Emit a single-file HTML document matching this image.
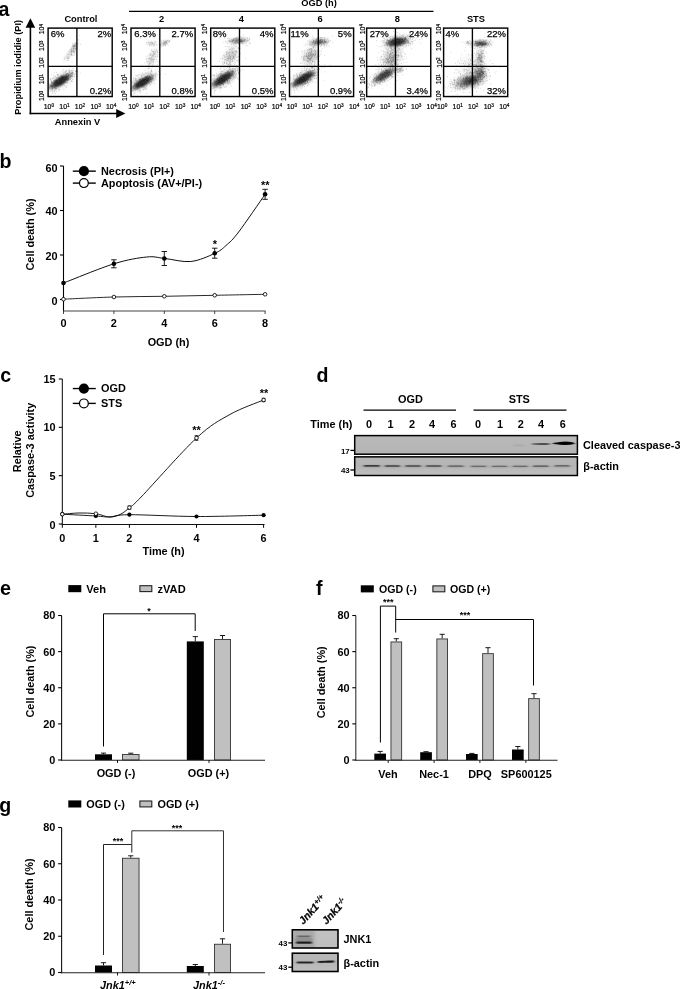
<!DOCTYPE html>
<html><head><meta charset="utf-8"><title>Figure</title>
<style>html,body{margin:0;padding:0;background:#fff}svg{display:block}text{font-family:"Liberation Sans",sans-serif;fill:#000}</style>
</head><body>
<svg width="680" height="989" viewBox="0 0 680 989">
<rect width="680" height="989" fill="#fff"/>
<g opacity="0.999">
<defs>
<radialGradient id="gf"><stop offset="0" stop-opacity="1"/><stop offset="0.38" stop-opacity="1"/><stop offset="0.55" stop-opacity="0.72"/><stop offset="0.75" stop-opacity="0.3"/><stop offset="0.9" stop-opacity="0.08"/><stop offset="1" stop-opacity="0"/></radialGradient>
<radialGradient id="gg"><stop offset="0" stop-opacity="1"/><stop offset="0.2" stop-opacity="0.87"/><stop offset="0.4" stop-opacity="0.58"/><stop offset="0.6" stop-opacity="0.3"/><stop offset="0.8" stop-opacity="0.11"/><stop offset="1" stop-opacity="0"/></radialGradient>
<radialGradient id="g1"><stop offset="0" stop-color="#000" stop-opacity="1"/><stop offset="0.45" stop-color="#000" stop-opacity="0.85"/><stop offset="0.75" stop-color="#000" stop-opacity="0.35"/><stop offset="1" stop-color="#000" stop-opacity="0"/></radialGradient>
<radialGradient id="g2"><stop offset="0" stop-color="#000" stop-opacity="0.8"/><stop offset="0.5" stop-color="#000" stop-opacity="0.4"/><stop offset="1" stop-color="#000" stop-opacity="0"/></radialGradient>
<filter id="grain" x="0" y="0" width="100%" height="100%" filterUnits="objectBoundingBox" color-interpolation-filters="sRGB"><feTurbulence type="fractalNoise" baseFrequency="1.1" numOctaves="2" seed="7" result="n"/><feColorMatrix in="n" type="matrix" values="0 0 0 0 0  0 0 0 0 0  0 0 0 0 0  1.6 0 0 0 -0.3" result="na"/><feComposite in="SourceGraphic" in2="na" operator="arithmetic" k1="0" k2="1.25" k3="1" k4="-0.95" result="c"/><feComponentTransfer in="c"><feFuncA type="linear" slope="2.2" intercept="0"/></feComponentTransfer></filter>
<filter id="soft" x="-5%" y="-5%" width="110%" height="110%"><feGaussianBlur stdDeviation="0.35"/></filter>
<linearGradient id="blot" x1="0" y1="0" x2="0" y2="1"><stop offset="0" stop-color="#b9b9b9"/><stop offset="1" stop-color="#b5b5b5"/></linearGradient>
<linearGradient id="blot2" x1="0" y1="0" x2="0" y2="1"><stop offset="0" stop-color="#b7b7b7"/><stop offset="0.5" stop-color="#b5b5b5"/><stop offset="1" stop-color="#c0c0c0"/></linearGradient>
<filter id="b1" x="-20%" y="-100%" width="140%" height="300%"><feGaussianBlur stdDeviation="1.1 0.45"/></filter>
<filter id="b2" x="-20%" y="-100%" width="140%" height="300%"><feGaussianBlur stdDeviation="1.2 0.55"/></filter>
</defs>
<text x="-1.4" y="15.5" text-anchor="start" style="font-size:19.6px;font-weight:bold;">a</text>
<line x1="30.4" y1="114.3" x2="30.4" y2="26" stroke="#000" stroke-width="1.6"/>
<polygon points="30.4,18.3 25.6,27.7 35.2,27.7" fill="#000"/>
<line x1="29.6" y1="113.5" x2="118" y2="113.5" stroke="#000" stroke-width="1.6"/>
<polygon points="125.4,113.5 116.2,109 116.2,118" fill="#000"/>
<text x="21.1" y="67.4" text-anchor="middle" style="font-size:9.2px;font-weight:bold;" transform="rotate(-90 21.1 67.4)">Propidium iodidie (PI)</text>
<text x="77.5" y="124.9" text-anchor="middle" style="font-size:9.3px;font-weight:bold;">Annexin V</text>
<text x="301.2" y="6.3" text-anchor="start" style="font-size:9.3px;font-weight:bold;">OGD (h)</text>
<line x1="129" y1="11.3" x2="433.5" y2="11.3" stroke="#000" stroke-width="1.2"/>
<clipPath id="cp0"><rect x="48.1" y="28.1" width="64.1" height="68.45"/></clipPath>
<g clip-path="url(#cp0)"><g filter="url(#soft)">
<ellipse cx="60.4" cy="81.2" rx="16.8" ry="5.5" fill="url(#gf)" opacity="0.74" transform="rotate(-33 60.4 81.2)"/>
<ellipse cx="60.6" cy="80.6" rx="21" ry="9.5" fill="url(#gg)" opacity="0.22" transform="rotate(-33 60.6 80.6)"/>
<ellipse cx="71.1" cy="52.1" rx="16" ry="4.6" fill="url(#gg)" opacity="0.17" transform="rotate(-52 71.1 52.1)"/>
<ellipse cx="74.6" cy="45.1" rx="5.5" ry="2.8" fill="url(#gg)" opacity="0.2" transform="rotate(-50 74.6 45.1)"/>
<path d="M59.7 81.9h.7M66.5 79.5h.7M67.1 76.4h.7M54.2 92.1h.7M62.3 81.2h.7M54.7 79.3h.7M65.7 81.6h.7M56.4 83.4h.7M60.8 75.7h.7M57.9 86.6h.7M64.9 77.8h.7M56.1 84.0h.7M66.7 76.2h.7M55.4 81.0h.7M65.4 82.0h.7M54.9 80.4h.7M58.3 81.7h.7M55.8 85.0h.7M54.4 81.2h.7M54.5 90.5h.7M62.0 81.4h.7M60.7 78.2h.7M51.8 93.5h.7M54.4 87.1h.7M59.3 82.3h.7M58.5 82.6h.7M63.1 79.0h.7M65.2 78.9h.7M75.4 71.0h.7M60.9 80.5h.7M66.1 86.2h.7M67.9 71.2h.7M56.2 80.9h.7M66.6 76.6h.7M76.6 71.8h.7M64.0 82.7h.7M60.5 78.4h.7M56.3 81.0h.7M50.4 86.7h.7M56.4 78.0h.7M51.7 82.9h.7M51.1 81.0h.7M53.5 83.7h.7M60.7 79.4h.7M52.5 86.1h.7M71.1 75.6h.7M66.5 77.3h.7M66.7 79.4h.7M63.9 80.5h.7M60.7 78.8h.7M77.4 71.3h.7M72.8 73.9h.7M64.4 79.4h.7M62.9 78.6h.7M57.3 84.4h.7M54.1 81.7h.7M61.0 82.5h.7M54.4 81.7h.7M67.6 73.6h.7M57.1 86.4h.7M61.0 78.8h.7M64.2 77.4h.7M59.2 81.5h.7M58.3 85.7h.7M66.0 76.4h.7M58.0 82.0h.7M61.9 82.7h.7M69.5 75.6h.7M53.5 78.6h.7M51.4 82.3h.7M67.8 74.9h.7M61.1 83.5h.7M60.9 83.6h.7M57.0 80.7h.7M62.0 83.1h.7M56.0 81.0h.7M56.6 82.2h.7M59.1 84.7h.7M55.7 83.2h.7M57.0 83.8h.7M58.4 85.5h.7M57.5 83.6h.7M56.2 88.5h.7M62.0 71.0h.7M61.5 81.7h.7M50.3 78.6h.7M51.6 83.4h.7M64.5 77.1h.7M58.6 84.4h.7M63.1 69.7h.7M60.0 84.2h.7M64.6 80.2h.7M62.4 77.9h.7M65.5 78.5h.7M54.8 80.6h.7M59.0 86.1h.7M68.1 75.9h.7M67.6 78.6h.7M67.1 78.1h.7M57.4 82.3h.7M71.8 62.3h.7M62.6 82.9h.7M62.4 76.3h.7M71.4 73.7h.7M52.3 92.7h.7M55.5 85.3h.7M74.0 76.5h.7M53.2 77.8h.7M54.2 84.0h.7M58.8 77.5h.7M56.1 89.0h.7M60.4 83.6h.7M71.8 72.2h.7M69.6 65.5h.7M61.9 80.1h.7M62.9 73.1h.7M54.7 86.2h.7M61.9 77.1h.7M51.4 81.7h.7M63.5 77.4h.7M61.6 83.1h.7M61.2 85.9h.7M59.3 78.5h.7M61.6 84.5h.7M62.1 80.8h.7M48.7 86.9h.7M64.9 78.0h.7M56.2 80.5h.7M57.3 75.0h.7M66.8 73.4h.7M59.4 78.4h.7M59.5 79.2h.7M66.5 80.4h.7M77.3 65.7h.7M73.5 48.4h.7M71.3 51.4h.7M72.9 46.4h.7M67.3 60.7h.7M73.7 48.3h.7M77.4 43.3h.7M73.8 52.4h.7M72.3 43.3h.7M71.0 54.9h.7M72.8 48.9h.7M72.4 50.7h.7M67.6 58.1h.7M64.3 58.9h.7M71.2 52.0h.7M73.5 51.3h.7M68.5 57.7h.7M75.3 46.9h.7M76.2 43.3h.7M75.0 43.5h.7M71.7 47.4h.7" stroke="#222" stroke-width="0.75" stroke-opacity="0.3" fill="none"/>
<path d="M61.9 77.9h.7M56.2 83.2h.7M56.6 83.6h.7M71.1 73.6h.7M49.9 91.3h.7M61.1 78.6h.7M64.5 79.0h.7M59.9 82.4h.7M55.2 88.1h.7M66.2 82.6h.7M64.3 80.9h.7M49.4 84.8h.7M63.9 85.3h.7M61.9 83.4h.7M62.2 81.6h.7M60.9 78.6h.7M54.8 88.4h.7M58.2 79.1h.7M61.8 80.0h.7M55.7 78.3h.7M61.5 78.4h.7M60.0 82.3h.7M60.3 87.3h.7M60.3 79.5h.7M50.9 82.0h.7M58.1 87.9h.7M70.7 81.1h.7M64.7 83.5h.7M66.2 75.1h.7M66.7 82.2h.7M62.8 82.6h.7M61.9 80.7h.7M65.0 79.7h.7M50.9 85.5h.7M67.4 73.8h.7M61.0 82.2h.7M68.2 79.2h.7M52.0 82.6h.7M70.3 73.9h.7M61.0 83.5h.7M63.5 83.5h.7M56.8 85.3h.7M57.7 85.5h.7M59.5 81.9h.7M62.9 75.9h.7M53.8 80.7h.7M51.0 84.9h.7M56.5 82.0h.7M61.7 86.4h.7M71.8 72.6h.7M55.1 81.3h.7M53.5 91.4h.7M52.3 87.1h.7M55.3 80.9h.7M74.5 76.2h.7M61.0 77.7h.7M57.9 78.4h.7M60.8 76.9h.7M53.8 83.2h.7M75.2 71.5h.7M68.4 79.3h.7M62.0 77.8h.7M58.0 81.6h.7M53.6 81.9h.7M66.6 77.4h.7M62.0 81.6h.7M63.9 79.2h.7M55.7 85.6h.7M65.0 76.6h.7M53.1 85.6h.7M66.4 77.8h.7M71.9 76.4h.7M60.4 78.4h.7M72.7 76.9h.7M57.5 88.3h.7M57.8 74.7h.7M70.7 75.3h.7M62.7 74.6h.7M65.0 74.1h.7M55.1 82.8h.7M66.2 77.0h.7M53.6 82.5h.7M51.7 86.7h.7M66.3 70.9h.7M48.6 84.1h.7M51.3 86.0h.7M66.9 83.1h.7M65.8 74.3h.7M69.0 71.9h.7M50.1 85.7h.7M65.8 79.4h.7M59.3 90.9h.7M53.0 83.6h.7M49.6 87.4h.7M50.3 80.0h.7M60.2 83.7h.7M55.1 76.7h.7M60.9 82.5h.7M60.2 80.5h.7M69.4 70.8h.7M55.9 77.6h.7M56.0 79.4h.7M63.9 79.1h.7M63.7 85.1h.7M55.6 84.6h.7M65.2 86.6h.7M62.5 76.6h.7M55.9 80.9h.7M60.9 84.4h.7M63.4 84.8h.7M58.9 81.6h.7M63.9 72.2h.7M62.8 78.5h.7M57.6 77.1h.7M57.2 79.2h.7M56.0 86.1h.7M74.1 74.1h.7M54.9 84.0h.7M79.8 73.1h.7M54.2 72.4h.7M54.5 76.7h.7M51.4 74.2h.7M58.3 81.7h.7M62.1 83.1h.7M69.4 70.9h.7M70.0 83.7h.7M57.8 82.6h.7M70.1 79.1h.7M60.4 76.2h.7M70.4 76.3h.7M59.5 80.0h.7M66.2 70.6h.7M69.3 79.8h.7M59.4 82.8h.7M66.8 56.5h.7M75.3 48.7h.7M77.2 47.9h.7M78.1 39.8h.7M67.0 58.6h.7M74.8 46.7h.7M74.1 46.8h.7M71.3 54.5h.7M79.5 35.7h.7M74.7 49.1h.7M71.1 49.4h.7M74.3 51.5h.7M75.0 48.5h.7M73.2 48.8h.7M71.4 51.9h.7M71.8 52.1h.7M76.7 44.5h.7M75.2 45.2h.7M71.4 48.4h.7" stroke="#222" stroke-width="0.75" stroke-opacity="0.3" fill="none"/>
<path d="M58.1 84.2h.7M54.0 84.4h.7M58.6 80.3h.7M76.4 71.0h.7M49.6 85.8h.7M63.0 78.0h.7M72.7 72.6h.7M59.2 80.8h.7M59.3 78.3h.7M56.0 80.3h.7M52.1 85.7h.7M67.9 78.4h.7M66.5 77.7h.7M57.1 80.8h.7M64.3 76.9h.7M55.3 85.8h.7M71.8 75.0h.7M60.6 81.8h.7M56.4 82.6h.7M66.0 78.8h.7M59.5 82.0h.7M64.0 79.9h.7M68.2 78.2h.7M51.3 86.3h.7M55.0 89.3h.7M67.8 79.2h.7M59.6 83.7h.7M66.7 80.6h.7M68.2 74.2h.7M59.6 77.8h.7M54.7 80.6h.7M71.4 70.5h.7M59.3 85.7h.7M61.3 76.4h.7M65.1 82.3h.7M60.7 78.7h.7M59.6 84.1h.7M61.9 76.4h.7M63.4 78.3h.7M55.4 86.1h.7M59.6 79.9h.7M55.4 82.5h.7M69.7 79.2h.7M59.5 79.5h.7M63.9 77.1h.7M60.3 79.7h.7M65.9 77.2h.7M69.9 77.8h.7M62.1 79.7h.7M61.9 80.9h.7M57.3 83.3h.7M58.7 84.1h.7M56.8 83.0h.7M62.2 84.9h.7M57.1 81.9h.7M70.0 73.6h.7M56.1 85.1h.7M61.2 83.7h.7M57.3 83.3h.7M76.4 74.4h.7M61.3 79.4h.7M60.8 80.5h.7M58.2 83.0h.7M57.7 83.9h.7M67.4 75.8h.7M56.3 85.5h.7M51.9 91.3h.7M57.0 85.0h.7M72.0 74.0h.7M62.0 80.8h.7M51.0 90.4h.7M49.7 88.5h.7M71.6 72.8h.7M57.6 79.0h.7M63.1 79.0h.7M53.6 81.6h.7M70.0 74.8h.7M71.8 71.1h.7M57.6 75.5h.7M63.8 80.0h.7M55.8 81.8h.7M76.8 76.0h.7M59.0 76.9h.7M59.3 80.6h.7M71.9 73.1h.7M66.8 78.8h.7M67.0 80.0h.7M72.1 81.4h.7M69.3 71.7h.7M67.1 76.6h.7M62.6 76.9h.7M62.2 78.2h.7M50.6 79.1h.7M64.9 72.0h.7M65.0 72.1h.7M54.0 91.0h.7M64.2 78.5h.7M56.9 86.5h.7M59.2 81.4h.7M61.1 79.9h.7M59.4 79.5h.7M55.9 87.1h.7M71.6 78.4h.7M58.3 75.5h.7M62.6 81.6h.7M60.8 77.2h.7M61.3 83.7h.7M66.1 78.9h.7M56.3 81.9h.7M70.4 70.9h.7M50.3 79.1h.7M60.5 84.3h.7M72.4 68.4h.7M56.2 91.2h.7M66.0 80.0h.7M71.9 75.6h.7M71.1 75.5h.7M52.1 82.5h.7M65.0 71.2h.7M71.2 76.3h.7M69.1 72.7h.7M56.5 82.5h.7M62.1 79.6h.7M59.9 86.0h.7M61.5 77.8h.7M50.9 83.5h.7M56.1 81.9h.7M61.5 77.2h.7M71.7 70.9h.7M59.3 81.5h.7M63.3 76.0h.7M51.4 86.2h.7M54.1 85.0h.7M71.4 81.3h.7M74.6 49.8h.7M67.4 54.4h.7M64.6 57.4h.7M71.1 54.0h.7M67.7 58.3h.7M73.4 50.7h.7M74.8 53.6h.7M73.0 51.6h.7M70.8 54.6h.7M72.3 45.5h.7M73.7 50.9h.7M74.3 55.1h.7M74.5 44.2h.7M71.0 50.4h.7M68.0 60.2h.7M74.8 49.1h.7M74.1 45.7h.7M72.9 45.1h.7M75.4 46.1h.7" stroke="#222" stroke-width="0.75" stroke-opacity="0.3" fill="none"/>
<path d="M56.4 83.0h.7M63.1 79.1h.7M59.9 82.1h.7M66.5 73.3h.7M63.0 83.3h.7M61.4 76.8h.7M64.1 80.6h.7M75.4 71.2h.7M69.9 76.7h.7M64.3 79.5h.7M60.9 80.9h.7M51.9 89.8h.7M57.6 84.2h.7M67.8 77.8h.7M59.9 85.3h.7M51.5 86.6h.7M56.4 80.9h.7M54.6 90.8h.7M57.6 84.2h.7M60.4 80.3h.7M67.6 79.0h.7M64.5 82.4h.7M50.4 86.3h.7M60.4 79.4h.7M59.5 81.3h.7M63.7 79.6h.7M67.8 78.5h.7M66.1 87.5h.7M68.2 80.4h.7M65.0 79.9h.7M50.6 85.8h.7M56.9 85.8h.7M67.6 81.0h.7M49.5 87.8h.7M67.3 77.3h.7M59.2 81.8h.7M63.4 82.2h.7M68.2 75.9h.7M52.2 88.8h.7M66.7 78.8h.7M64.4 78.8h.7M65.5 78.4h.7M54.7 88.3h.7M65.0 77.9h.7M64.4 79.7h.7M70.3 76.6h.7M60.1 82.0h.7M55.2 81.3h.7M72.8 70.5h.7M55.3 87.3h.7M57.9 77.7h.7M63.6 81.8h.7M64.3 79.0h.7M53.9 85.1h.7M60.9 79.0h.7M57.4 83.7h.7M61.7 76.0h.7M59.5 84.2h.7M51.9 87.4h.7M61.3 75.1h.7M76.9 71.2h.7M56.0 82.6h.7M58.0 83.9h.7M56.7 80.9h.7M62.0 77.5h.7M50.6 86.0h.7M64.3 81.6h.7M57.3 84.3h.7M52.7 87.2h.7M63.1 81.0h.7M54.1 87.3h.7M57.5 82.5h.7M55.8 80.6h.7M52.2 88.6h.7M66.8 77.5h.7M67.4 79.9h.7M67.3 82.7h.7M65.3 78.1h.7M52.3 78.7h.7M69.5 78.7h.7M56.1 86.2h.7M65.7 77.6h.7M62.2 84.8h.7M55.7 89.1h.7M59.1 82.0h.7M58.1 89.9h.7M68.6 69.4h.7M76.9 66.2h.7M71.6 72.7h.7M60.7 81.2h.7M71.9 73.7h.7M60.5 78.8h.7M63.2 77.3h.7M52.9 80.5h.7M58.7 80.3h.7M63.6 89.2h.7M70.0 77.0h.7M54.0 82.9h.7M62.6 77.0h.7M60.8 79.2h.7M61.9 78.3h.7M56.9 74.3h.7M72.6 76.7h.7M62.1 80.1h.7M66.0 74.8h.7M53.5 75.1h.7M71.9 79.5h.7M60.5 79.8h.7M71.4 81.0h.7M52.3 88.3h.7M56.6 83.5h.7M67.5 79.6h.7M61.0 78.2h.7M54.5 82.3h.7M57.1 83.2h.7M68.0 76.0h.7M59.8 85.5h.7M58.2 80.4h.7M60.1 75.7h.7M64.2 77.8h.7M74.2 74.6h.7M51.5 86.1h.7M56.1 82.8h.7M64.9 77.0h.7M51.9 88.7h.7M52.9 83.1h.7M55.8 79.5h.7M75.4 73.1h.7M56.3 72.6h.7M59.0 89.4h.7M62.6 79.0h.7M63.8 82.8h.7M54.9 93.5h.7M59.2 83.6h.7M70.5 49.2h.7M72.5 55.7h.7M68.8 51.2h.7M75.3 51.0h.7M68.9 57.8h.7M74.4 53.0h.7M72.5 50.2h.7M70.1 50.2h.7M72.8 55.1h.7M74.5 46.7h.7M80.1 44.5h.7M73.5 45.4h.7M70.9 55.1h.7M66.9 58.6h.7M73.4 52.3h.7M72.8 46.3h.7M73.3 46.6h.7M73.7 47.8h.7M73.3 46.7h.7" stroke="#222" stroke-width="0.75" stroke-opacity="0.3" fill="none"/>
</g></g>
<rect x="48.1" y="28.1" width="64.1" height="68.45" fill="none" stroke="#000" stroke-width="1.45"/>
<line x1="76.9" y1="28.1" x2="76.9" y2="96.55000000000001" stroke="#000" stroke-width="1.35"/>
<line x1="48.1" y1="66.35" x2="112.19999999999999" y2="66.35" stroke="#000" stroke-width="1.3"/>
<text x="80.95" y="22.4" text-anchor="middle" style="font-size:9.3px;font-weight:bold;">Control</text>
<text x="50.800000000000004" y="37.1" text-anchor="start" style="font-size:9.5px;" stroke="#000" stroke-width="0.25">6%</text>
<text x="111.29999999999998" y="37.1" text-anchor="end" style="font-size:9.5px;" stroke="#000" stroke-width="0.25">2%</text>
<text x="111.29999999999998" y="93.7" text-anchor="end" style="font-size:9.5px;" stroke="#000" stroke-width="0.25">0.2%</text>
<text x="48.9" y="109.1" text-anchor="middle" stroke="#000" stroke-width="0.2" style="font-size:6.9px">10<tspan dy="-1.9" style="font-size:4.7px">0</tspan></text>
<text x="64.5" y="109.1" text-anchor="middle" stroke="#000" stroke-width="0.2" style="font-size:6.9px">10<tspan dy="-1.9" style="font-size:4.7px">1</tspan></text>
<text x="80.0" y="109.1" text-anchor="middle" stroke="#000" stroke-width="0.2" style="font-size:6.9px">10<tspan dy="-1.9" style="font-size:4.7px">2</tspan></text>
<text x="95.6" y="109.1" text-anchor="middle" stroke="#000" stroke-width="0.2" style="font-size:6.9px">10<tspan dy="-1.9" style="font-size:4.7px">3</tspan></text>
<text x="111.1" y="109.1" text-anchor="middle" stroke="#000" stroke-width="0.2" style="font-size:6.9px">10<tspan dy="-1.9" style="font-size:4.7px">4</tspan></text>
<text x="44.4" y="95.9" text-anchor="middle" transform="rotate(-90 44.4 95.9)" stroke="#000" stroke-width="0.2" style="font-size:6.9px">10<tspan dy="-1.8" style="font-size:4.7px">0</tspan></text>
<text x="44.4" y="79.2" text-anchor="middle" transform="rotate(-90 44.4 79.2)" stroke="#000" stroke-width="0.2" style="font-size:6.9px">10<tspan dy="-1.8" style="font-size:4.7px">1</tspan></text>
<text x="44.4" y="62.5" text-anchor="middle" transform="rotate(-90 44.4 62.5)" stroke="#000" stroke-width="0.2" style="font-size:6.9px">10<tspan dy="-1.8" style="font-size:4.7px">2</tspan></text>
<text x="44.4" y="45.8" text-anchor="middle" transform="rotate(-90 44.4 45.8)" stroke="#000" stroke-width="0.2" style="font-size:6.9px">10<tspan dy="-1.8" style="font-size:4.7px">3</tspan></text>
<text x="44.4" y="29.1" text-anchor="middle" transform="rotate(-90 44.4 29.1)" stroke="#000" stroke-width="0.2" style="font-size:6.9px">10<tspan dy="-1.8" style="font-size:4.7px">4</tspan></text>
<clipPath id="cp1"><rect x="131.0" y="28.1" width="64.1" height="68.45"/></clipPath>
<g clip-path="url(#cp1)"><g filter="url(#soft)">
<ellipse cx="142.6" cy="82.5" rx="15.5" ry="5.3" fill="url(#gf)" opacity="0.74" transform="rotate(-31 142.6 82.5)"/>
<ellipse cx="143.0" cy="81.6" rx="20" ry="10" fill="url(#gg)" opacity="0.25" transform="rotate(-31 143.0 81.6)"/>
<ellipse cx="152.5" cy="57.6" rx="15" ry="7" fill="url(#gg)" opacity="0.15" transform="rotate(-66 152.5 57.6)"/>
<ellipse cx="164.5" cy="43.1" rx="7" ry="4" fill="url(#gg)" opacity="0.25" transform="rotate(-30 164.5 43.1)"/>
<ellipse cx="152.0" cy="43.7" rx="8" ry="4.5" fill="url(#gg)" opacity="0.13" transform="rotate(0 152.0 43.7)"/>
<path d="M146.2 78.2h.7M138.2 84.9h.7M151.4 75.1h.7M143.4 89.4h.7M146.1 77.8h.7M150.2 80.9h.7M137.5 80.2h.7M140.8 83.5h.7M146.6 77.9h.7M153.0 76.1h.7M138.4 84.1h.7M140.9 86.9h.7M152.2 77.7h.7M143.5 83.5h.7M142.2 83.5h.7M131.7 90.2h.7M143.2 87.2h.7M145.6 77.5h.7M140.8 85.3h.7M139.9 86.0h.7M149.0 75.7h.7M145.3 88.9h.7M144.8 84.8h.7M142.3 81.7h.7M149.2 76.2h.7M132.5 91.3h.7M142.5 85.9h.7M151.6 79.8h.7M133.6 85.7h.7M140.3 83.5h.7M141.3 82.2h.7M143.7 86.5h.7M145.7 80.9h.7M135.9 82.9h.7M144.8 79.0h.7M138.2 86.8h.7M144.1 77.4h.7M140.4 90.8h.7M149.5 76.8h.7M133.5 91.5h.7M139.2 87.4h.7M142.6 80.1h.7M133.2 90.1h.7M145.5 78.0h.7M148.7 83.7h.7M145.2 87.7h.7M142.2 85.1h.7M141.4 80.8h.7M132.1 87.9h.7M134.7 92.7h.7M137.2 85.7h.7M140.2 82.6h.7M141.1 82.5h.7M134.8 83.9h.7M145.6 79.7h.7M148.2 77.7h.7M136.2 86.3h.7M145.3 76.7h.7M133.3 86.6h.7M138.4 88.5h.7M135.3 88.7h.7M145.6 78.7h.7M133.4 81.8h.7M151.5 77.6h.7M137.9 86.2h.7M135.8 80.8h.7M152.1 77.0h.7M135.9 85.9h.7M138.0 84.2h.7M141.9 84.1h.7M143.0 79.8h.7M142.8 80.1h.7M144.7 84.8h.7M148.2 80.2h.7M137.4 88.2h.7M138.4 87.4h.7M142.9 84.9h.7M132.8 82.0h.7M148.2 81.2h.7M144.4 87.3h.7M140.9 80.2h.7M150.3 79.2h.7M139.2 80.4h.7M142.3 86.9h.7M141.6 82.7h.7M142.3 83.1h.7M150.1 81.1h.7M135.3 79.4h.7M150.6 81.4h.7M131.6 88.0h.7M133.1 79.7h.7M144.9 84.0h.7M143.7 80.3h.7M145.8 78.2h.7M143.5 85.0h.7M144.5 77.4h.7M137.5 88.4h.7M144.9 82.3h.7M134.3 89.0h.7M148.1 83.1h.7M144.8 86.8h.7M133.7 86.1h.7M139.2 79.5h.7M142.4 78.0h.7M146.9 76.7h.7M142.0 75.2h.7M137.4 82.3h.7M151.1 82.8h.7M146.8 76.8h.7M149.3 83.0h.7M140.0 84.8h.7M149.6 79.1h.7M140.3 83.2h.7M131.5 93.7h.7M145.8 88.8h.7M148.4 82.3h.7M151.1 77.7h.7M148.4 78.4h.7M147.8 72.2h.7M145.8 78.7h.7M155.2 74.0h.7M151.5 71.5h.7M141.6 80.9h.7M149.1 75.3h.7M151.1 71.3h.7M138.5 84.2h.7M137.6 83.9h.7M146.0 83.5h.7M136.0 84.1h.7M144.4 88.8h.7M141.6 81.5h.7M137.4 87.1h.7M144.8 69.9h.7M157.0 51.7h.7M152.7 51.8h.7M154.1 53.3h.7M154.1 49.7h.7M149.1 58.7h.7M153.9 54.5h.7M150.3 58.9h.7M155.1 56.6h.7M158.8 52.5h.7M150.3 54.2h.7M156.5 59.8h.7M156.5 51.1h.7M151.7 55.3h.7M155.4 51.3h.7M151.5 69.0h.7M148.8 68.6h.7M145.8 56.3h.7M153.2 53.8h.7M149.8 54.2h.7M157.4 54.4h.7M163.0 41.1h.7M165.9 41.9h.7M163.0 44.6h.7M165.7 43.1h.7M163.2 43.3h.7M163.8 45.5h.7M165.6 40.9h.7M166.2 42.0h.7M148.3 42.9h.7M149.3 42.8h.7M147.6 42.8h.7M151.2 42.4h.7M155.4 41.7h.7M150.1 42.8h.7" stroke="#222" stroke-width="0.75" stroke-opacity="0.3" fill="none"/>
<path d="M142.5 87.5h.7M147.5 80.5h.7M144.4 87.8h.7M137.7 86.4h.7M149.9 73.5h.7M144.9 82.0h.7M142.3 85.8h.7M150.9 81.6h.7M149.8 77.8h.7M143.9 78.8h.7M155.0 79.1h.7M152.2 77.9h.7M143.3 86.7h.7M148.0 81.1h.7M151.1 77.9h.7M146.6 83.2h.7M145.3 79.0h.7M145.8 77.4h.7M139.6 90.4h.7M154.3 74.1h.7M150.2 76.7h.7M141.3 81.4h.7M139.3 85.1h.7M137.6 86.2h.7M134.7 90.5h.7M151.6 81.6h.7M136.1 85.8h.7M147.7 76.7h.7M146.2 80.3h.7M143.9 82.4h.7M146.5 80.2h.7M142.1 82.3h.7M140.1 79.5h.7M146.3 85.2h.7M141.5 86.8h.7M147.9 79.0h.7M135.6 87.7h.7M137.2 86.9h.7M143.1 88.9h.7M149.6 79.8h.7M140.6 84.0h.7M155.9 75.2h.7M149.0 76.8h.7M138.2 83.4h.7M139.6 84.8h.7M142.9 81.6h.7M151.7 74.8h.7M135.5 80.1h.7M137.9 85.1h.7M153.5 76.9h.7M151.0 79.6h.7M144.7 82.3h.7M146.7 80.7h.7M139.5 83.0h.7M135.2 90.1h.7M142.1 73.1h.7M135.7 78.9h.7M134.3 84.2h.7M138.4 84.3h.7M138.3 87.3h.7M138.0 85.1h.7M135.2 85.6h.7M146.2 82.5h.7M146.7 79.3h.7M133.6 88.5h.7M155.7 70.1h.7M149.6 84.3h.7M152.7 78.4h.7M141.7 80.8h.7M140.8 83.0h.7M134.2 85.2h.7M140.5 83.3h.7M142.3 81.9h.7M147.6 73.8h.7M131.6 80.4h.7M135.5 79.0h.7M138.2 86.3h.7M139.5 84.8h.7M141.7 81.1h.7M148.9 78.1h.7M132.0 82.2h.7M146.0 79.7h.7M154.3 83.2h.7M149.0 79.4h.7M142.2 79.9h.7M150.7 74.5h.7M137.6 91.4h.7M139.5 74.3h.7M136.5 84.8h.7M142.6 90.1h.7M149.4 81.8h.7M137.1 81.3h.7M135.6 89.2h.7M150.5 78.4h.7M144.5 79.8h.7M150.6 74.3h.7M155.6 73.9h.7M138.3 84.2h.7M137.2 88.5h.7M156.7 64.7h.7M140.4 79.4h.7M151.0 71.0h.7M138.7 83.1h.7M144.7 76.9h.7M165.1 73.9h.7M148.1 68.6h.7M141.9 78.7h.7M142.0 86.4h.7M143.2 80.0h.7M146.1 77.1h.7M140.7 83.2h.7M134.3 83.2h.7M141.2 76.8h.7M144.6 83.1h.7M144.0 82.7h.7M144.4 74.7h.7M134.8 81.3h.7M136.9 90.3h.7M147.7 77.9h.7M132.9 77.8h.7M147.1 78.1h.7M141.4 85.5h.7M146.4 86.1h.7M140.6 85.0h.7M136.9 85.8h.7M134.7 85.8h.7M140.4 79.8h.7M138.9 79.7h.7M135.9 83.3h.7M135.2 78.5h.7M138.7 78.2h.7M151.6 82.4h.7M137.3 85.8h.7M158.4 62.2h.7M153.0 51.9h.7M149.9 58.4h.7M156.6 50.6h.7M150.6 53.7h.7M153.5 59.9h.7M153.6 59.5h.7M157.2 52.6h.7M149.6 63.6h.7M151.4 57.6h.7M151.3 57.9h.7M151.6 50.8h.7M141.6 65.0h.7M146.9 61.3h.7M151.5 59.7h.7M147.6 58.4h.7M151.9 66.1h.7M153.3 59.6h.7M149.7 71.0h.7M160.5 44.5h.7M169.0 41.6h.7M167.7 45.2h.7M161.2 46.5h.7M159.7 45.0h.7M161.0 41.0h.7M166.7 40.7h.7M165.4 43.8h.7M169.1 40.5h.7M147.8 41.1h.7M151.1 42.3h.7M154.4 45.0h.7M146.2 42.9h.7M152.0 43.4h.7M155.4 41.5h.7" stroke="#222" stroke-width="0.75" stroke-opacity="0.3" fill="none"/>
<path d="M140.1 81.7h.7M147.7 80.7h.7M141.5 83.2h.7M144.2 83.7h.7M151.9 78.9h.7M139.8 79.8h.7M136.1 85.6h.7M144.8 79.7h.7M152.1 80.1h.7M147.1 80.6h.7M152.5 78.8h.7M147.9 79.2h.7M146.0 81.1h.7M150.5 79.1h.7M140.9 81.7h.7M146.1 79.1h.7M138.4 86.4h.7M137.6 82.2h.7M158.0 71.5h.7M142.9 78.9h.7M145.7 77.2h.7M139.5 82.1h.7M139.7 81.9h.7M138.6 82.8h.7M141.1 80.8h.7M144.3 79.9h.7M147.0 81.5h.7M150.4 76.9h.7M138.9 90.2h.7M144.0 80.4h.7M136.7 84.9h.7M143.6 80.7h.7M143.3 74.5h.7M148.8 76.7h.7M136.2 84.2h.7M152.8 80.7h.7M149.6 77.2h.7M141.4 78.2h.7M149.9 79.4h.7M142.5 83.9h.7M142.1 83.5h.7M147.3 80.6h.7M144.5 80.8h.7M139.9 80.3h.7M149.4 77.6h.7M139.8 81.7h.7M145.8 76.3h.7M132.6 86.5h.7M149.7 77.9h.7M136.4 82.0h.7M133.2 94.6h.7M147.1 75.5h.7M142.4 80.4h.7M138.1 85.7h.7M153.3 78.5h.7M135.7 86.7h.7M135.5 86.7h.7M143.7 78.9h.7M142.6 83.3h.7M146.5 83.6h.7M132.8 86.4h.7M137.0 85.7h.7M142.1 79.8h.7M135.9 86.4h.7M145.7 85.5h.7M159.9 74.4h.7M142.7 83.4h.7M151.0 77.7h.7M145.8 78.4h.7M136.5 86.7h.7M139.3 80.4h.7M137.5 84.4h.7M136.8 85.8h.7M149.5 82.7h.7M146.0 93.6h.7M144.5 81.1h.7M137.2 88.1h.7M138.2 75.0h.7M143.6 85.8h.7M140.0 78.2h.7M148.8 79.6h.7M145.3 79.7h.7M147.2 80.7h.7M146.5 79.6h.7M138.8 79.6h.7M141.9 84.6h.7M155.2 77.2h.7M133.9 88.4h.7M136.9 75.6h.7M134.6 80.5h.7M134.8 75.5h.7M150.7 73.7h.7M136.2 75.7h.7M144.3 81.9h.7M139.3 82.4h.7M142.2 79.0h.7M139.8 83.5h.7M151.0 70.3h.7M152.0 78.4h.7M139.7 79.6h.7M147.0 77.6h.7M149.3 78.9h.7M146.5 83.5h.7M145.5 73.8h.7M153.0 75.3h.7M131.5 82.4h.7M149.2 79.6h.7M153.3 80.2h.7M133.1 87.4h.7M136.3 89.5h.7M150.4 79.5h.7M134.6 82.5h.7M146.1 79.2h.7M139.4 85.8h.7M149.7 83.0h.7M142.3 79.4h.7M138.8 84.4h.7M160.7 68.8h.7M152.1 76.0h.7M143.2 78.4h.7M145.7 83.3h.7M147.1 81.5h.7M146.1 89.6h.7M148.7 80.7h.7M143.2 83.9h.7M150.8 81.6h.7M144.8 77.4h.7M133.8 93.5h.7M147.9 77.9h.7M139.1 83.7h.7M139.9 85.9h.7M147.4 79.2h.7M146.5 73.0h.7M159.3 48.1h.7M154.3 52.7h.7M152.7 64.0h.7M154.7 53.8h.7M147.7 63.0h.7M157.5 56.2h.7M148.5 59.2h.7M150.1 61.2h.7M148.5 61.7h.7M150.7 62.7h.7M151.9 51.5h.7M153.4 51.5h.7M147.8 68.2h.7M153.3 54.1h.7M146.7 61.9h.7M151.9 56.0h.7M148.7 54.9h.7M151.1 50.0h.7M151.2 59.9h.7M165.6 41.8h.7M164.9 43.6h.7M161.7 40.1h.7M159.4 46.9h.7M168.4 40.9h.7M165.1 45.2h.7M167.0 43.8h.7M169.4 42.0h.7M164.1 42.2h.7M153.7 42.3h.7M149.0 45.7h.7M148.9 44.2h.7M152.0 43.5h.7M151.9 42.7h.7M153.7 43.5h.7" stroke="#222" stroke-width="0.75" stroke-opacity="0.3" fill="none"/>
<path d="M138.5 85.8h.7M141.0 85.7h.7M140.1 84.2h.7M142.0 79.0h.7M148.4 80.3h.7M148.1 73.9h.7M135.9 87.3h.7M146.7 81.4h.7M151.1 80.5h.7M147.9 75.3h.7M155.2 75.6h.7M143.9 80.3h.7M141.0 86.7h.7M150.4 78.5h.7M140.0 83.6h.7M142.6 81.3h.7M145.7 83.1h.7M145.8 83.9h.7M137.4 85.0h.7M132.5 89.0h.7M131.9 90.8h.7M145.8 81.5h.7M155.1 76.6h.7M141.6 82.2h.7M151.2 79.6h.7M144.1 85.7h.7M144.7 76.4h.7M136.6 86.7h.7M139.5 82.1h.7M139.5 86.3h.7M147.7 80.5h.7M138.0 87.1h.7M146.0 78.9h.7M142.6 80.2h.7M145.9 76.2h.7M139.5 82.0h.7M148.9 80.7h.7M151.9 79.0h.7M146.8 83.5h.7M146.2 76.8h.7M154.1 78.9h.7M146.0 77.3h.7M132.8 87.8h.7M150.2 77.7h.7M145.5 82.5h.7M133.8 89.7h.7M152.3 75.4h.7M147.1 82.7h.7M153.2 79.9h.7M150.2 78.7h.7M144.5 84.3h.7M147.1 81.4h.7M141.8 81.2h.7M141.1 85.8h.7M148.9 76.4h.7M151.3 75.9h.7M140.8 83.6h.7M138.0 84.3h.7M136.1 88.2h.7M144.4 83.4h.7M144.0 83.1h.7M149.9 81.8h.7M143.6 83.0h.7M147.8 76.8h.7M141.4 84.0h.7M151.8 73.4h.7M133.3 85.7h.7M149.1 80.4h.7M138.6 81.9h.7M142.3 84.8h.7M146.1 81.0h.7M143.7 82.0h.7M133.6 85.0h.7M141.3 84.7h.7M138.5 89.3h.7M141.0 86.1h.7M154.0 80.1h.7M149.5 73.0h.7M143.0 80.6h.7M141.2 79.2h.7M139.8 92.0h.7M135.2 84.9h.7M146.9 85.0h.7M136.0 80.8h.7M144.5 79.2h.7M146.8 76.6h.7M144.4 79.7h.7M135.5 83.5h.7M136.2 85.4h.7M140.5 82.1h.7M147.7 80.3h.7M133.8 77.6h.7M147.6 84.1h.7M137.1 89.2h.7M142.2 79.8h.7M135.6 80.0h.7M144.9 82.9h.7M147.0 75.0h.7M138.0 83.4h.7M139.7 93.0h.7M153.6 74.9h.7M150.3 77.5h.7M145.9 87.2h.7M142.8 78.5h.7M144.1 81.1h.7M139.9 87.0h.7M134.0 83.5h.7M144.4 83.9h.7M138.6 79.2h.7M139.5 89.1h.7M139.4 90.8h.7M147.4 78.2h.7M137.4 84.1h.7M141.1 75.4h.7M141.3 75.3h.7M143.2 78.8h.7M135.0 84.3h.7M136.4 83.8h.7M138.7 81.5h.7M155.6 72.9h.7M138.9 84.5h.7M143.9 85.1h.7M136.4 85.5h.7M157.2 74.5h.7M143.3 85.3h.7M150.6 72.7h.7M150.5 84.7h.7M152.6 65.1h.7M145.4 72.9h.7M147.0 76.9h.7M148.1 80.2h.7M143.3 84.2h.7M144.6 62.8h.7M152.8 55.8h.7M157.1 56.4h.7M149.9 55.5h.7M149.5 62.8h.7M149.4 64.3h.7M151.7 60.9h.7M156.6 49.2h.7M154.9 52.0h.7M152.1 59.2h.7M148.2 65.7h.7M157.3 61.4h.7M152.7 56.0h.7M146.0 60.0h.7M148.6 64.9h.7M148.8 58.3h.7M146.2 58.8h.7M149.5 63.7h.7M153.0 61.9h.7M152.7 61.8h.7M165.0 45.4h.7M165.6 42.3h.7M168.4 41.6h.7M167.1 40.6h.7M169.8 40.1h.7M161.4 43.1h.7M164.1 42.6h.7M164.8 41.2h.7M164.4 43.9h.7M150.4 44.2h.7M153.4 44.8h.7M156.4 44.8h.7M151.1 44.9h.7M153.4 45.5h.7" stroke="#222" stroke-width="0.75" stroke-opacity="0.3" fill="none"/>
</g></g>
<rect x="131.0" y="28.1" width="64.1" height="68.45" fill="none" stroke="#000" stroke-width="1.45"/>
<line x1="159.8" y1="28.1" x2="159.8" y2="96.55000000000001" stroke="#000" stroke-width="1.35"/>
<line x1="131.0" y1="66.35" x2="195.1" y2="66.35" stroke="#000" stroke-width="1.3"/>
<text x="161.65" y="22.4" text-anchor="middle" style="font-size:9.3px;font-weight:bold;">2</text>
<text x="134.3" y="37.1" text-anchor="start" style="font-size:9.5px;" stroke="#000" stroke-width="0.25">6.3%</text>
<text x="193.2" y="37.1" text-anchor="end" style="font-size:9.5px;" stroke="#000" stroke-width="0.25">2.7%</text>
<text x="193.2" y="93.7" text-anchor="end" style="font-size:9.5px;" stroke="#000" stroke-width="0.25">0.8%</text>
<text x="133.4" y="109.1" text-anchor="middle" stroke="#000" stroke-width="0.2" style="font-size:6.9px">10<tspan dy="-1.9" style="font-size:4.7px">0</tspan></text>
<text x="149.0" y="109.1" text-anchor="middle" stroke="#000" stroke-width="0.2" style="font-size:6.9px">10<tspan dy="-1.9" style="font-size:4.7px">1</tspan></text>
<text x="164.5" y="109.1" text-anchor="middle" stroke="#000" stroke-width="0.2" style="font-size:6.9px">10<tspan dy="-1.9" style="font-size:4.7px">2</tspan></text>
<text x="180.1" y="109.1" text-anchor="middle" stroke="#000" stroke-width="0.2" style="font-size:6.9px">10<tspan dy="-1.9" style="font-size:4.7px">3</tspan></text>
<text x="195.6" y="109.1" text-anchor="middle" stroke="#000" stroke-width="0.2" style="font-size:6.9px">10<tspan dy="-1.9" style="font-size:4.7px">4</tspan></text>
<text x="126.8" y="95.9" text-anchor="middle" transform="rotate(-90 126.8 95.9)" stroke="#000" stroke-width="0.2" style="font-size:6.9px">10<tspan dy="-1.8" style="font-size:4.7px">0</tspan></text>
<text x="126.8" y="79.2" text-anchor="middle" transform="rotate(-90 126.8 79.2)" stroke="#000" stroke-width="0.2" style="font-size:6.9px">10<tspan dy="-1.8" style="font-size:4.7px">1</tspan></text>
<text x="126.8" y="62.5" text-anchor="middle" transform="rotate(-90 126.8 62.5)" stroke="#000" stroke-width="0.2" style="font-size:6.9px">10<tspan dy="-1.8" style="font-size:4.7px">2</tspan></text>
<text x="126.8" y="45.8" text-anchor="middle" transform="rotate(-90 126.8 45.8)" stroke="#000" stroke-width="0.2" style="font-size:6.9px">10<tspan dy="-1.8" style="font-size:4.7px">3</tspan></text>
<text x="126.8" y="29.1" text-anchor="middle" transform="rotate(-90 126.8 29.1)" stroke="#000" stroke-width="0.2" style="font-size:6.9px">10<tspan dy="-1.8" style="font-size:4.7px">4</tspan></text>
<clipPath id="cp2"><rect x="210.7" y="28.1" width="64.1" height="68.45"/></clipPath>
<g clip-path="url(#cp2)"><g filter="url(#soft)">
<ellipse cx="223.2" cy="78.9" rx="17" ry="5.6" fill="url(#gf)" opacity="0.74" transform="rotate(-33 223.2 78.9)"/>
<ellipse cx="223.9" cy="78.1" rx="22" ry="10.5" fill="url(#gg)" opacity="0.25" transform="rotate(-33 223.9 78.1)"/>
<ellipse cx="230.7" cy="56.1" rx="15" ry="10" fill="url(#gg)" opacity="0.2" transform="rotate(-55 230.7 56.1)"/>
<ellipse cx="238.2" cy="40.8" rx="14" ry="5" fill="url(#gg)" opacity="0.42" transform="rotate(-5 238.2 40.8)"/>
<path d="M217.1 83.4h.7M223.9 72.3h.7M220.2 75.7h.7M228.0 76.1h.7M222.7 82.5h.7M217.3 83.8h.7M235.3 74.6h.7M231.9 68.9h.7M227.8 81.3h.7M212.2 83.4h.7M231.8 72.5h.7M231.9 76.0h.7M224.7 82.6h.7M220.7 85.8h.7M224.4 75.6h.7M220.6 75.7h.7M214.7 84.9h.7M218.5 78.9h.7M237.1 67.1h.7M233.8 69.1h.7M224.3 81.2h.7M220.6 76.2h.7M227.6 71.2h.7M219.8 74.5h.7M227.0 71.4h.7M221.7 79.5h.7M232.3 68.5h.7M232.5 72.2h.7M223.5 76.1h.7M230.6 78.5h.7M219.8 80.8h.7M227.9 76.3h.7M221.6 72.5h.7M216.2 84.7h.7M224.7 78.1h.7M227.3 76.5h.7M227.6 78.0h.7M219.6 79.4h.7M216.6 82.3h.7M221.1 78.4h.7M227.3 78.6h.7M213.4 80.0h.7M224.0 80.7h.7M221.6 83.5h.7M224.6 79.9h.7M225.0 75.4h.7M235.6 69.2h.7M220.5 81.8h.7M219.8 78.1h.7M236.0 76.3h.7M212.9 83.0h.7M229.1 80.6h.7M217.1 77.9h.7M227.9 76.0h.7M227.0 80.4h.7M225.5 75.9h.7M230.0 75.3h.7M219.2 79.6h.7M224.2 79.6h.7M220.2 81.7h.7M222.7 76.9h.7M221.9 81.4h.7M212.5 83.9h.7M221.8 80.5h.7M220.8 83.5h.7M220.3 85.0h.7M220.8 80.2h.7M219.1 80.9h.7M242.3 69.8h.7M212.9 86.3h.7M229.3 75.6h.7M219.3 80.0h.7M221.4 81.5h.7M218.6 82.5h.7M218.3 80.8h.7M224.5 76.8h.7M226.6 72.4h.7M225.5 74.2h.7M214.8 87.3h.7M217.3 86.9h.7M213.8 87.5h.7M230.3 82.3h.7M225.9 74.4h.7M220.6 79.6h.7M229.2 67.0h.7M227.8 70.5h.7M228.3 72.9h.7M225.1 77.0h.7M215.9 79.3h.7M221.1 80.0h.7M216.0 88.0h.7M226.1 72.2h.7M230.2 78.0h.7M226.1 77.1h.7M222.8 70.9h.7M233.5 76.8h.7M222.8 75.6h.7M219.7 88.2h.7M211.6 80.1h.7M240.1 70.7h.7M219.4 84.1h.7M212.6 81.9h.7M234.9 66.1h.7M227.6 76.2h.7M211.9 84.5h.7M212.5 75.5h.7M229.6 69.7h.7M224.3 69.4h.7M222.3 71.5h.7M226.0 74.0h.7M218.5 83.8h.7M225.8 74.1h.7M225.8 78.7h.7M226.3 79.6h.7M219.8 71.2h.7M225.2 74.9h.7M214.8 89.3h.7M216.9 82.1h.7M222.0 78.6h.7M217.7 84.2h.7M216.7 80.8h.7M228.5 70.9h.7M215.8 83.9h.7M233.2 66.0h.7M217.9 76.8h.7M217.7 76.1h.7M219.7 76.9h.7M226.9 76.2h.7M224.1 77.0h.7M226.7 82.8h.7M218.9 79.4h.7M213.2 75.1h.7M216.2 82.0h.7M218.5 78.6h.7M215.1 90.6h.7M229.0 69.6h.7M238.1 73.8h.7M229.8 64.3h.7M225.5 76.3h.7M222.1 74.0h.7M220.0 74.6h.7M230.6 73.4h.7M225.1 86.6h.7M221.9 75.3h.7M238.4 68.2h.7M221.5 80.0h.7M222.6 82.8h.7M225.5 77.4h.7M233.3 78.0h.7M218.5 80.5h.7M221.2 82.0h.7M240.1 54.0h.7M236.4 50.9h.7M235.1 62.7h.7M231.5 49.2h.7M234.8 51.9h.7M220.3 68.2h.7M233.7 51.2h.7M232.2 61.3h.7M224.0 59.7h.7M227.7 56.5h.7M220.4 68.7h.7M236.9 57.8h.7M232.6 49.3h.7M237.9 48.4h.7M224.4 57.4h.7M228.8 65.2h.7M231.4 47.4h.7M232.1 52.3h.7M233.4 56.5h.7M233.7 58.3h.7M227.4 64.4h.7M224.3 62.0h.7M230.0 56.8h.7M227.5 55.8h.7M225.4 57.4h.7M224.6 66.2h.7M229.3 55.1h.7M230.7 58.1h.7M236.3 46.4h.7M229.0 52.3h.7M228.0 46.7h.7M224.0 62.7h.7M225.6 59.7h.7M229.4 57.1h.7M220.2 58.7h.7M225.9 52.0h.7M229.8 62.7h.7M241.6 41.8h.7M241.2 43.1h.7M241.6 41.8h.7M246.9 41.1h.7M237.0 38.2h.7M237.1 41.3h.7M234.7 41.3h.7M233.3 39.8h.7M234.5 46.0h.7M240.7 40.8h.7M237.1 42.3h.7M243.8 40.9h.7M236.1 38.9h.7M242.2 40.6h.7M238.2 43.2h.7M239.6 39.2h.7M234.2 38.5h.7M225.8 42.1h.7M232.3 41.3h.7M233.3 39.0h.7M246.7 40.4h.7M244.9 39.5h.7M241.1 41.0h.7M242.2 41.4h.7M248.8 44.0h.7M239.3 40.8h.7M242.4 39.8h.7M229.6 46.3h.7M240.2 41.6h.7M244.7 45.0h.7M245.9 43.1h.7M235.9 38.3h.7M244.8 39.9h.7M232.6 40.8h.7M231.2 44.9h.7M231.0 41.3h.7M236.7 38.9h.7" stroke="#222" stroke-width="0.75" stroke-opacity="0.3" fill="none"/>
<path d="M221.1 81.1h.7M222.1 81.5h.7M236.2 67.2h.7M231.9 71.7h.7M226.6 72.4h.7M228.6 73.1h.7M213.8 76.9h.7M218.6 82.1h.7M236.9 70.1h.7M213.3 85.8h.7M218.7 82.1h.7M228.5 71.9h.7M222.9 79.6h.7M235.0 68.3h.7M231.6 73.5h.7M224.8 72.7h.7M228.0 74.3h.7M228.3 77.8h.7M223.6 81.3h.7M216.8 81.5h.7M226.3 72.5h.7M220.2 83.0h.7M220.2 76.7h.7M225.0 75.7h.7M228.4 73.4h.7M227.7 82.1h.7M216.1 87.2h.7M222.4 80.7h.7M227.4 79.6h.7M215.4 84.1h.7M220.0 73.0h.7M227.6 81.5h.7M214.4 83.5h.7M219.4 81.8h.7M216.0 85.3h.7M215.5 85.5h.7M230.4 79.8h.7M221.2 80.0h.7M229.9 83.9h.7M229.4 77.8h.7M221.0 84.2h.7M226.8 73.5h.7M230.1 75.5h.7M228.8 75.5h.7M217.3 79.1h.7M221.7 74.3h.7M223.0 79.2h.7M231.8 79.0h.7M228.8 77.0h.7M229.5 74.3h.7M236.9 70.5h.7M214.5 81.6h.7M223.6 81.8h.7M230.8 74.4h.7M218.9 82.8h.7M227.3 81.1h.7M218.3 80.7h.7M219.1 85.4h.7M216.9 78.3h.7M223.8 76.9h.7M225.5 76.6h.7M221.2 87.2h.7M227.6 76.1h.7M228.8 74.4h.7M237.1 68.8h.7M233.1 70.3h.7M225.6 78.8h.7M229.6 78.6h.7M222.9 73.4h.7M233.0 71.3h.7M219.1 82.6h.7M228.8 76.3h.7M235.1 71.5h.7M224.3 77.2h.7M219.9 82.4h.7M226.9 72.5h.7M221.6 75.6h.7M212.9 82.8h.7M221.8 78.8h.7M214.0 85.5h.7M220.7 82.3h.7M229.3 72.0h.7M228.8 74.1h.7M231.9 76.0h.7M231.0 75.8h.7M211.6 82.6h.7M222.8 84.8h.7M223.6 79.1h.7M219.3 76.8h.7M222.7 84.3h.7M234.2 64.2h.7M230.0 78.1h.7M226.5 79.3h.7M230.7 86.1h.7M214.4 81.1h.7M219.5 80.1h.7M238.0 72.7h.7M224.4 80.2h.7M223.8 78.9h.7M215.7 81.7h.7M227.1 74.7h.7M227.8 84.0h.7M222.8 66.3h.7M231.0 80.8h.7M214.2 80.9h.7M229.1 66.5h.7M231.5 75.1h.7M220.7 74.8h.7M227.8 76.0h.7M220.5 88.7h.7M223.6 81.5h.7M237.5 78.7h.7M222.5 83.4h.7M219.2 74.8h.7M225.1 72.0h.7M215.6 83.8h.7M214.4 83.6h.7M234.8 75.7h.7M220.0 76.4h.7M217.8 83.1h.7M219.5 78.3h.7M221.9 79.0h.7M226.9 76.1h.7M228.6 78.7h.7M226.5 86.1h.7M228.0 76.6h.7M217.3 79.1h.7M223.8 78.4h.7M212.0 79.6h.7M230.1 69.5h.7M235.8 74.6h.7M220.9 74.4h.7M235.2 76.0h.7M232.0 74.6h.7M221.4 73.5h.7M218.0 84.2h.7M223.3 83.0h.7M223.1 82.3h.7M228.4 74.3h.7M220.1 78.0h.7M233.8 77.7h.7M228.9 81.9h.7M237.9 62.8h.7M224.9 76.4h.7M216.9 84.9h.7M220.2 85.3h.7M221.6 80.4h.7M224.5 87.5h.7M232.4 73.6h.7M232.7 81.3h.7M235.0 51.6h.7M229.5 62.5h.7M222.7 64.7h.7M230.7 64.9h.7M245.3 58.6h.7M229.1 67.2h.7M233.1 53.3h.7M232.2 52.5h.7M231.7 51.4h.7M227.2 58.7h.7M231.5 51.1h.7M229.5 58.3h.7M232.1 58.7h.7M226.6 63.3h.7M237.8 56.4h.7M219.1 61.3h.7M226.2 54.1h.7M227.7 61.2h.7M237.3 60.8h.7M229.7 66.5h.7M229.1 52.5h.7M233.6 58.0h.7M229.7 64.4h.7M232.9 57.0h.7M220.8 67.1h.7M226.8 46.7h.7M234.4 59.9h.7M237.9 60.3h.7M227.1 60.7h.7M238.4 59.3h.7M238.4 61.1h.7M222.2 62.9h.7M235.9 60.7h.7M226.0 60.4h.7M233.8 56.8h.7M229.7 63.2h.7M232.6 47.2h.7M226.5 51.8h.7M243.1 43.6h.7M244.1 39.6h.7M232.5 40.0h.7M241.4 41.3h.7M241.5 39.9h.7M235.4 41.1h.7M238.2 40.8h.7M232.0 40.4h.7M228.6 38.6h.7M244.2 40.5h.7M240.8 38.0h.7M235.2 38.2h.7M238.1 38.5h.7M248.9 39.6h.7M240.2 39.9h.7M229.2 38.5h.7M233.7 38.8h.7M227.2 43.5h.7M243.5 39.7h.7M246.8 37.6h.7M233.9 42.5h.7M236.6 42.6h.7M238.3 42.4h.7M245.5 41.4h.7M240.5 41.9h.7M225.3 41.3h.7M233.3 43.7h.7M241.4 41.3h.7M239.9 43.8h.7M235.4 38.3h.7M229.0 40.8h.7M244.1 37.9h.7M230.5 42.3h.7M229.1 41.3h.7M243.5 40.5h.7M230.9 39.4h.7M228.9 41.3h.7" stroke="#222" stroke-width="0.75" stroke-opacity="0.3" fill="none"/>
<path d="M225.7 76.4h.7M223.3 82.1h.7M219.2 73.9h.7M223.7 77.6h.7M223.9 78.4h.7M228.3 78.2h.7M218.7 78.4h.7M217.9 87.8h.7M226.5 78.6h.7M232.8 73.8h.7M221.7 78.6h.7M221.6 79.3h.7M230.3 75.4h.7M228.9 74.1h.7M225.5 79.3h.7M218.9 83.4h.7M218.7 81.0h.7M223.4 80.8h.7M216.3 83.5h.7M215.2 81.8h.7M226.3 79.6h.7M225.8 79.1h.7M225.4 80.9h.7M236.3 65.7h.7M227.1 73.9h.7M237.7 70.9h.7M226.4 79.9h.7M230.2 68.5h.7M220.9 87.3h.7M229.4 72.4h.7M225.6 83.7h.7M221.3 81.5h.7M212.7 83.8h.7M235.7 73.4h.7M231.9 70.6h.7M213.6 78.7h.7M212.8 81.7h.7M216.1 80.1h.7M212.3 85.2h.7M219.3 79.6h.7M221.5 78.2h.7M223.5 81.4h.7M224.3 75.1h.7M223.8 77.1h.7M218.5 86.7h.7M216.5 79.7h.7M237.6 69.6h.7M216.2 83.2h.7M222.7 81.1h.7M218.4 82.7h.7M221.2 79.9h.7M232.8 68.3h.7M224.9 76.2h.7M220.6 78.5h.7M224.3 75.9h.7M238.4 72.1h.7M221.6 75.8h.7M217.4 80.1h.7M218.6 77.6h.7M223.4 83.9h.7M228.6 75.2h.7M215.2 82.9h.7M229.6 73.1h.7M217.2 83.4h.7M239.1 71.0h.7M220.3 83.8h.7M227.1 81.2h.7M227.4 75.8h.7M221.3 79.2h.7M232.4 79.3h.7M218.8 84.2h.7M226.5 70.2h.7M218.4 80.4h.7M215.8 84.0h.7M225.3 74.1h.7M220.6 75.4h.7M215.7 87.9h.7M227.3 76.5h.7M219.9 82.4h.7M226.0 79.7h.7M222.2 82.9h.7M217.2 78.9h.7M213.6 87.8h.7M219.7 80.8h.7M227.5 83.1h.7M228.9 83.0h.7M233.3 74.2h.7M221.9 83.2h.7M218.3 74.8h.7M227.2 65.8h.7M220.8 83.4h.7M211.7 83.7h.7M230.4 65.3h.7M219.9 91.2h.7M221.2 76.9h.7M225.3 75.7h.7M218.6 87.8h.7M223.3 84.5h.7M221.8 83.8h.7M223.5 76.2h.7M216.2 78.7h.7M219.2 82.5h.7M232.4 71.5h.7M220.4 78.3h.7M227.3 67.4h.7M228.1 75.2h.7M214.2 75.0h.7M232.5 71.9h.7M225.2 76.1h.7M214.4 87.7h.7M220.0 78.5h.7M220.1 75.8h.7M215.5 70.5h.7M229.8 78.9h.7M217.0 68.0h.7M215.3 85.3h.7M224.0 78.0h.7M220.1 78.9h.7M217.8 75.0h.7M229.2 76.1h.7M213.9 81.5h.7M215.9 83.4h.7M217.3 81.6h.7M212.7 80.8h.7M216.4 75.9h.7M222.9 77.7h.7M224.2 76.7h.7M224.0 75.2h.7M218.4 75.8h.7M225.7 75.4h.7M219.5 81.6h.7M227.9 82.8h.7M228.8 77.9h.7M219.3 87.8h.7M225.8 75.8h.7M228.7 73.7h.7M228.6 73.9h.7M221.4 71.5h.7M212.4 75.2h.7M235.3 77.7h.7M218.0 80.8h.7M216.5 76.0h.7M218.4 81.0h.7M230.1 71.9h.7M233.1 76.7h.7M224.9 73.5h.7M216.7 86.2h.7M234.0 72.8h.7M220.2 73.3h.7M227.1 80.6h.7M222.5 58.8h.7M226.1 53.1h.7M230.0 49.1h.7M230.1 59.7h.7M230.1 60.9h.7M225.8 54.7h.7M233.6 55.4h.7M237.5 51.8h.7M232.6 48.6h.7M228.5 64.5h.7M224.0 63.6h.7M231.6 48.6h.7M235.9 57.6h.7M223.6 63.0h.7M233.4 53.6h.7M236.3 51.5h.7M228.0 53.0h.7M229.4 60.7h.7M236.0 52.5h.7M233.6 48.2h.7M227.4 52.7h.7M238.2 56.6h.7M224.1 56.3h.7M228.3 59.3h.7M225.9 56.8h.7M235.4 56.0h.7M222.9 55.9h.7M227.1 58.4h.7M238.9 49.0h.7M230.6 52.8h.7M229.0 63.6h.7M221.5 75.3h.7M223.7 55.4h.7M233.9 57.9h.7M231.7 55.1h.7M234.4 54.7h.7M235.1 46.5h.7M228.2 64.3h.7M239.9 39.5h.7M230.9 40.2h.7M242.8 40.6h.7M247.4 45.9h.7M236.9 43.3h.7M237.5 37.7h.7M243.2 35.1h.7M233.7 43.1h.7M236.0 37.6h.7M241.5 40.8h.7M236.4 42.4h.7M243.3 41.5h.7M240.6 41.3h.7M235.8 41.0h.7M236.2 40.2h.7M233.4 40.3h.7M223.5 42.3h.7M232.3 42.4h.7M232.8 39.6h.7M234.0 39.0h.7M240.4 41.7h.7M248.2 40.4h.7M242.3 41.9h.7M227.8 40.6h.7M248.9 38.4h.7M241.2 41.9h.7M234.9 42.3h.7M234.9 39.9h.7M224.2 37.9h.7M242.4 43.8h.7M247.0 38.7h.7M235.5 43.6h.7M232.1 41.2h.7M240.5 42.0h.7M245.7 45.2h.7M240.6 36.7h.7" stroke="#222" stroke-width="0.75" stroke-opacity="0.3" fill="none"/>
<path d="M224.5 78.3h.7M218.4 80.4h.7M223.0 75.9h.7M223.3 76.3h.7M215.3 85.7h.7M219.5 82.9h.7M230.5 72.1h.7M218.0 83.8h.7M223.6 82.0h.7M220.6 80.0h.7M220.2 87.4h.7M223.2 81.2h.7M216.1 85.2h.7M233.1 78.4h.7M219.0 83.8h.7M218.4 84.7h.7M214.3 82.9h.7M231.6 71.2h.7M221.0 81.0h.7M216.9 86.5h.7M219.1 81.3h.7M214.8 82.6h.7M231.0 70.4h.7M214.7 82.2h.7M216.3 84.6h.7M229.3 73.4h.7M227.0 78.9h.7M225.3 77.4h.7M228.1 78.2h.7M214.7 80.4h.7M224.0 78.9h.7M223.1 81.0h.7M227.1 71.2h.7M219.6 81.9h.7M216.9 85.4h.7M220.0 83.4h.7M231.0 75.3h.7M221.7 79.2h.7M228.6 78.5h.7M219.5 86.6h.7M212.0 88.7h.7M223.5 84.2h.7M220.7 79.6h.7M223.4 74.4h.7M220.4 83.6h.7M225.4 76.0h.7M227.5 78.4h.7M215.6 86.5h.7M221.0 79.8h.7M214.0 78.6h.7M219.6 85.7h.7M222.4 81.0h.7M238.3 73.4h.7M230.0 77.2h.7M221.3 79.8h.7M215.6 79.6h.7M229.3 81.2h.7M221.5 79.0h.7M220.5 83.9h.7M224.7 76.8h.7M225.5 83.4h.7M219.9 80.5h.7M224.4 82.5h.7M224.2 75.4h.7M219.6 80.2h.7M222.5 75.2h.7M215.3 82.9h.7M218.5 81.5h.7M214.3 92.0h.7M221.8 77.5h.7M229.3 81.4h.7M222.1 75.8h.7M224.5 78.5h.7M220.1 79.1h.7M231.1 74.1h.7M230.3 74.9h.7M234.1 76.5h.7M223.9 76.0h.7M217.3 83.8h.7M214.6 85.4h.7M227.8 71.7h.7M231.6 74.5h.7M219.5 82.2h.7M222.3 79.8h.7M214.3 83.9h.7M231.7 70.0h.7M233.6 75.8h.7M228.1 75.5h.7M222.9 74.6h.7M221.6 75.5h.7M220.9 74.1h.7M214.1 93.8h.7M232.1 70.9h.7M222.8 79.8h.7M221.7 83.7h.7M221.5 82.0h.7M216.0 73.4h.7M220.8 79.1h.7M219.3 79.2h.7M214.2 75.6h.7M213.4 84.9h.7M233.7 78.8h.7M222.5 76.9h.7M223.0 86.1h.7M220.9 84.1h.7M224.5 82.0h.7M236.6 77.8h.7M232.8 71.2h.7M216.5 85.4h.7M234.0 77.6h.7M222.8 84.2h.7M230.5 75.9h.7M225.1 81.0h.7M218.9 84.9h.7M231.5 71.2h.7M229.2 72.9h.7M213.0 88.4h.7M232.9 72.3h.7M224.2 74.1h.7M220.0 82.4h.7M234.1 68.4h.7M232.0 75.0h.7M221.9 84.0h.7M218.2 79.4h.7M221.7 83.0h.7M220.4 80.6h.7M234.7 69.8h.7M229.0 83.4h.7M228.8 69.2h.7M226.9 80.8h.7M225.3 77.0h.7M238.2 79.2h.7M227.6 83.2h.7M229.1 67.5h.7M220.7 87.2h.7M224.3 78.7h.7M227.4 72.6h.7M230.5 71.6h.7M228.3 70.4h.7M228.6 76.3h.7M227.2 83.0h.7M213.8 88.9h.7M222.5 77.9h.7M222.8 84.9h.7M225.9 78.8h.7M219.4 77.2h.7M214.1 82.5h.7M224.4 78.1h.7M213.9 90.9h.7M220.7 73.6h.7M235.4 53.4h.7M236.8 47.7h.7M229.5 58.8h.7M223.6 67.3h.7M232.7 58.4h.7M232.4 52.4h.7M226.3 63.2h.7M229.2 49.8h.7M232.8 57.3h.7M229.8 58.2h.7M228.2 58.0h.7M234.0 66.1h.7M227.8 54.0h.7M233.4 45.4h.7M230.8 59.3h.7M234.7 54.6h.7M232.1 60.9h.7M230.1 56.8h.7M233.0 57.1h.7M232.5 59.5h.7M234.6 51.1h.7M238.4 48.5h.7M224.7 46.5h.7M222.4 58.1h.7M238.1 47.7h.7M229.8 56.5h.7M228.9 49.6h.7M230.5 61.6h.7M232.5 56.0h.7M229.4 54.8h.7M229.5 66.8h.7M228.1 57.7h.7M225.5 59.6h.7M227.8 59.0h.7M226.5 63.1h.7M239.9 48.2h.7M235.3 55.0h.7M240.3 40.3h.7M243.9 41.2h.7M250.2 43.3h.7M235.6 39.5h.7M232.6 40.2h.7M238.1 43.8h.7M237.6 39.5h.7M241.7 37.7h.7M239.7 41.2h.7M230.5 41.4h.7M249.0 42.7h.7M240.8 39.8h.7M229.8 40.4h.7M244.4 42.4h.7M235.6 42.0h.7M242.4 42.4h.7M235.5 44.2h.7M239.7 41.1h.7M236.9 36.3h.7M236.6 40.6h.7M237.9 39.5h.7M232.8 40.5h.7M247.5 40.0h.7M240.1 40.9h.7M245.9 40.8h.7M238.6 40.5h.7M231.1 41.6h.7M234.6 40.7h.7M229.6 41.4h.7M234.7 43.1h.7M239.7 39.8h.7M240.2 41.7h.7M227.2 38.5h.7M239.6 41.8h.7M239.1 39.0h.7M249.2 38.1h.7M236.5 40.5h.7" stroke="#222" stroke-width="0.75" stroke-opacity="0.3" fill="none"/>
</g></g>
<rect x="210.7" y="28.1" width="64.1" height="68.45" fill="none" stroke="#000" stroke-width="1.45"/>
<line x1="239.5" y1="28.1" x2="239.5" y2="96.55000000000001" stroke="#000" stroke-width="1.35"/>
<line x1="210.7" y1="66.35" x2="274.79999999999995" y2="66.35" stroke="#000" stroke-width="1.3"/>
<text x="241.35" y="22.4" text-anchor="middle" style="font-size:9.3px;font-weight:bold;">4</text>
<text x="212.7" y="37.1" text-anchor="start" style="font-size:9.5px;" stroke="#000" stroke-width="0.25">8%</text>
<text x="273.49999999999994" y="37.1" text-anchor="end" style="font-size:9.5px;" stroke="#000" stroke-width="0.25">4%</text>
<text x="273.49999999999994" y="93.7" text-anchor="end" style="font-size:9.5px;" stroke="#000" stroke-width="0.25">0.5%</text>
<text x="214.8" y="109.1" text-anchor="middle" stroke="#000" stroke-width="0.2" style="font-size:6.9px">10<tspan dy="-1.9" style="font-size:4.7px">0</tspan></text>
<text x="230.3" y="109.1" text-anchor="middle" stroke="#000" stroke-width="0.2" style="font-size:6.9px">10<tspan dy="-1.9" style="font-size:4.7px">1</tspan></text>
<text x="245.8" y="109.1" text-anchor="middle" stroke="#000" stroke-width="0.2" style="font-size:6.9px">10<tspan dy="-1.9" style="font-size:4.7px">2</tspan></text>
<text x="261.4" y="109.1" text-anchor="middle" stroke="#000" stroke-width="0.2" style="font-size:6.9px">10<tspan dy="-1.9" style="font-size:4.7px">3</tspan></text>
<text x="276.9" y="109.1" text-anchor="middle" stroke="#000" stroke-width="0.2" style="font-size:6.9px">10<tspan dy="-1.9" style="font-size:4.7px">4</tspan></text>
<text x="207.0" y="95.9" text-anchor="middle" transform="rotate(-90 207.0 95.9)" stroke="#000" stroke-width="0.2" style="font-size:6.9px">10<tspan dy="-1.8" style="font-size:4.7px">0</tspan></text>
<text x="207.0" y="79.2" text-anchor="middle" transform="rotate(-90 207.0 79.2)" stroke="#000" stroke-width="0.2" style="font-size:6.9px">10<tspan dy="-1.8" style="font-size:4.7px">1</tspan></text>
<text x="207.0" y="62.5" text-anchor="middle" transform="rotate(-90 207.0 62.5)" stroke="#000" stroke-width="0.2" style="font-size:6.9px">10<tspan dy="-1.8" style="font-size:4.7px">2</tspan></text>
<text x="207.0" y="45.8" text-anchor="middle" transform="rotate(-90 207.0 45.8)" stroke="#000" stroke-width="0.2" style="font-size:6.9px">10<tspan dy="-1.8" style="font-size:4.7px">3</tspan></text>
<text x="207.0" y="29.1" text-anchor="middle" transform="rotate(-90 207.0 29.1)" stroke="#000" stroke-width="0.2" style="font-size:6.9px">10<tspan dy="-1.8" style="font-size:4.7px">4</tspan></text>
<clipPath id="cp3"><rect x="289.5" y="28.1" width="64.1" height="68.45"/></clipPath>
<g clip-path="url(#cp3)"><g filter="url(#soft)">
<ellipse cx="303.3" cy="78.9" rx="17.3" ry="5.6" fill="url(#gf)" opacity="0.74" transform="rotate(-32 303.3 78.9)"/>
<ellipse cx="303.8" cy="78.1" rx="22" ry="10.5" fill="url(#gg)" opacity="0.25" transform="rotate(-32 303.8 78.1)"/>
<ellipse cx="310.5" cy="56.1" rx="15" ry="10.5" fill="url(#gg)" opacity="0.25" transform="rotate(-55 310.5 56.1)"/>
<ellipse cx="318.8" cy="41.9" rx="13.5" ry="5.4" fill="url(#gg)" opacity="0.5" transform="rotate(-5 318.8 41.9)"/>
<path d="M311.3 71.6h.7M305.3 75.2h.7M304.0 78.2h.7M298.6 82.3h.7M306.2 80.4h.7M294.1 84.9h.7M301.3 75.9h.7M301.9 79.4h.7M307.3 78.1h.7M302.1 75.0h.7M298.4 82.2h.7M300.6 77.4h.7M303.4 77.6h.7M305.9 74.8h.7M311.0 79.1h.7M302.3 76.6h.7M301.4 81.0h.7M295.5 84.2h.7M290.4 89.4h.7M300.0 84.8h.7M302.3 77.4h.7M307.5 78.9h.7M300.2 79.3h.7M305.3 76.5h.7M307.0 78.8h.7M291.2 83.5h.7M295.1 80.4h.7M298.8 82.6h.7M302.5 80.0h.7M295.0 80.3h.7M312.1 74.4h.7M305.8 77.0h.7M296.5 77.8h.7M298.4 83.5h.7M313.8 72.5h.7M295.5 80.8h.7M303.0 80.4h.7M304.8 80.4h.7M304.6 76.8h.7M307.5 79.0h.7M309.6 69.2h.7M314.2 76.1h.7M312.5 67.8h.7M298.1 80.9h.7M302.6 81.3h.7M293.5 88.9h.7M295.4 82.3h.7M303.0 80.1h.7M304.8 81.3h.7M305.4 79.4h.7M307.2 71.5h.7M311.3 79.5h.7M308.9 76.7h.7M312.0 73.6h.7M314.1 69.5h.7M303.9 81.5h.7M302.5 77.6h.7M300.7 78.8h.7M305.8 80.2h.7M299.6 82.7h.7M297.4 80.1h.7M311.4 80.9h.7M314.7 66.5h.7M303.7 79.1h.7M301.8 79.0h.7M313.2 75.7h.7M314.8 75.7h.7M324.7 71.9h.7M310.7 74.5h.7M307.1 78.4h.7M295.4 84.5h.7M295.6 78.8h.7M294.7 82.5h.7M300.9 78.7h.7M308.3 74.3h.7M304.0 81.2h.7M309.3 75.3h.7M307.0 76.2h.7M293.2 85.0h.7M297.2 79.9h.7M301.7 82.5h.7M309.1 80.2h.7M309.7 71.4h.7M310.7 73.0h.7M297.1 77.0h.7M301.2 83.9h.7M314.7 73.7h.7M296.8 89.3h.7M295.8 75.3h.7M307.3 74.7h.7M296.6 82.1h.7M292.6 85.4h.7M305.4 80.7h.7M313.6 76.7h.7M309.8 77.7h.7M300.6 79.5h.7M301.3 74.4h.7M299.4 74.9h.7M301.8 84.1h.7M303.3 74.7h.7M307.0 74.0h.7M296.2 79.6h.7M303.0 85.6h.7M319.3 69.4h.7M308.0 70.9h.7M304.3 82.0h.7M303.0 77.7h.7M303.5 84.6h.7M299.5 74.5h.7M300.5 79.1h.7M306.6 72.3h.7M293.5 85.2h.7M309.8 70.2h.7M305.3 71.0h.7M305.3 80.6h.7M316.5 78.1h.7M293.1 83.4h.7M309.3 70.3h.7M306.4 72.3h.7M305.7 83.3h.7M306.8 81.3h.7M290.9 93.5h.7M299.4 80.0h.7M308.2 80.5h.7M318.0 72.8h.7M315.0 82.7h.7M304.4 70.4h.7M294.4 83.8h.7M296.3 74.3h.7M298.0 80.6h.7M307.6 75.2h.7M311.1 75.3h.7M309.5 75.9h.7M310.8 75.8h.7M301.7 79.6h.7M304.6 76.7h.7M303.4 77.1h.7M309.0 72.4h.7M310.5 70.7h.7M308.0 76.0h.7M308.0 71.9h.7M312.7 74.0h.7M294.6 81.0h.7M292.5 84.8h.7M304.7 75.5h.7M312.9 70.3h.7M300.8 77.0h.7M312.1 72.4h.7M301.8 83.1h.7M304.2 84.2h.7M297.3 84.5h.7M308.1 73.2h.7M311.6 74.0h.7M292.5 82.9h.7M290.6 91.8h.7M297.7 51.9h.7M313.2 54.0h.7M300.0 63.5h.7M312.1 55.1h.7M313.0 47.1h.7M316.8 56.4h.7M303.0 60.1h.7M321.4 41.4h.7M308.4 56.7h.7M307.4 55.9h.7M306.6 56.3h.7M320.2 43.7h.7M311.6 56.3h.7M315.7 53.6h.7M311.6 64.5h.7M301.6 63.0h.7M309.8 59.7h.7M310.8 49.0h.7M314.7 55.3h.7M302.8 57.2h.7M313.4 61.2h.7M311.7 60.7h.7M309.0 56.4h.7M320.8 54.0h.7M324.1 45.5h.7M311.0 56.9h.7M315.7 58.9h.7M313.6 46.3h.7M309.8 58.6h.7M314.6 55.4h.7M309.5 61.7h.7M310.8 59.0h.7M310.5 54.1h.7M308.2 61.6h.7M301.3 56.9h.7M308.6 55.2h.7M313.2 47.0h.7M315.5 47.5h.7M310.0 55.5h.7M314.7 57.4h.7M309.5 59.4h.7M317.4 51.1h.7M310.9 54.0h.7M317.5 58.4h.7M307.4 58.2h.7M310.7 67.0h.7M311.3 51.4h.7M309.0 49.2h.7M307.8 50.8h.7M325.7 42.8h.7M305.5 43.8h.7M324.5 43.7h.7M315.5 43.4h.7M321.0 44.1h.7M312.7 44.0h.7M318.6 40.6h.7M323.2 43.0h.7M318.8 42.0h.7M310.9 45.5h.7M326.4 41.3h.7M320.0 37.8h.7M325.5 41.7h.7M324.0 41.4h.7M316.2 45.1h.7M314.9 42.3h.7M318.3 41.0h.7M322.5 42.3h.7M316.7 43.5h.7M314.6 45.2h.7M320.2 43.6h.7M312.0 36.2h.7M324.2 42.3h.7M324.0 39.4h.7M325.9 43.0h.7M327.9 42.2h.7M315.3 45.4h.7M323.7 44.2h.7M311.9 38.8h.7M315.6 39.3h.7M317.4 44.0h.7M327.1 42.3h.7M324.2 41.3h.7M325.8 42.2h.7M318.5 44.2h.7M306.8 44.7h.7M320.6 43.0h.7M315.1 39.9h.7M326.1 41.6h.7M317.8 44.9h.7M327.8 41.0h.7M326.6 45.2h.7M318.2 42.9h.7M325.5 42.9h.7M320.9 41.8h.7M315.3 41.3h.7" stroke="#222" stroke-width="0.75" stroke-opacity="0.3" fill="none"/>
<path d="M314.6 72.4h.7M310.2 72.1h.7M307.7 77.6h.7M305.2 79.6h.7M306.8 76.9h.7M296.9 78.9h.7M300.6 83.0h.7M294.0 92.4h.7M306.0 74.9h.7M312.3 77.7h.7M303.9 79.0h.7M307.1 76.2h.7M306.8 74.7h.7M317.8 74.6h.7M301.2 74.6h.7M309.7 74.9h.7M313.5 72.9h.7M308.6 73.1h.7M311.0 74.7h.7M304.0 79.4h.7M314.7 74.0h.7M305.5 76.5h.7M297.4 83.5h.7M317.8 66.3h.7M300.1 80.4h.7M307.8 72.7h.7M296.5 83.6h.7M311.5 75.6h.7M311.8 75.9h.7M298.0 81.7h.7M309.3 76.5h.7M299.1 80.0h.7M313.9 72.3h.7M314.0 69.2h.7M307.8 79.5h.7M306.7 75.8h.7M312.1 70.6h.7M303.5 74.1h.7M299.0 81.0h.7M309.9 74.7h.7M301.4 81.3h.7M304.1 73.7h.7M313.1 74.1h.7M303.9 78.3h.7M299.2 75.2h.7M303.7 83.4h.7M304.0 79.1h.7M298.7 80.9h.7M298.9 73.5h.7M295.5 81.8h.7M301.9 86.9h.7M304.9 83.1h.7M308.3 83.3h.7M298.6 83.4h.7M294.9 86.8h.7M302.4 78.7h.7M296.7 76.5h.7M295.1 86.1h.7M307.1 80.3h.7M313.5 75.2h.7M315.0 73.4h.7M305.4 82.1h.7M311.0 74.9h.7M293.8 75.3h.7M298.9 82.3h.7M300.0 81.2h.7M313.7 75.3h.7M307.2 77.7h.7M304.3 84.2h.7M307.2 81.1h.7M310.2 74.0h.7M295.6 87.7h.7M301.3 79.9h.7M295.9 81.1h.7M297.8 80.5h.7M304.6 80.6h.7M316.3 69.2h.7M295.0 85.1h.7M323.9 66.7h.7M314.2 69.9h.7M311.1 72.7h.7M309.6 74.2h.7M297.1 82.7h.7M295.1 83.6h.7M296.0 85.7h.7M308.1 73.3h.7M304.7 78.3h.7M305.0 73.8h.7M293.3 79.6h.7M308.0 79.4h.7M293.7 90.7h.7M300.9 80.4h.7M304.8 78.4h.7M298.0 79.0h.7M299.8 78.7h.7M314.0 64.7h.7M297.3 75.5h.7M303.9 67.6h.7M304.1 86.5h.7M302.1 81.8h.7M309.4 82.0h.7M300.5 80.3h.7M297.7 84.9h.7M303.4 74.7h.7M291.2 83.5h.7M301.5 79.2h.7M315.4 76.8h.7M297.7 80.3h.7M303.2 80.6h.7M302.9 81.9h.7M313.0 78.1h.7M293.7 75.8h.7M305.7 83.5h.7M295.8 80.0h.7M310.0 81.3h.7M295.4 80.0h.7M302.8 79.5h.7M299.7 77.7h.7M312.6 67.3h.7M309.0 75.9h.7M316.0 75.0h.7M316.0 67.2h.7M300.2 77.2h.7M299.4 75.4h.7M311.9 66.9h.7M301.8 76.7h.7M308.0 79.7h.7M294.1 85.7h.7M293.2 77.0h.7M300.5 72.9h.7M293.7 84.7h.7M301.0 81.7h.7M309.9 79.3h.7M306.2 79.2h.7M311.7 75.6h.7M305.5 83.6h.7M310.7 74.8h.7M298.7 81.0h.7M298.1 86.6h.7M303.8 77.2h.7M308.8 73.8h.7M290.8 87.1h.7M316.5 64.1h.7M304.7 82.8h.7M305.1 74.6h.7M305.4 78.5h.7M301.6 85.3h.7M297.3 81.2h.7M297.1 77.1h.7M297.9 80.3h.7M302.6 81.7h.7M302.9 82.0h.7M312.4 75.3h.7M305.4 74.3h.7M298.6 77.7h.7M306.0 53.6h.7M310.9 51.6h.7M307.9 58.0h.7M307.0 52.1h.7M303.9 58.8h.7M301.1 51.2h.7M314.9 54.9h.7M312.7 54.2h.7M308.4 54.4h.7M308.6 58.1h.7M309.3 44.1h.7M314.4 62.2h.7M308.1 58.3h.7M309.6 54.3h.7M314.7 51.3h.7M311.4 50.9h.7M310.1 48.7h.7M306.3 56.2h.7M310.6 63.2h.7M307.4 50.0h.7M310.1 48.7h.7M308.4 55.7h.7M324.5 55.7h.7M317.1 56.8h.7M319.4 61.3h.7M315.7 54.9h.7M302.9 56.4h.7M304.0 50.6h.7M310.5 53.4h.7M313.4 54.4h.7M314.4 63.5h.7M309.5 54.7h.7M309.9 52.7h.7M303.0 59.7h.7M303.9 52.6h.7M313.0 54.7h.7M311.0 49.4h.7M318.8 56.5h.7M310.2 44.9h.7M302.9 58.1h.7M315.0 54.2h.7M309.2 60.2h.7M305.8 53.4h.7M309.8 65.8h.7M314.5 50.7h.7M305.0 56.3h.7M310.2 60.1h.7M313.2 51.6h.7M317.8 55.6h.7M318.0 42.6h.7M321.4 45.0h.7M313.4 44.3h.7M322.3 40.3h.7M321.0 42.6h.7M314.7 44.4h.7M320.8 37.6h.7M318.1 44.8h.7M307.3 40.9h.7M318.9 44.3h.7M312.0 44.1h.7M318.6 41.0h.7M324.2 41.1h.7M318.8 41.9h.7M309.0 41.1h.7M326.2 39.8h.7M320.7 42.2h.7M325.8 45.4h.7M320.7 39.7h.7M313.0 42.3h.7M324.4 39.9h.7M312.9 41.4h.7M313.6 40.6h.7M311.6 44.0h.7M328.3 41.0h.7M325.0 41.5h.7M322.4 42.6h.7M318.1 44.3h.7M319.8 41.4h.7M316.2 38.6h.7M314.6 43.6h.7M324.5 40.4h.7M322.0 41.4h.7M321.9 39.0h.7M319.7 39.9h.7M319.9 43.0h.7M313.9 45.7h.7M316.0 41.8h.7M320.7 39.7h.7M320.6 40.5h.7M327.7 37.9h.7M317.9 43.1h.7M324.4 44.1h.7M315.8 40.8h.7M318.1 39.6h.7" stroke="#222" stroke-width="0.75" stroke-opacity="0.3" fill="none"/>
<path d="M311.6 76.1h.7M310.3 72.0h.7M315.0 66.5h.7M303.9 76.9h.7M295.3 85.7h.7M293.9 82.7h.7M303.4 79.8h.7M306.6 74.4h.7M311.8 68.2h.7M300.5 79.6h.7M299.0 79.4h.7M307.1 82.1h.7M302.3 76.4h.7M303.6 76.0h.7M307.4 79.0h.7M308.2 74.2h.7M304.0 75.5h.7M299.1 83.0h.7M309.7 76.5h.7M313.0 73.5h.7M306.7 82.4h.7M295.9 83.4h.7M310.2 79.3h.7M301.7 80.2h.7M310.1 73.4h.7M301.9 79.6h.7M303.0 74.1h.7M302.2 85.6h.7M304.2 77.8h.7M301.2 80.2h.7M302.2 76.3h.7M299.0 83.0h.7M300.1 79.2h.7M309.1 80.3h.7M302.6 81.5h.7M313.4 76.1h.7M324.5 64.3h.7M307.1 81.2h.7M313.0 66.9h.7M304.9 74.6h.7M301.7 73.5h.7M304.3 74.3h.7M309.7 74.5h.7M302.1 85.1h.7M307.9 82.2h.7M311.3 72.6h.7M303.5 78.6h.7M310.0 77.8h.7M297.0 82.6h.7M303.5 78.8h.7M295.7 85.4h.7M297.8 83.2h.7M299.4 79.7h.7M307.2 71.7h.7M304.6 79.3h.7M299.2 78.6h.7M309.2 82.2h.7M302.8 80.4h.7M308.1 72.3h.7M302.6 80.0h.7M299.2 80.8h.7M299.1 81.3h.7M294.9 81.8h.7M315.8 66.3h.7M301.5 77.6h.7M308.7 74.4h.7M308.1 75.5h.7M329.9 65.2h.7M303.5 76.5h.7M290.7 89.5h.7M299.9 81.8h.7M303.4 78.9h.7M308.8 75.8h.7M303.4 74.5h.7M308.2 71.8h.7M314.1 75.5h.7M321.7 67.1h.7M303.3 74.8h.7M324.2 67.4h.7M310.8 74.5h.7M301.6 82.0h.7M304.7 78.3h.7M299.8 84.0h.7M294.7 80.2h.7M305.0 84.2h.7M307.8 77.1h.7M306.0 77.2h.7M318.7 69.7h.7M300.3 78.5h.7M318.5 79.2h.7M310.3 74.8h.7M301.1 79.2h.7M299.0 79.7h.7M315.7 78.4h.7M297.6 85.4h.7M314.9 66.3h.7M306.2 77.3h.7M300.7 72.6h.7M311.2 73.3h.7M297.1 81.4h.7M300.9 77.4h.7M318.4 74.1h.7M305.5 81.1h.7M312.0 81.7h.7M303.2 79.6h.7M304.2 78.6h.7M292.8 86.2h.7M305.0 89.5h.7M314.1 68.2h.7M301.1 70.6h.7M314.3 65.8h.7M301.2 78.5h.7M306.9 82.2h.7M311.3 67.9h.7M301.2 82.5h.7M323.7 80.3h.7M308.3 79.4h.7M315.7 75.6h.7M306.2 69.9h.7M307.6 74.5h.7M305.8 79.6h.7M299.7 79.5h.7M314.2 68.4h.7M309.4 70.6h.7M312.2 66.9h.7M308.2 75.9h.7M305.0 79.8h.7M299.4 79.8h.7M303.1 82.0h.7M295.3 85.0h.7M295.5 83.2h.7M311.9 67.1h.7M305.8 77.9h.7M295.5 81.5h.7M296.2 74.1h.7M298.2 82.0h.7M303.9 68.8h.7M298.6 78.5h.7M307.3 81.6h.7M302.5 81.8h.7M303.9 77.1h.7M292.8 79.0h.7M306.1 68.9h.7M308.5 83.4h.7M301.6 78.0h.7M304.2 74.2h.7M302.5 79.4h.7M317.2 72.8h.7M310.0 72.3h.7M306.6 77.0h.7M307.4 81.6h.7M308.8 69.0h.7M293.3 87.2h.7M316.2 72.1h.7M305.7 78.1h.7M304.3 60.3h.7M306.4 56.4h.7M314.7 50.2h.7M308.9 63.9h.7M309.0 49.8h.7M309.6 49.4h.7M307.2 58.3h.7M304.4 56.7h.7M319.5 51.7h.7M304.2 55.4h.7M312.2 54.9h.7M302.9 58.5h.7M307.2 57.3h.7M309.2 56.2h.7M310.3 60.3h.7M314.1 52.9h.7M308.0 62.3h.7M307.1 64.2h.7M319.5 55.2h.7M315.2 54.7h.7M312.3 50.0h.7M304.7 57.0h.7M320.3 46.7h.7M308.8 59.0h.7M314.4 59.4h.7M312.5 54.7h.7M318.5 43.1h.7M307.2 60.8h.7M314.0 46.4h.7M309.8 58.1h.7M317.9 55.7h.7M308.0 53.0h.7M304.6 59.3h.7M313.9 64.8h.7M315.1 51.0h.7M315.7 59.4h.7M307.8 58.2h.7M311.3 52.7h.7M321.1 50.9h.7M306.9 61.4h.7M301.0 68.3h.7M307.9 53.1h.7M309.5 52.5h.7M315.3 62.1h.7M312.6 48.1h.7M307.4 57.1h.7M311.3 50.5h.7M312.2 61.9h.7M312.3 45.9h.7M324.4 42.3h.7M317.0 42.2h.7M321.7 42.7h.7M331.9 36.4h.7M317.2 42.5h.7M309.9 42.1h.7M316.7 39.7h.7M316.1 43.0h.7M317.9 41.3h.7M310.7 42.0h.7M323.5 44.3h.7M319.2 43.6h.7M319.3 37.2h.7M317.4 39.1h.7M311.4 44.3h.7M330.4 40.7h.7M317.4 41.0h.7M321.3 41.2h.7M320.5 37.8h.7M324.8 37.9h.7M332.4 42.7h.7M319.2 42.8h.7M316.5 41.3h.7M319.8 41.1h.7M313.0 40.5h.7M321.2 42.2h.7M313.7 41.9h.7M320.0 40.0h.7M324.0 47.1h.7M314.7 41.4h.7M317.5 38.3h.7M313.3 42.2h.7M319.1 41.0h.7M305.6 45.7h.7M313.0 41.3h.7M317.3 41.9h.7M319.6 41.4h.7M316.7 44.1h.7M316.8 37.5h.7M319.8 41.7h.7M319.9 40.3h.7M318.7 42.9h.7M327.3 43.8h.7M319.7 42.5h.7M322.8 41.2h.7" stroke="#222" stroke-width="0.75" stroke-opacity="0.3" fill="none"/>
<path d="M304.4 81.2h.7M295.3 81.3h.7M307.0 78.9h.7M290.5 83.3h.7M310.8 81.0h.7M305.0 82.9h.7M301.5 79.6h.7M304.8 79.1h.7M309.3 75.0h.7M298.7 83.0h.7M301.7 84.1h.7M300.3 81.7h.7M297.4 82.0h.7M297.4 84.0h.7M301.3 78.8h.7M302.5 80.8h.7M310.3 73.1h.7M293.9 84.7h.7M311.2 67.2h.7M290.5 84.3h.7M290.2 85.2h.7M307.1 75.7h.7M293.8 86.8h.7M303.8 80.1h.7M303.6 79.4h.7M311.5 79.1h.7M302.9 79.1h.7M309.9 78.0h.7M310.2 80.0h.7M303.7 78.4h.7M299.9 78.8h.7M321.7 67.6h.7M313.8 74.5h.7M309.2 75.6h.7M302.4 77.2h.7M297.3 86.9h.7M304.8 79.0h.7M293.9 90.2h.7M299.7 75.8h.7M311.8 67.6h.7M298.0 83.7h.7M306.0 73.5h.7M310.4 74.9h.7M304.3 80.3h.7M306.5 74.4h.7M305.1 81.7h.7M299.9 78.6h.7M299.7 83.1h.7M309.9 79.5h.7M308.8 75.5h.7M302.6 77.8h.7M312.1 71.9h.7M300.6 81.4h.7M308.0 72.2h.7M310.8 74.2h.7M311.6 74.6h.7M304.7 81.1h.7M302.1 74.7h.7M302.8 74.8h.7M296.4 88.4h.7M294.4 79.9h.7M305.8 78.3h.7M293.4 82.5h.7M303.1 84.2h.7M294.2 83.3h.7M298.4 80.2h.7M309.7 76.0h.7M300.7 79.8h.7M308.8 75.5h.7M305.0 74.6h.7M311.8 70.3h.7M295.8 79.0h.7M296.2 83.0h.7M300.0 78.6h.7M308.3 74.2h.7M295.7 88.1h.7M309.7 72.0h.7M310.4 80.5h.7M296.6 80.5h.7M300.3 85.7h.7M308.1 76.0h.7M317.5 69.5h.7M307.0 79.7h.7M312.8 70.6h.7M305.2 74.5h.7M309.7 76.5h.7M304.2 76.6h.7M290.2 77.6h.7M307.5 83.7h.7M301.4 79.7h.7M296.5 81.3h.7M299.7 87.4h.7M302.6 77.0h.7M295.9 79.2h.7M301.2 81.1h.7M307.0 82.8h.7M314.2 65.4h.7M309.8 75.5h.7M304.1 73.8h.7M306.1 75.0h.7M296.7 79.8h.7M316.0 77.8h.7M314.5 78.6h.7M299.7 82.1h.7M300.1 80.2h.7M312.1 61.5h.7M297.6 90.9h.7M314.8 66.8h.7M307.6 85.9h.7M296.5 78.8h.7M305.4 72.4h.7M309.5 76.3h.7M305.4 76.2h.7M309.7 78.0h.7M300.8 88.4h.7M306.0 70.7h.7M316.1 75.4h.7M306.4 74.0h.7M307.0 68.2h.7M300.5 82.1h.7M296.3 84.3h.7M300.1 77.0h.7M300.0 79.6h.7M305.0 80.7h.7M296.4 82.9h.7M307.2 73.2h.7M300.9 86.5h.7M310.4 76.6h.7M294.3 78.8h.7M303.9 82.8h.7M316.9 75.1h.7M306.0 77.0h.7M319.4 68.3h.7M302.7 84.1h.7M302.9 79.2h.7M299.5 78.9h.7M309.3 72.1h.7M307.2 73.0h.7M299.0 82.3h.7M312.7 75.8h.7M312.6 79.8h.7M308.4 76.4h.7M305.6 83.5h.7M318.2 70.5h.7M304.7 83.9h.7M293.5 86.7h.7M309.5 72.7h.7M307.0 85.2h.7M304.3 74.3h.7M301.0 83.4h.7M319.1 64.7h.7M307.3 75.0h.7M300.2 72.9h.7M314.1 78.3h.7M315.5 52.8h.7M316.4 51.1h.7M315.1 57.0h.7M314.8 53.6h.7M310.3 55.1h.7M309.8 51.6h.7M307.8 49.3h.7M311.3 57.1h.7M316.6 54.0h.7M309.5 58.9h.7M311.1 58.0h.7M311.2 55.4h.7M311.9 59.9h.7M314.1 56.7h.7M313.4 57.9h.7M313.9 55.6h.7M306.6 54.9h.7M315.4 52.0h.7M308.0 60.2h.7M316.2 57.7h.7M322.2 48.6h.7M309.2 49.7h.7M310.0 58.5h.7M307.4 60.7h.7M313.6 55.2h.7M317.2 56.0h.7M311.0 63.0h.7M312.1 61.8h.7M307.4 65.0h.7M302.6 71.0h.7M306.0 54.9h.7M318.4 53.2h.7M312.2 56.5h.7M305.8 56.2h.7M314.4 49.4h.7M311.2 48.7h.7M308.2 55.7h.7M309.6 64.0h.7M314.0 44.6h.7M309.5 53.2h.7M311.4 57.7h.7M304.5 63.9h.7M318.1 57.0h.7M302.2 51.8h.7M316.3 57.9h.7M312.6 47.3h.7M305.8 60.5h.7M311.1 54.2h.7M314.0 61.2h.7M316.2 39.9h.7M323.3 43.3h.7M322.6 42.2h.7M318.1 41.6h.7M318.9 43.1h.7M320.3 42.3h.7M322.3 42.4h.7M313.1 42.0h.7M325.3 42.0h.7M319.6 41.0h.7M308.9 44.1h.7M318.2 40.8h.7M321.7 37.6h.7M317.5 38.5h.7M320.0 40.4h.7M323.8 42.0h.7M321.1 45.8h.7M317.4 43.3h.7M323.1 46.2h.7M325.1 42.5h.7M323.8 37.3h.7M314.1 43.5h.7M320.2 42.0h.7M327.4 38.9h.7M321.2 42.0h.7M315.5 43.1h.7M321.2 39.5h.7M311.5 43.0h.7M324.3 40.9h.7M317.0 44.0h.7M318.2 39.3h.7M328.5 45.5h.7M309.6 45.3h.7M322.3 40.6h.7M314.4 42.5h.7M313.1 37.8h.7M311.9 42.5h.7M303.7 45.3h.7M324.5 42.7h.7M317.0 42.8h.7M323.6 39.4h.7M312.6 43.0h.7M326.1 46.1h.7M315.2 42.9h.7M321.4 43.9h.7M316.5 41.1h.7" stroke="#222" stroke-width="0.75" stroke-opacity="0.3" fill="none"/>
</g></g>
<rect x="289.5" y="28.1" width="64.1" height="68.45" fill="none" stroke="#000" stroke-width="1.45"/>
<line x1="318.3" y1="28.1" x2="318.3" y2="96.55000000000001" stroke="#000" stroke-width="1.35"/>
<line x1="289.5" y1="66.35" x2="353.6" y2="66.35" stroke="#000" stroke-width="1.3"/>
<text x="320.15000000000003" y="22.4" text-anchor="middle" style="font-size:9.3px;font-weight:bold;">6</text>
<text x="290.5" y="37.1" text-anchor="start" style="font-size:9.5px;" stroke="#000" stroke-width="0.25">11%</text>
<text x="351.6" y="37.1" text-anchor="end" style="font-size:9.5px;" stroke="#000" stroke-width="0.25">5%</text>
<text x="351.6" y="93.7" text-anchor="end" style="font-size:9.5px;" stroke="#000" stroke-width="0.25">0.9%</text>
<text x="291.9" y="109.1" text-anchor="middle" stroke="#000" stroke-width="0.2" style="font-size:6.9px">10<tspan dy="-1.9" style="font-size:4.7px">0</tspan></text>
<text x="307.4" y="109.1" text-anchor="middle" stroke="#000" stroke-width="0.2" style="font-size:6.9px">10<tspan dy="-1.9" style="font-size:4.7px">1</tspan></text>
<text x="323.0" y="109.1" text-anchor="middle" stroke="#000" stroke-width="0.2" style="font-size:6.9px">10<tspan dy="-1.9" style="font-size:4.7px">2</tspan></text>
<text x="338.5" y="109.1" text-anchor="middle" stroke="#000" stroke-width="0.2" style="font-size:6.9px">10<tspan dy="-1.9" style="font-size:4.7px">3</tspan></text>
<text x="354.1" y="109.1" text-anchor="middle" stroke="#000" stroke-width="0.2" style="font-size:6.9px">10<tspan dy="-1.9" style="font-size:4.7px">4</tspan></text>
<text x="286.1" y="95.9" text-anchor="middle" transform="rotate(-90 286.1 95.9)" stroke="#000" stroke-width="0.2" style="font-size:6.9px">10<tspan dy="-1.8" style="font-size:4.7px">0</tspan></text>
<text x="286.1" y="79.2" text-anchor="middle" transform="rotate(-90 286.1 79.2)" stroke="#000" stroke-width="0.2" style="font-size:6.9px">10<tspan dy="-1.8" style="font-size:4.7px">1</tspan></text>
<text x="286.1" y="62.5" text-anchor="middle" transform="rotate(-90 286.1 62.5)" stroke="#000" stroke-width="0.2" style="font-size:6.9px">10<tspan dy="-1.8" style="font-size:4.7px">2</tspan></text>
<text x="286.1" y="45.8" text-anchor="middle" transform="rotate(-90 286.1 45.8)" stroke="#000" stroke-width="0.2" style="font-size:6.9px">10<tspan dy="-1.8" style="font-size:4.7px">3</tspan></text>
<text x="286.1" y="29.1" text-anchor="middle" transform="rotate(-90 286.1 29.1)" stroke="#000" stroke-width="0.2" style="font-size:6.9px">10<tspan dy="-1.8" style="font-size:4.7px">4</tspan></text>
<clipPath id="cp4"><rect x="366.65" y="28.1" width="64.1" height="68.45"/></clipPath>
<g clip-path="url(#cp4)"><g filter="url(#soft)">
<ellipse cx="383.8" cy="75.6" rx="15.5" ry="5.2" fill="url(#gf)" opacity="0.58" transform="rotate(-32 383.8 75.6)"/>
<ellipse cx="384.1" cy="75.1" rx="20" ry="9.5" fill="url(#gg)" opacity="0.22" transform="rotate(-32 384.1 75.1)"/>
<ellipse cx="391.6" cy="58.1" rx="17" ry="12.5" fill="url(#gg)" opacity="0.27" transform="rotate(-60 391.6 58.1)"/>
<ellipse cx="397.0" cy="41.9" rx="14" ry="5.6" fill="url(#gf)" opacity="0.68" transform="rotate(-10 397.0 41.9)"/>
<ellipse cx="397.1" cy="42.1" rx="19" ry="9" fill="url(#gg)" opacity="0.27" transform="rotate(-10 397.1 42.1)"/>
<ellipse cx="399.4" cy="70.0" rx="7" ry="4.5" fill="url(#gg)" opacity="0.18" transform="rotate(-30 399.4 70.0)"/>
<path d="M386.6 85.6h.7M387.4 80.4h.7M391.7 74.1h.7M394.3 66.9h.7M379.4 82.1h.7M379.9 81.1h.7M387.2 73.0h.7M389.5 74.7h.7M386.1 76.1h.7M391.6 77.3h.7M388.4 74.5h.7M383.6 82.6h.7M385.3 72.5h.7M384.8 76.1h.7M385.7 71.7h.7M390.6 71.5h.7M388.3 72.3h.7M385.1 75.6h.7M386.1 70.2h.7M380.1 82.1h.7M386.7 78.1h.7M368.6 84.0h.7M398.8 68.5h.7M386.1 75.2h.7M373.9 85.4h.7M377.2 77.3h.7M376.8 77.6h.7M374.7 78.7h.7M392.9 67.0h.7M378.2 80.6h.7M376.0 79.8h.7M379.4 75.5h.7M367.7 87.5h.7M392.5 73.9h.7M392.7 77.0h.7M382.6 75.9h.7M388.3 75.4h.7M389.8 73.6h.7M389.9 74.6h.7M383.9 81.1h.7M378.0 83.4h.7M384.0 73.2h.7M377.3 83.9h.7M377.4 77.3h.7M380.8 75.0h.7M383.5 74.2h.7M392.0 73.8h.7M389.5 74.8h.7M385.8 73.1h.7M376.1 77.8h.7M386.7 70.5h.7M380.8 77.4h.7M384.9 77.6h.7M379.5 78.3h.7M386.2 75.4h.7M388.6 69.2h.7M380.3 79.9h.7M383.8 73.0h.7M391.5 71.0h.7M384.6 79.3h.7M398.6 72.6h.7M394.3 62.6h.7M391.5 78.1h.7M390.4 74.5h.7M396.7 80.5h.7M387.0 72.5h.7M388.2 78.0h.7M377.6 69.7h.7M387.7 75.4h.7M374.1 74.2h.7M385.8 73.3h.7M374.7 80.7h.7M401.4 70.0h.7M382.3 73.6h.7M379.9 74.7h.7M380.3 80.0h.7M381.4 71.4h.7M377.3 80.7h.7M382.2 88.9h.7M381.4 65.6h.7M382.4 70.4h.7M380.1 73.0h.7M374.8 85.1h.7M374.3 78.2h.7M392.9 76.6h.7M386.4 69.9h.7M388.2 75.7h.7M388.6 76.4h.7M384.9 76.1h.7M386.1 66.6h.7M394.5 74.4h.7M380.3 74.9h.7M385.9 72.6h.7M387.1 76.2h.7M384.3 73.8h.7M383.1 79.1h.7M393.9 71.3h.7M393.0 72.3h.7M372.2 86.2h.7M381.1 69.3h.7M391.3 76.8h.7M381.1 78.5h.7M386.2 62.4h.7M383.6 80.1h.7M390.7 72.3h.7M393.1 66.9h.7M378.7 75.1h.7M391.3 74.0h.7M392.4 76.9h.7M387.8 72.0h.7M388.0 65.9h.7M395.0 48.3h.7M395.2 62.6h.7M389.3 56.6h.7M393.3 65.9h.7M388.8 55.1h.7M394.0 48.9h.7M388.1 66.4h.7M390.0 58.5h.7M384.8 61.9h.7M384.6 47.3h.7M392.4 59.9h.7M391.2 62.9h.7M383.2 60.7h.7M387.3 57.2h.7M384.8 59.2h.7M399.3 68.6h.7M381.3 64.6h.7M392.4 50.0h.7M387.1 61.8h.7M396.6 51.2h.7M393.1 61.0h.7M390.9 44.5h.7M389.5 61.8h.7M384.7 54.4h.7M391.8 52.5h.7M387.0 60.6h.7M394.8 60.7h.7M379.9 59.9h.7M386.0 66.6h.7M380.1 62.1h.7M387.3 61.5h.7M382.1 72.3h.7M385.3 65.2h.7M389.6 69.5h.7M394.6 48.0h.7M391.9 60.6h.7M390.2 56.8h.7M387.1 63.1h.7M393.4 59.5h.7M381.9 59.7h.7M390.5 60.6h.7M397.3 47.8h.7M394.8 57.6h.7M387.3 61.5h.7M389.2 62.4h.7M390.3 67.7h.7M390.3 54.3h.7M390.3 53.6h.7M382.9 63.1h.7M395.8 54.7h.7M383.9 72.1h.7M388.2 62.9h.7M399.9 55.3h.7M383.1 54.1h.7M391.6 49.2h.7M391.2 61.0h.7M400.8 54.0h.7M391.9 57.4h.7M401.4 55.6h.7M385.9 59.7h.7M392.4 55.6h.7M393.1 57.4h.7M384.1 51.8h.7M401.5 45.2h.7M387.4 60.0h.7M378.0 64.0h.7M398.6 55.9h.7M389.3 57.7h.7M387.4 66.4h.7M396.1 60.8h.7M395.6 52.3h.7M384.8 44.7h.7M392.1 44.6h.7M397.0 39.6h.7M400.9 40.9h.7M396.2 38.9h.7M405.8 46.2h.7M404.4 38.4h.7M403.1 41.1h.7M394.5 40.2h.7M397.6 43.1h.7M397.0 39.6h.7M395.6 43.7h.7M410.1 37.6h.7M383.4 38.1h.7M396.3 38.1h.7M397.3 42.4h.7M402.5 38.8h.7M392.6 45.1h.7M396.6 45.4h.7M387.4 41.3h.7M404.5 43.3h.7M400.2 42.9h.7M404.5 39.9h.7M410.1 39.2h.7M397.2 38.6h.7M386.4 40.3h.7M416.0 37.9h.7M400.6 44.4h.7M409.8 45.8h.7M388.8 47.4h.7M406.2 36.6h.7M401.8 41.4h.7M394.3 39.6h.7M402.2 35.5h.7M398.0 42.2h.7M401.5 42.5h.7M405.4 43.6h.7M396.5 44.6h.7M395.7 39.5h.7M395.2 38.2h.7M396.7 38.0h.7M402.4 41.9h.7M390.9 44.7h.7M388.2 40.7h.7M395.5 47.1h.7M399.0 43.4h.7M399.4 41.9h.7M394.0 42.9h.7M389.8 45.1h.7M392.4 43.4h.7M398.4 44.7h.7M388.9 41.2h.7M399.1 42.2h.7M393.1 44.0h.7M388.7 44.4h.7M398.3 40.8h.7M400.8 43.2h.7M387.1 39.7h.7M400.2 39.5h.7M390.3 44.3h.7M393.3 40.9h.7M394.2 39.1h.7M389.0 40.3h.7M392.9 39.6h.7M390.8 47.0h.7M394.9 39.1h.7M403.8 42.9h.7M386.7 43.7h.7M397.8 43.3h.7M398.6 39.3h.7M393.4 45.2h.7M402.8 46.3h.7M396.0 40.0h.7M407.5 40.8h.7M406.1 40.6h.7M398.6 42.1h.7M389.4 41.3h.7M396.0 42.5h.7M397.4 32.6h.7M396.5 36.4h.7M396.0 38.7h.7M378.5 52.5h.7M397.2 39.1h.7M405.5 38.1h.7M395.6 44.7h.7M407.1 40.1h.7M394.3 44.9h.7M390.5 47.3h.7M404.8 47.0h.7M401.1 38.2h.7M376.6 46.0h.7M392.4 37.8h.7M397.0 40.1h.7M410.2 43.5h.7M404.6 41.4h.7M406.4 43.5h.7M402.3 41.8h.7M383.2 40.7h.7M405.7 42.4h.7M392.7 43.0h.7M412.2 38.7h.7M402.7 51.9h.7M406.2 39.4h.7M409.2 42.7h.7M405.8 41.8h.7M394.1 43.7h.7M398.5 44.7h.7M386.2 46.0h.7M394.9 36.2h.7M421.6 39.3h.7M388.3 42.0h.7M398.7 43.0h.7M390.3 39.1h.7M400.9 39.5h.7M402.8 41.7h.7M396.7 42.6h.7M398.2 43.9h.7M389.8 37.3h.7M395.8 42.2h.7M393.5 37.7h.7M419.1 39.7h.7M399.1 45.1h.7M384.6 45.5h.7M412.2 34.2h.7M402.4 67.9h.7M398.8 69.6h.7M397.5 69.4h.7M400.1 70.5h.7M400.3 71.9h.7M397.3 67.8h.7M400.6 71.1h.7" stroke="#222" stroke-width="0.75" stroke-opacity="0.3" fill="none"/>
<path d="M394.0 69.5h.7M387.1 73.3h.7M387.5 74.0h.7M396.2 69.8h.7M375.0 77.3h.7M378.5 76.8h.7M376.3 76.1h.7M368.4 87.0h.7M384.3 73.1h.7M388.3 74.6h.7M392.9 70.6h.7M380.7 81.8h.7M389.6 69.6h.7M397.2 70.9h.7M387.7 70.8h.7M388.1 72.8h.7M386.4 71.0h.7M380.4 81.8h.7M375.8 75.0h.7M394.2 69.3h.7M376.0 82.6h.7M394.6 73.2h.7M388.9 74.9h.7M389.5 72.8h.7M381.3 79.3h.7M380.3 78.9h.7M390.5 72.8h.7M380.0 73.8h.7M385.5 75.7h.7M383.2 80.2h.7M381.7 81.2h.7M386.6 73.9h.7M386.3 71.5h.7M381.4 74.5h.7M386.5 70.8h.7M380.8 80.5h.7M386.5 73.4h.7M374.3 85.1h.7M371.1 84.4h.7M382.3 78.0h.7M390.3 75.3h.7M388.7 74.4h.7M380.7 79.7h.7M384.9 70.5h.7M390.9 75.5h.7M386.5 78.9h.7M382.3 81.2h.7M401.2 67.8h.7M378.8 77.7h.7M375.5 84.7h.7M382.6 79.8h.7M386.2 73.6h.7M373.2 79.6h.7M392.3 71.6h.7M384.5 74.4h.7M386.2 70.8h.7M392.3 72.9h.7M394.0 70.4h.7M378.2 80.4h.7M375.3 82.0h.7M384.7 70.6h.7M379.9 72.9h.7M389.7 79.2h.7M390.0 75.3h.7M390.9 66.2h.7M384.1 80.0h.7M389.7 68.1h.7M369.8 76.5h.7M383.9 79.7h.7M387.0 76.7h.7M389.9 67.9h.7M395.4 63.0h.7M380.7 76.9h.7M375.6 69.5h.7M370.9 74.9h.7M391.7 65.3h.7M376.4 79.0h.7M386.0 69.6h.7M385.0 69.9h.7M382.8 79.2h.7M387.4 74.9h.7M384.5 78.0h.7M385.5 73.5h.7M378.3 77.2h.7M377.8 69.3h.7M376.5 76.1h.7M371.5 85.5h.7M379.6 84.6h.7M387.7 69.7h.7M385.0 70.1h.7M388.3 77.5h.7M384.4 79.5h.7M391.2 72.6h.7M373.3 83.4h.7M390.3 75.9h.7M391.8 69.1h.7M374.7 78.4h.7M387.7 64.5h.7M397.2 72.5h.7M392.4 65.9h.7M377.8 67.4h.7M381.6 76.5h.7M385.4 70.7h.7M374.6 84.5h.7M397.0 68.5h.7M375.0 73.7h.7M392.2 74.4h.7M386.1 71.2h.7M380.1 78.1h.7M391.2 72.0h.7M387.7 59.0h.7M394.7 67.0h.7M392.0 62.3h.7M392.9 57.7h.7M387.7 66.3h.7M404.3 53.7h.7M385.9 58.5h.7M387.0 71.1h.7M395.0 55.9h.7M380.7 65.0h.7M392.5 52.9h.7M402.9 59.3h.7M391.4 63.3h.7M390.5 62.1h.7M388.2 61.3h.7M398.5 48.3h.7M391.0 61.3h.7M399.8 46.1h.7M396.0 55.5h.7M388.2 48.4h.7M387.4 53.5h.7M398.2 50.3h.7M397.8 55.2h.7M387.9 68.5h.7M392.3 64.7h.7M395.9 50.7h.7M405.1 54.3h.7M398.1 52.6h.7M383.4 62.5h.7M380.8 56.4h.7M392.2 52.0h.7M395.0 39.1h.7M390.8 48.5h.7M389.3 54.9h.7M389.3 54.2h.7M389.2 55.5h.7M391.1 50.4h.7M384.4 68.8h.7M396.0 52.4h.7M392.0 67.1h.7M395.0 50.8h.7M387.7 52.6h.7M394.1 61.2h.7M390.7 59.8h.7M397.0 54.7h.7M390.3 64.6h.7M400.6 53.2h.7M395.1 60.4h.7M385.7 59.2h.7M391.2 50.8h.7M390.6 54.0h.7M395.8 55.3h.7M399.8 50.4h.7M382.9 50.3h.7M397.9 59.9h.7M392.1 57.4h.7M391.2 55.1h.7M383.2 64.7h.7M384.9 61.8h.7M399.8 52.6h.7M396.0 54.2h.7M390.5 60.5h.7M387.3 50.2h.7M385.0 60.6h.7M390.6 61.7h.7M388.7 57.9h.7M387.7 53.2h.7M396.2 59.6h.7M408.2 45.3h.7M401.4 56.8h.7M397.2 59.8h.7M401.7 41.0h.7M399.3 40.1h.7M392.8 43.2h.7M388.7 37.6h.7M403.9 37.8h.7M408.2 38.3h.7M393.0 43.7h.7M387.3 40.7h.7M396.7 40.5h.7M393.8 43.6h.7M399.2 38.0h.7M399.5 45.6h.7M398.7 43.2h.7M399.0 44.1h.7M395.4 39.8h.7M392.6 41.5h.7M406.8 43.1h.7M399.0 33.9h.7M397.1 37.0h.7M391.4 41.6h.7M400.7 38.1h.7M391.2 47.2h.7M394.5 38.6h.7M401.3 39.8h.7M413.9 40.7h.7M396.9 43.3h.7M397.5 41.7h.7M404.2 42.9h.7M388.8 41.2h.7M394.0 40.2h.7M389.9 39.4h.7M392.4 45.4h.7M404.9 37.6h.7M391.7 41.7h.7M407.0 41.1h.7M402.8 36.8h.7M395.0 36.5h.7M395.4 41.7h.7M407.7 44.0h.7M397.8 44.7h.7M394.4 44.8h.7M402.0 36.4h.7M396.7 44.1h.7M397.8 41.4h.7M395.1 44.7h.7M388.3 40.9h.7M403.8 38.7h.7M388.8 43.4h.7M384.8 42.7h.7M392.6 38.4h.7M397.9 43.2h.7M403.8 38.0h.7M399.5 41.4h.7M405.1 41.7h.7M402.5 41.5h.7M400.3 43.7h.7M394.1 38.5h.7M398.8 44.5h.7M392.9 44.0h.7M401.0 42.8h.7M397.4 41.9h.7M400.0 39.0h.7M389.9 44.1h.7M411.2 36.1h.7M393.4 39.5h.7M401.5 43.7h.7M399.5 45.9h.7M398.7 38.8h.7M404.0 38.6h.7M395.2 41.9h.7M391.3 45.4h.7M390.1 36.1h.7M382.4 45.8h.7M404.6 38.9h.7M409.8 33.9h.7M388.9 42.7h.7M396.7 41.6h.7M392.6 45.0h.7M393.7 37.1h.7M401.2 43.2h.7M390.7 45.8h.7M394.1 40.8h.7M409.7 38.6h.7M397.3 38.2h.7M396.1 41.6h.7M385.6 52.1h.7M385.6 43.1h.7M385.5 48.6h.7M381.0 50.8h.7M408.0 41.0h.7M386.1 41.1h.7M391.8 46.9h.7M410.3 44.3h.7M408.1 34.8h.7M382.1 41.1h.7M401.5 35.7h.7M395.4 45.1h.7M388.1 42.2h.7M384.1 41.0h.7M409.9 41.9h.7M403.8 44.1h.7M387.1 44.0h.7M383.2 51.6h.7M403.1 43.0h.7M403.5 41.9h.7M386.3 43.4h.7M397.3 45.7h.7M405.3 36.5h.7M395.5 41.4h.7M403.6 35.0h.7M414.8 31.1h.7M392.4 41.1h.7M391.4 49.4h.7M386.9 46.1h.7M409.2 35.7h.7M399.0 36.3h.7M392.9 31.6h.7M399.5 48.5h.7M413.9 37.8h.7M386.7 39.7h.7M390.7 45.0h.7M396.2 39.3h.7M399.1 49.4h.7M404.0 41.0h.7M401.5 72.1h.7M400.6 68.3h.7M398.9 70.1h.7M396.9 71.6h.7M402.4 71.2h.7M403.0 70.4h.7M406.0 69.5h.7" stroke="#222" stroke-width="0.75" stroke-opacity="0.3" fill="none"/>
<path d="M381.8 81.3h.7M378.5 76.7h.7M387.0 73.8h.7M382.7 77.8h.7M386.5 70.2h.7M385.5 73.2h.7M379.2 83.4h.7M373.9 80.1h.7M385.0 75.7h.7M387.7 75.6h.7M374.5 78.5h.7M378.0 74.2h.7M383.7 77.2h.7M393.3 69.0h.7M380.1 77.8h.7M375.3 80.5h.7M381.8 75.6h.7M392.6 70.6h.7M380.4 76.6h.7M389.7 72.1h.7M385.7 75.8h.7M388.8 67.8h.7M382.7 77.4h.7M386.3 73.0h.7M386.4 73.9h.7M378.1 77.6h.7M379.6 79.3h.7M396.7 69.1h.7M395.7 70.4h.7M392.0 70.1h.7M378.6 79.2h.7M378.3 79.4h.7M374.2 77.8h.7M375.8 78.2h.7M385.4 75.9h.7M384.5 76.2h.7M384.2 76.3h.7M387.3 75.9h.7M384.4 72.3h.7M390.2 66.7h.7M390.0 70.3h.7M383.0 77.1h.7M394.8 73.1h.7M374.0 86.4h.7M384.4 81.0h.7M372.4 81.9h.7M391.2 73.1h.7M386.8 73.1h.7M371.2 88.0h.7M379.4 74.6h.7M386.2 78.8h.7M380.8 79.5h.7M369.3 83.8h.7M384.1 72.0h.7M385.1 77.4h.7M386.4 71.4h.7M387.9 71.3h.7M374.4 78.3h.7M372.9 80.5h.7M392.1 65.5h.7M379.5 75.1h.7M386.1 62.5h.7M392.2 67.9h.7M381.3 73.7h.7M391.6 75.4h.7M391.6 76.5h.7M373.9 84.9h.7M373.3 80.2h.7M372.9 77.2h.7M383.5 71.6h.7M377.3 82.5h.7M387.9 70.4h.7M385.1 73.3h.7M384.9 77.1h.7M387.5 73.1h.7M385.2 81.3h.7M382.5 74.9h.7M371.3 81.5h.7M380.5 74.2h.7M400.9 63.4h.7M387.2 70.1h.7M379.9 83.2h.7M381.0 79.1h.7M380.8 71.2h.7M382.2 75.2h.7M392.8 67.9h.7M382.4 74.2h.7M382.2 72.2h.7M390.3 66.5h.7M373.6 76.0h.7M391.7 76.7h.7M386.4 73.9h.7M382.1 76.1h.7M375.8 73.8h.7M396.1 70.0h.7M388.9 72.1h.7M380.9 74.1h.7M385.4 77.0h.7M386.5 73.5h.7M396.9 69.0h.7M385.4 73.1h.7M379.4 82.9h.7M371.3 86.1h.7M378.1 71.9h.7M389.2 73.2h.7M388.0 75.2h.7M382.7 75.2h.7M382.7 74.6h.7M392.0 66.6h.7M390.1 66.0h.7M387.8 59.4h.7M386.1 62.9h.7M383.4 59.6h.7M388.6 43.8h.7M397.3 49.9h.7M396.5 57.2h.7M388.6 61.4h.7M392.9 59.0h.7M381.7 59.6h.7M389.5 63.8h.7M392.4 69.7h.7M391.6 57.4h.7M393.0 55.2h.7M394.4 56.9h.7M395.2 52.5h.7M387.2 58.4h.7M390.1 59.9h.7M393.4 63.9h.7M400.8 57.0h.7M397.5 59.8h.7M386.9 55.3h.7M396.7 57.6h.7M382.6 67.1h.7M390.4 53.0h.7M389.3 58.3h.7M392.3 60.8h.7M394.6 52.8h.7M398.5 55.9h.7M391.9 53.1h.7M398.3 55.7h.7M391.6 48.6h.7M390.5 66.6h.7M387.3 59.2h.7M395.9 63.1h.7M383.5 66.7h.7M391.4 65.4h.7M388.0 60.1h.7M388.5 58.0h.7M385.2 64.9h.7M395.3 64.7h.7M394.8 63.2h.7M396.0 62.5h.7M394.2 51.5h.7M386.4 49.2h.7M392.4 64.7h.7M396.5 62.2h.7M377.5 60.3h.7M391.3 57.9h.7M389.9 64.0h.7M397.5 64.6h.7M393.5 47.9h.7M387.4 51.8h.7M393.1 60.2h.7M383.8 62.2h.7M401.2 67.1h.7M389.4 65.7h.7M396.1 55.5h.7M406.0 58.6h.7M387.9 63.1h.7M392.0 69.0h.7M401.3 50.9h.7M391.0 57.9h.7M396.3 51.8h.7M392.7 58.6h.7M396.4 57.4h.7M393.7 48.0h.7M396.8 64.0h.7M394.5 55.8h.7M383.7 65.6h.7M396.6 55.9h.7M393.2 56.3h.7M403.0 39.9h.7M381.4 41.0h.7M398.5 43.2h.7M405.0 38.0h.7M390.8 41.8h.7M400.8 45.7h.7M402.6 45.0h.7M391.4 41.6h.7M393.4 42.5h.7M411.6 41.5h.7M397.8 38.9h.7M393.9 36.5h.7M407.5 36.2h.7M394.7 45.4h.7M392.2 40.9h.7M393.4 49.4h.7M397.3 45.9h.7M399.9 44.0h.7M394.3 40.8h.7M402.1 39.5h.7M411.6 41.3h.7M397.7 40.0h.7M389.8 46.7h.7M390.1 42.8h.7M386.8 44.4h.7M398.1 39.8h.7M402.7 44.3h.7M383.5 36.2h.7M392.7 40.5h.7M399.4 41.0h.7M403.0 43.3h.7M386.2 42.9h.7M395.8 43.1h.7M378.8 46.7h.7M401.0 41.3h.7M401.7 41.8h.7M392.9 41.2h.7M394.4 44.1h.7M396.5 43.2h.7M396.4 39.1h.7M410.3 37.1h.7M392.5 36.5h.7M389.0 45.6h.7M394.5 40.5h.7M406.4 41.0h.7M403.5 41.8h.7M393.9 44.3h.7M400.2 43.3h.7M397.9 38.9h.7M391.0 42.9h.7M397.2 41.2h.7M380.7 46.7h.7M412.4 41.8h.7M395.5 45.9h.7M397.9 41.6h.7M394.8 38.8h.7M386.3 44.2h.7M401.0 38.6h.7M407.0 42.7h.7M390.0 43.9h.7M401.7 39.9h.7M397.0 41.2h.7M398.5 43.5h.7M386.2 37.9h.7M414.1 37.3h.7M390.3 45.2h.7M400.3 38.0h.7M388.8 40.4h.7M398.4 45.9h.7M388.4 42.1h.7M390.6 45.2h.7M390.4 45.2h.7M395.7 42.1h.7M389.1 40.3h.7M392.1 39.6h.7M394.8 44.4h.7M395.8 37.2h.7M394.1 50.3h.7M400.2 41.5h.7M395.2 40.7h.7M396.9 46.1h.7M407.5 41.3h.7M383.0 42.4h.7M398.0 45.5h.7M405.4 44.0h.7M399.1 41.2h.7M389.2 45.1h.7M404.0 43.4h.7M408.3 36.4h.7M405.2 37.8h.7M402.0 42.5h.7M391.7 42.0h.7M386.0 42.9h.7M400.5 36.7h.7M398.6 41.8h.7M387.5 40.1h.7M394.8 43.9h.7M387.1 45.4h.7M386.3 35.5h.7M412.6 36.6h.7M401.0 41.5h.7M402.1 45.5h.7M398.3 41.6h.7M394.2 43.9h.7M388.1 40.7h.7M397.1 38.9h.7M395.8 47.8h.7M389.6 38.0h.7M384.2 38.5h.7M388.8 44.9h.7M403.1 36.2h.7M390.6 38.3h.7M408.4 43.7h.7M405.0 38.8h.7M395.5 44.1h.7M388.5 43.5h.7M407.8 42.3h.7M396.5 46.6h.7M395.1 50.9h.7M403.4 40.5h.7M395.0 40.2h.7M399.3 39.4h.7M385.6 42.4h.7M405.1 38.9h.7M400.3 68.8h.7M398.7 71.1h.7M402.5 70.0h.7M396.3 68.7h.7M394.6 72.5h.7M394.6 72.2h.7M399.0 71.2h.7" stroke="#222" stroke-width="0.75" stroke-opacity="0.3" fill="none"/>
<path d="M380.5 76.7h.7M384.5 80.5h.7M394.2 68.9h.7M383.8 74.4h.7M391.5 70.9h.7M389.1 76.1h.7M377.2 77.3h.7M385.1 68.8h.7M376.2 80.2h.7M393.4 65.9h.7M380.4 78.1h.7M377.7 78.9h.7M378.7 79.2h.7M383.5 76.6h.7M380.5 74.7h.7M382.2 75.1h.7M380.3 79.2h.7M382.5 75.2h.7M377.6 78.2h.7M390.5 72.5h.7M387.2 77.3h.7M393.2 71.1h.7M375.9 81.1h.7M376.4 80.6h.7M381.7 72.8h.7M375.7 76.9h.7M380.5 79.8h.7M383.0 74.1h.7M395.1 70.2h.7M377.6 80.7h.7M373.9 82.0h.7M397.0 65.9h.7M386.4 78.1h.7M376.4 79.3h.7M390.7 65.6h.7M374.6 75.9h.7M388.9 71.8h.7M388.8 76.5h.7M393.3 70.6h.7M381.9 75.7h.7M381.7 77.6h.7M396.1 64.1h.7M388.6 72.9h.7M377.7 77.0h.7M389.1 73.2h.7M387.2 70.8h.7M383.8 75.9h.7M385.6 74.9h.7M380.1 72.5h.7M394.7 71.7h.7M376.3 78.4h.7M373.3 79.9h.7M377.2 80.0h.7M380.1 80.0h.7M383.3 70.5h.7M368.9 85.2h.7M382.6 71.4h.7M395.7 69.6h.7M385.6 58.2h.7M380.5 75.3h.7M382.9 71.1h.7M381.4 80.3h.7M391.4 75.1h.7M382.0 78.2h.7M374.6 78.4h.7M384.2 75.6h.7M384.9 70.8h.7M373.4 81.8h.7M379.1 74.0h.7M391.0 75.1h.7M391.3 71.1h.7M386.9 71.0h.7M382.5 71.7h.7M376.1 79.3h.7M389.5 70.4h.7M391.2 74.1h.7M393.7 71.0h.7M382.3 82.5h.7M390.7 73.3h.7M380.9 74.8h.7M372.6 79.2h.7M389.8 70.3h.7M369.2 78.1h.7M393.7 72.3h.7M389.4 66.4h.7M382.1 77.0h.7M389.0 72.0h.7M389.5 76.3h.7M376.6 82.6h.7M376.3 75.5h.7M372.4 82.3h.7M390.3 74.9h.7M376.0 78.7h.7M382.6 74.7h.7M385.7 67.9h.7M382.7 66.7h.7M392.6 64.9h.7M377.7 73.1h.7M398.5 64.0h.7M378.2 79.6h.7M397.7 70.0h.7M380.9 80.0h.7M382.8 75.5h.7M373.9 79.4h.7M389.0 74.9h.7M380.9 69.5h.7M392.3 68.2h.7M390.8 72.9h.7M388.0 75.5h.7M393.8 54.5h.7M394.9 58.2h.7M397.7 50.7h.7M385.9 55.1h.7M391.7 61.5h.7M401.6 43.7h.7M402.5 59.4h.7M390.8 45.9h.7M404.5 56.6h.7M381.2 57.0h.7M391.3 64.3h.7M394.5 64.0h.7M381.3 72.7h.7M390.1 68.1h.7M394.3 54.8h.7M396.2 64.5h.7M398.0 48.4h.7M389.8 51.0h.7M394.1 61.9h.7M402.0 56.9h.7M391.9 57.3h.7M395.3 54.2h.7M390.3 56.1h.7M392.6 59.3h.7M397.5 66.2h.7M391.6 66.6h.7M386.7 66.5h.7M383.9 61.8h.7M391.0 62.1h.7M391.3 53.1h.7M386.5 59.5h.7M392.3 60.3h.7M393.2 61.5h.7M400.4 60.0h.7M394.4 64.1h.7M379.8 58.0h.7M398.4 55.3h.7M390.1 63.4h.7M391.6 63.2h.7M394.4 58.4h.7M388.2 62.3h.7M388.1 51.1h.7M388.8 60.8h.7M396.1 67.0h.7M374.9 64.8h.7M395.3 64.5h.7M394.9 54.6h.7M389.5 62.5h.7M396.8 64.3h.7M390.2 54.0h.7M392.8 56.3h.7M377.4 57.2h.7M388.7 56.9h.7M386.4 63.5h.7M388.9 62.1h.7M391.5 73.5h.7M386.5 52.8h.7M406.5 62.5h.7M403.5 62.8h.7M392.0 61.5h.7M397.6 75.5h.7M390.2 42.7h.7M397.9 56.2h.7M384.0 56.4h.7M396.0 59.8h.7M393.5 59.6h.7M391.3 65.1h.7M394.1 63.4h.7M393.0 58.1h.7M379.1 68.9h.7M392.5 52.5h.7M388.1 61.9h.7M394.2 38.0h.7M390.0 41.8h.7M394.8 43.9h.7M404.5 38.8h.7M376.3 40.8h.7M409.0 43.3h.7M399.7 42.1h.7M383.8 45.3h.7M396.8 46.4h.7M411.9 35.7h.7M405.2 39.5h.7M394.1 43.9h.7M396.7 41.5h.7M387.3 44.1h.7M392.6 40.0h.7M420.5 43.2h.7M411.8 43.1h.7M400.0 42.2h.7M398.3 43.4h.7M396.4 44.3h.7M398.1 40.8h.7M384.4 39.8h.7M407.7 42.8h.7M391.3 41.8h.7M395.2 43.0h.7M398.0 47.9h.7M396.4 41.8h.7M403.6 40.9h.7M399.4 42.4h.7M386.5 42.2h.7M387.2 49.3h.7M399.2 37.3h.7M405.7 39.2h.7M398.0 41.9h.7M408.2 42.6h.7M391.1 44.5h.7M402.3 39.4h.7M398.3 39.8h.7M402.8 43.4h.7M389.7 46.5h.7M402.4 39.7h.7M397.7 42.0h.7M392.4 40.8h.7M393.0 43.5h.7M401.1 42.4h.7M396.1 41.4h.7M412.1 39.6h.7M402.3 42.5h.7M394.5 43.0h.7M400.4 35.1h.7M400.2 43.8h.7M404.2 40.8h.7M395.6 44.4h.7M399.1 40.9h.7M395.7 36.4h.7M408.0 41.5h.7M412.4 43.8h.7M388.5 43.2h.7M398.2 40.7h.7M405.4 38.1h.7M400.0 43.6h.7M401.4 38.0h.7M403.2 34.2h.7M396.1 45.8h.7M383.5 42.8h.7M400.5 45.3h.7M399.8 40.9h.7M394.5 46.7h.7M400.3 45.7h.7M394.1 43.5h.7M397.8 40.2h.7M397.4 46.2h.7M397.7 37.9h.7M393.7 38.0h.7M397.1 35.7h.7M397.7 38.9h.7M394.0 35.6h.7M402.2 49.1h.7M383.5 37.4h.7M415.2 39.9h.7M411.1 48.8h.7M396.5 45.2h.7M392.8 50.6h.7M394.4 43.8h.7M385.6 39.1h.7M393.0 38.4h.7M401.8 38.9h.7M393.3 42.0h.7M398.1 43.8h.7M406.2 45.5h.7M390.5 45.9h.7M396.5 44.1h.7M390.5 47.8h.7M396.1 43.3h.7M397.8 42.1h.7M407.2 35.4h.7M397.0 40.4h.7M392.8 49.9h.7M396.8 42.7h.7M402.0 41.6h.7M391.2 41.6h.7M394.6 48.0h.7M407.4 36.4h.7M406.3 34.5h.7M390.1 48.7h.7M398.0 42.3h.7M407.6 36.7h.7M403.7 43.2h.7M387.9 43.7h.7M397.4 44.6h.7M390.1 45.1h.7M408.9 34.2h.7M390.7 40.2h.7M405.2 42.4h.7M399.6 42.1h.7M390.9 36.6h.7M389.5 41.9h.7M405.8 38.1h.7M404.2 39.6h.7M393.0 46.3h.7M391.4 41.4h.7M407.9 42.5h.7M397.6 46.1h.7M389.9 51.7h.7M405.8 69.0h.7M402.0 70.6h.7M400.3 69.3h.7M399.8 68.2h.7M394.9 72.4h.7M400.8 69.8h.7M401.7 74.7h.7" stroke="#222" stroke-width="0.75" stroke-opacity="0.3" fill="none"/>
</g></g>
<rect x="366.65" y="28.1" width="64.1" height="68.45" fill="none" stroke="#000" stroke-width="1.45"/>
<line x1="395.45" y1="28.1" x2="395.45" y2="96.55000000000001" stroke="#000" stroke-width="1.35"/>
<line x1="366.65" y1="66.35" x2="430.75" y2="66.35" stroke="#000" stroke-width="1.3"/>
<text x="397.3" y="22.4" text-anchor="middle" style="font-size:9.3px;font-weight:bold;">8</text>
<text x="369.65" y="37.1" text-anchor="start" style="font-size:9.5px;" stroke="#000" stroke-width="0.25">27%</text>
<text x="428.05" y="37.1" text-anchor="end" style="font-size:9.5px;" stroke="#000" stroke-width="0.25">24%</text>
<text x="428.05" y="93.7" text-anchor="end" style="font-size:9.5px;" stroke="#000" stroke-width="0.25">3.4%</text>
<text x="369.5" y="109.1" text-anchor="middle" stroke="#000" stroke-width="0.2" style="font-size:6.9px">10<tspan dy="-1.9" style="font-size:4.7px">0</tspan></text>
<text x="385.1" y="109.1" text-anchor="middle" stroke="#000" stroke-width="0.2" style="font-size:6.9px">10<tspan dy="-1.9" style="font-size:4.7px">1</tspan></text>
<text x="400.6" y="109.1" text-anchor="middle" stroke="#000" stroke-width="0.2" style="font-size:6.9px">10<tspan dy="-1.9" style="font-size:4.7px">2</tspan></text>
<text x="416.2" y="109.1" text-anchor="middle" stroke="#000" stroke-width="0.2" style="font-size:6.9px">10<tspan dy="-1.9" style="font-size:4.7px">3</tspan></text>
<text x="431.7" y="109.1" text-anchor="middle" stroke="#000" stroke-width="0.2" style="font-size:6.9px">10<tspan dy="-1.9" style="font-size:4.7px">4</tspan></text>
<text x="364.8" y="95.9" text-anchor="middle" transform="rotate(-90 364.8 95.9)" stroke="#000" stroke-width="0.2" style="font-size:6.9px">10<tspan dy="-1.8" style="font-size:4.7px">0</tspan></text>
<text x="364.8" y="79.2" text-anchor="middle" transform="rotate(-90 364.8 79.2)" stroke="#000" stroke-width="0.2" style="font-size:6.9px">10<tspan dy="-1.8" style="font-size:4.7px">1</tspan></text>
<text x="364.8" y="62.5" text-anchor="middle" transform="rotate(-90 364.8 62.5)" stroke="#000" stroke-width="0.2" style="font-size:6.9px">10<tspan dy="-1.8" style="font-size:4.7px">2</tspan></text>
<text x="364.8" y="45.8" text-anchor="middle" transform="rotate(-90 364.8 45.8)" stroke="#000" stroke-width="0.2" style="font-size:6.9px">10<tspan dy="-1.8" style="font-size:4.7px">3</tspan></text>
<text x="364.8" y="29.1" text-anchor="middle" transform="rotate(-90 364.8 29.1)" stroke="#000" stroke-width="0.2" style="font-size:6.9px">10<tspan dy="-1.8" style="font-size:4.7px">4</tspan></text>
<clipPath id="cp5"><rect x="443.6" y="28.1" width="64.1" height="68.45"/></clipPath>
<g clip-path="url(#cp5)"><g filter="url(#soft)">
<ellipse cx="469.1" cy="81.2" rx="21" ry="9.5" fill="url(#gg)" opacity="0.6" transform="rotate(-15 469.1 81.2)"/>
<ellipse cx="472.1" cy="80.1" rx="9" ry="6" fill="url(#gg)" opacity="0.35" transform="rotate(-15 472.1 80.1)"/>
<ellipse cx="480.2" cy="72.5" rx="8" ry="9" fill="url(#gg)" opacity="0.42" transform="rotate(20 480.2 72.5)"/>
<ellipse cx="480.1" cy="58.1" rx="5.5" ry="13" fill="url(#gg)" opacity="0.25" transform="rotate(5 480.1 58.1)"/>
<ellipse cx="480.6" cy="43.6" rx="13.5" ry="5.5" fill="url(#gg)" opacity="0.5" transform="rotate(-3 480.6 43.6)"/>
<ellipse cx="481.6" cy="43.4" rx="7" ry="3" fill="url(#gg)" opacity="0.25" transform="rotate(-3 481.6 43.4)"/>
<ellipse cx="467.6" cy="42.5" rx="5" ry="3" fill="url(#gg)" opacity="0.13" transform="rotate(0 467.6 42.5)"/>
<ellipse cx="473.6" cy="68.1" rx="20" ry="22" fill="url(#gg)" opacity="0.1" transform="rotate(0 473.6 68.1)"/>
<path d="M467.6 84.1h.7M472.4 80.1h.7M471.0 81.3h.7M469.1 77.2h.7M477.8 80.8h.7M460.0 76.8h.7M459.2 79.7h.7M468.6 92.6h.7M474.8 78.8h.7M476.2 73.3h.7M490.5 84.1h.7M450.1 87.8h.7M477.4 82.0h.7M461.1 87.2h.7M482.7 80.2h.7M460.9 84.3h.7M480.7 81.8h.7M470.5 81.8h.7M466.1 86.3h.7M474.0 82.4h.7M473.5 85.7h.7M466.6 84.7h.7M475.7 79.9h.7M473.8 81.6h.7M478.8 75.6h.7M465.8 78.8h.7M479.8 80.9h.7M478.5 84.6h.7M470.9 81.8h.7M475.2 79.4h.7M472.2 80.4h.7M466.6 75.6h.7M470.9 83.9h.7M470.8 79.1h.7M473.8 77.3h.7M479.4 80.1h.7M466.1 79.2h.7M475.6 80.6h.7M461.6 82.4h.7M460.5 85.0h.7M476.6 76.6h.7M465.8 77.1h.7M462.6 85.3h.7M461.6 78.8h.7M473.3 80.3h.7M458.0 85.7h.7M465.6 78.7h.7M472.0 77.1h.7M471.1 81.3h.7M476.2 80.3h.7M468.8 79.6h.7M472.6 90.5h.7M463.4 80.2h.7M460.0 85.8h.7M480.7 80.2h.7M468.9 84.0h.7M464.0 79.8h.7M459.5 77.5h.7M466.8 84.3h.7M465.9 83.0h.7M471.4 83.3h.7M466.1 83.4h.7M475.1 73.3h.7M465.8 76.3h.7M463.9 83.6h.7M468.6 81.7h.7M461.1 79.5h.7M473.9 80.6h.7M469.9 80.3h.7M464.1 88.9h.7M470.4 78.4h.7M473.1 83.6h.7M465.9 86.1h.7M473.4 77.8h.7M459.7 86.7h.7M461.6 81.0h.7M469.2 72.8h.7M478.6 79.7h.7M482.2 81.0h.7M472.5 82.1h.7M479.7 79.9h.7M474.6 80.8h.7M455.2 88.5h.7M468.3 78.1h.7M470.5 79.2h.7M475.5 71.6h.7M451.9 82.6h.7M467.5 78.1h.7M470.7 78.3h.7M483.7 81.8h.7M466.7 77.6h.7M464.3 83.6h.7M465.5 80.3h.7M466.1 82.0h.7M471.6 79.7h.7M461.9 86.0h.7M483.3 73.6h.7M483.1 78.2h.7M449.6 81.3h.7M463.0 83.5h.7M476.7 83.5h.7M463.3 81.4h.7M459.5 71.8h.7M462.3 76.2h.7M471.7 83.8h.7M456.9 79.6h.7M481.6 77.9h.7M470.1 81.2h.7M469.4 76.9h.7M464.9 82.4h.7M474.5 80.4h.7M472.7 79.2h.7M479.4 74.1h.7M468.5 83.6h.7M470.6 79.2h.7M478.5 76.1h.7M451.2 91.3h.7M466.0 78.2h.7M482.0 73.0h.7M454.1 83.0h.7M465.0 80.1h.7M476.8 74.1h.7M461.6 84.9h.7M469.1 83.4h.7M470.8 85.5h.7M471.6 79.2h.7M489.4 79.5h.7M455.5 88.5h.7M477.8 82.7h.7M475.9 82.2h.7M470.6 82.1h.7M458.0 84.4h.7M475.3 83.3h.7M475.6 86.8h.7M484.0 77.0h.7M467.8 77.9h.7M453.9 77.4h.7M470.1 79.7h.7M473.4 87.8h.7M462.5 81.3h.7M450.6 79.7h.7M468.7 81.8h.7M474.5 78.9h.7M456.3 86.6h.7M465.3 83.6h.7M463.3 78.8h.7M471.4 82.9h.7M450.3 85.0h.7M482.7 77.4h.7M469.7 83.1h.7M474.4 81.5h.7M480.9 79.7h.7M472.6 83.5h.7M473.4 80.5h.7M471.9 76.2h.7M477.7 78.2h.7M476.6 77.9h.7M471.5 79.7h.7M472.9 78.6h.7M466.3 78.8h.7M474.6 76.3h.7M470.3 80.8h.7M471.1 84.9h.7M481.5 79.3h.7M480.1 79.4h.7M480.3 81.5h.7M476.9 82.3h.7M471.3 81.5h.7M472.1 85.7h.7M470.5 79.6h.7M479.7 75.4h.7M465.5 78.8h.7M470.9 80.7h.7M481.9 67.0h.7M482.5 72.0h.7M480.3 67.3h.7M477.7 79.3h.7M485.0 71.5h.7M479.8 77.4h.7M482.6 73.7h.7M480.2 74.3h.7M479.7 74.8h.7M481.6 70.4h.7M482.4 68.9h.7M476.5 69.5h.7M479.4 73.5h.7M476.6 72.2h.7M479.8 75.1h.7M477.4 72.0h.7M476.5 70.9h.7M483.2 65.4h.7M480.2 66.6h.7M476.6 71.8h.7M476.9 76.4h.7M481.3 69.3h.7M479.9 74.2h.7M477.8 74.3h.7M484.7 73.2h.7M477.3 71.6h.7M479.5 73.6h.7M484.2 76.4h.7M475.4 84.3h.7M482.2 71.8h.7M482.7 73.2h.7M485.6 66.3h.7M481.8 65.9h.7M481.4 72.3h.7M477.3 74.5h.7M482.2 76.5h.7M484.2 68.3h.7M485.7 74.8h.7M481.1 52.0h.7M479.9 56.2h.7M481.2 56.0h.7M481.4 57.5h.7M482.8 50.6h.7M478.3 50.6h.7M479.4 55.5h.7M482.3 53.6h.7M481.4 62.0h.7M476.7 62.2h.7M483.2 54.0h.7M480.3 58.8h.7M481.2 60.7h.7M480.8 52.9h.7M481.9 53.5h.7M484.7 56.6h.7M483.2 53.1h.7M477.8 53.3h.7M484.4 58.6h.7M475.9 54.2h.7M484.6 63.5h.7M478.3 55.1h.7M477.5 41.0h.7M475.8 43.3h.7M479.7 44.6h.7M482.5 43.3h.7M482.5 45.5h.7M485.7 45.0h.7M475.9 42.4h.7M484.5 44.4h.7M472.5 43.8h.7M480.6 44.1h.7M481.3 47.4h.7M485.2 44.3h.7M473.2 41.1h.7M477.2 42.3h.7M477.3 44.0h.7M480.0 43.9h.7M477.6 42.4h.7M483.2 43.4h.7M482.1 44.7h.7M479.2 42.5h.7M477.0 46.5h.7M476.8 43.6h.7M485.2 45.0h.7M481.6 43.8h.7M474.8 48.7h.7M481.2 47.1h.7M477.9 45.0h.7M470.1 44.0h.7M476.4 42.0h.7M491.5 44.3h.7M467.3 43.3h.7M472.8 41.4h.7M469.2 43.8h.7M483.4 44.2h.7M485.2 41.2h.7M468.0 42.0h.7M475.4 42.7h.7M479.5 42.4h.7M480.6 42.3h.7M477.1 44.3h.7M474.3 44.5h.7M479.5 42.8h.7M471.3 45.6h.7M477.4 45.7h.7M482.2 46.2h.7M474.6 45.5h.7M484.3 48.4h.7M485.6 43.4h.7M477.1 41.9h.7M478.2 44.5h.7M483.7 40.9h.7M479.2 42.0h.7M479.6 44.8h.7M467.6 43.0h.7M467.9 44.2h.7M478.2 55.1h.7M471.4 74.1h.7M458.5 72.4h.7M480.6 65.7h.7M456.3 69.3h.7M483.4 90.2h.7M463.2 63.6h.7M473.8 61.3h.7M454.1 72.9h.7M489.8 77.1h.7M478.8 59.5h.7M479.8 74.2h.7M484.1 68.6h.7M479.6 59.7h.7M480.9 68.0h.7M479.7 74.7h.7M476.7 73.6h.7M475.1 61.1h.7M478.2 68.3h.7M485.6 47.2h.7M485.6 51.7h.7M462.8 69.4h.7M483.5 61.9h.7M473.9 66.8h.7M470.4 72.9h.7M473.7 69.9h.7M471.5 82.5h.7M468.4 59.7h.7M463.6 70.9h.7M477.0 48.8h.7M486.5 53.8h.7M474.9 64.4h.7M471.3 74.8h.7M457.5 66.6h.7M458.3 60.7h.7M462.6 75.2h.7M472.3 66.9h.7M479.7 72.0h.7M472.1 67.9h.7M476.1 65.0h.7M474.7 72.8h.7M466.5 73.0h.7M471.1 57.7h.7M459.0 63.3h.7M471.0 73.5h.7M476.7 70.5h.7M489.3 67.1h.7M472.9 75.7h.7M460.7 76.0h.7M460.5 66.6h.7M469.1 64.5h.7M469.0 80.6h.7M482.0 68.0h.7M477.4 61.6h.7M481.3 70.1h.7" stroke="#222" stroke-width="0.75" stroke-opacity="0.3" fill="none"/>
<path d="M474.1 76.2h.7M458.2 82.7h.7M471.6 76.2h.7M476.5 80.9h.7M476.0 80.7h.7M471.1 78.9h.7M444.7 90.9h.7M478.0 84.2h.7M472.1 81.9h.7M469.4 81.7h.7M472.4 80.0h.7M483.1 75.9h.7M464.7 82.3h.7M464.3 81.3h.7M462.8 86.5h.7M470.1 78.4h.7M459.5 85.5h.7M474.1 83.5h.7M482.3 72.0h.7M475.1 77.0h.7M468.3 82.3h.7M456.1 81.5h.7M485.4 81.4h.7M463.8 84.7h.7M462.0 85.9h.7M478.0 69.8h.7M468.4 83.2h.7M462.5 88.0h.7M468.7 77.3h.7M486.3 78.5h.7M466.7 78.2h.7M474.2 80.2h.7M478.3 79.6h.7M468.1 81.7h.7M473.2 83.4h.7M457.4 79.8h.7M465.7 84.7h.7M461.5 83.4h.7M474.5 76.4h.7M462.5 88.3h.7M464.8 88.7h.7M451.9 84.1h.7M466.0 80.4h.7M453.0 79.3h.7M455.6 84.9h.7M459.5 89.9h.7M478.1 77.5h.7M460.5 84.2h.7M472.0 82.8h.7M479.8 83.2h.7M463.0 78.1h.7M462.2 87.2h.7M471.2 72.6h.7M454.9 87.1h.7M474.6 83.3h.7M467.3 80.0h.7M463.6 88.8h.7M462.7 80.2h.7M458.7 81.9h.7M454.6 80.6h.7M466.6 82.2h.7M468.1 85.8h.7M485.8 80.7h.7M473.2 82.2h.7M466.7 81.9h.7M469.3 83.3h.7M474.8 82.6h.7M476.4 80.3h.7M474.2 72.0h.7M465.4 83.4h.7M477.5 87.0h.7M480.0 88.2h.7M473.6 84.3h.7M484.3 65.6h.7M476.1 79.7h.7M454.3 80.2h.7M469.4 82.6h.7M465.4 79.2h.7M468.6 82.6h.7M473.5 84.1h.7M480.2 81.1h.7M476.2 73.6h.7M472.9 76.4h.7M484.2 76.4h.7M482.4 81.7h.7M459.7 84.6h.7M467.5 84.8h.7M457.2 82.3h.7M494.7 73.1h.7M466.9 85.9h.7M483.1 77.2h.7M460.9 84.2h.7M473.0 81.6h.7M477.3 83.6h.7M482.9 73.4h.7M476.4 78.1h.7M460.3 73.7h.7M475.6 78.0h.7M467.3 85.1h.7M467.0 76.2h.7M470.4 78.7h.7M465.4 79.4h.7M484.2 71.8h.7M463.7 78.3h.7M483.2 83.3h.7M463.3 77.4h.7M459.8 74.3h.7M466.0 77.7h.7M471.0 86.4h.7M459.7 80.3h.7M481.9 78.5h.7M474.9 80.3h.7M471.0 80.3h.7M476.5 81.1h.7M467.2 79.4h.7M454.9 87.1h.7M465.2 85.9h.7M471.5 81.3h.7M447.4 88.0h.7M455.3 90.4h.7M480.1 76.6h.7M460.6 86.3h.7M463.7 86.4h.7M471.6 78.8h.7M455.5 85.5h.7M469.0 81.3h.7M459.6 87.6h.7M460.1 84.2h.7M482.2 76.4h.7M463.4 83.7h.7M479.6 75.9h.7M475.0 88.6h.7M457.6 80.3h.7M482.1 79.7h.7M463.4 82.0h.7M467.6 81.5h.7M458.5 77.6h.7M472.0 74.2h.7M470.3 79.9h.7M466.9 78.5h.7M460.2 81.9h.7M471.4 75.9h.7M485.4 74.9h.7M462.9 78.2h.7M469.9 82.4h.7M459.7 88.8h.7M473.5 75.2h.7M467.1 81.7h.7M464.4 71.0h.7M454.2 82.7h.7M471.7 82.2h.7M476.2 80.0h.7M467.1 80.3h.7M472.1 81.2h.7M471.4 82.9h.7M470.3 75.9h.7M469.4 83.5h.7M470.7 81.2h.7M471.3 82.4h.7M475.4 76.6h.7M472.5 80.2h.7M477.3 79.2h.7M469.2 83.7h.7M474.2 86.1h.7M473.1 77.7h.7M469.5 81.7h.7M476.6 80.0h.7M474.5 77.1h.7M470.6 82.8h.7M466.4 83.0h.7M475.1 81.8h.7M474.3 79.4h.7M470.7 81.7h.7M481.6 73.8h.7M475.0 77.7h.7M479.6 69.4h.7M481.8 71.6h.7M481.8 74.4h.7M479.7 78.9h.7M481.1 72.6h.7M479.9 78.4h.7M483.1 73.1h.7M478.2 66.7h.7M478.4 73.4h.7M477.2 71.4h.7M478.4 68.7h.7M482.7 67.9h.7M475.7 80.3h.7M471.8 76.0h.7M480.8 69.8h.7M478.3 76.2h.7M484.9 72.0h.7M484.3 77.4h.7M482.6 69.8h.7M483.6 75.0h.7M480.5 73.0h.7M481.7 69.7h.7M481.9 78.5h.7M474.1 75.7h.7M480.2 79.1h.7M475.4 71.4h.7M484.0 74.8h.7M486.3 66.9h.7M476.6 72.0h.7M480.6 69.9h.7M481.0 75.2h.7M478.3 71.0h.7M477.7 77.2h.7M486.0 75.2h.7M480.1 76.2h.7M482.1 74.4h.7M481.8 53.1h.7M482.7 62.7h.7M478.1 59.5h.7M477.4 58.5h.7M476.0 50.2h.7M480.2 61.5h.7M478.2 50.8h.7M479.0 57.2h.7M480.7 49.3h.7M478.5 57.8h.7M478.6 57.8h.7M476.6 67.8h.7M478.7 65.0h.7M480.8 50.9h.7M481.5 60.9h.7M478.9 72.9h.7M479.3 70.5h.7M479.6 59.8h.7M479.7 65.2h.7M480.8 58.8h.7M479.3 54.7h.7M481.3 61.5h.7M483.6 43.8h.7M489.3 41.5h.7M485.0 40.1h.7M488.7 45.9h.7M475.3 43.4h.7M492.6 41.9h.7M481.3 46.0h.7M475.4 41.5h.7M472.2 41.1h.7M481.9 44.5h.7M483.9 46.7h.7M475.8 43.5h.7M481.6 44.3h.7M475.5 43.4h.7M480.6 42.7h.7M487.5 42.9h.7M483.9 37.3h.7M481.5 45.3h.7M476.0 42.0h.7M474.4 45.0h.7M476.2 44.4h.7M481.6 45.6h.7M471.7 47.1h.7M479.2 47.1h.7M476.4 45.9h.7M472.4 43.0h.7M483.7 44.1h.7M483.3 45.4h.7M487.1 45.0h.7M479.5 45.5h.7M476.4 44.0h.7M478.4 46.9h.7M477.5 44.1h.7M484.1 44.2h.7M476.9 45.7h.7M478.8 39.7h.7M478.1 43.9h.7M490.0 44.3h.7M476.0 45.5h.7M480.0 41.1h.7M484.8 43.0h.7M489.8 43.2h.7M488.4 44.5h.7M485.8 43.6h.7M472.3 50.2h.7M467.8 45.2h.7M478.2 43.4h.7M480.8 45.2h.7M482.8 44.2h.7M480.0 44.5h.7M486.9 46.0h.7M482.3 43.6h.7M482.1 43.7h.7M462.4 42.0h.7M467.0 41.8h.7M467.5 80.8h.7M466.1 70.1h.7M478.8 57.5h.7M460.6 77.1h.7M475.0 76.8h.7M466.4 76.9h.7M475.2 78.2h.7M477.1 82.7h.7M475.2 66.7h.7M487.5 76.4h.7M479.9 69.4h.7M474.1 65.2h.7M470.9 50.8h.7M464.2 69.3h.7M480.7 71.3h.7M470.0 72.2h.7M450.7 52.7h.7M481.8 71.6h.7M475.0 67.3h.7M466.6 73.6h.7M479.1 75.0h.7M485.9 66.8h.7M495.7 71.8h.7M475.5 70.3h.7M472.8 65.3h.7M473.6 64.2h.7M470.0 59.9h.7M477.5 77.2h.7M470.3 63.7h.7M470.3 76.7h.7M476.7 57.6h.7M469.2 64.6h.7M472.8 73.1h.7M483.5 81.9h.7M478.4 70.5h.7M455.2 69.7h.7M478.2 57.1h.7M475.6 62.9h.7M481.2 61.6h.7M474.5 69.8h.7M478.1 74.5h.7M478.1 69.3h.7M458.3 70.5h.7M472.3 62.9h.7M468.3 70.4h.7M478.8 70.1h.7M468.1 65.4h.7M466.8 69.9h.7M465.4 69.4h.7M475.7 72.1h.7M461.3 60.1h.7M471.2 79.8h.7M474.5 78.8h.7M475.2 79.6h.7M474.3 53.0h.7" stroke="#222" stroke-width="0.75" stroke-opacity="0.3" fill="none"/>
<path d="M482.1 79.5h.7M449.9 84.1h.7M466.4 85.0h.7M469.2 73.5h.7M474.8 75.1h.7M464.9 84.0h.7M482.0 83.9h.7M462.5 79.9h.7M447.1 76.7h.7M465.3 81.4h.7M477.7 78.0h.7M468.5 80.7h.7M477.6 76.2h.7M444.8 86.8h.7M473.6 77.7h.7M471.8 85.2h.7M457.2 88.2h.7M480.7 81.6h.7M458.8 78.6h.7M466.3 84.1h.7M467.6 84.5h.7M453.4 80.4h.7M474.6 82.0h.7M485.8 76.7h.7M468.6 85.6h.7M472.2 77.8h.7M452.7 84.2h.7M474.2 78.1h.7M464.9 81.2h.7M466.4 80.9h.7M472.1 79.6h.7M475.1 80.6h.7M466.5 72.7h.7M468.2 80.9h.7M467.1 80.1h.7M469.7 92.1h.7M458.5 88.5h.7M478.4 79.5h.7M461.2 86.6h.7M457.6 83.7h.7M478.0 81.0h.7M471.4 83.9h.7M475.3 77.5h.7M487.9 70.3h.7M467.5 78.7h.7M469.9 84.6h.7M475.0 81.4h.7M452.5 90.0h.7M472.5 86.5h.7M464.6 87.2h.7M462.5 84.1h.7M465.7 78.8h.7M482.6 72.7h.7M470.0 84.3h.7M457.4 83.8h.7M457.7 87.0h.7M460.0 85.9h.7M468.2 84.5h.7M461.3 82.9h.7M466.1 80.7h.7M481.6 76.0h.7M474.6 76.9h.7M473.8 79.1h.7M454.6 80.1h.7M473.0 77.0h.7M475.0 80.1h.7M466.4 82.6h.7M471.5 81.0h.7M454.6 91.5h.7M460.4 80.9h.7M474.8 79.4h.7M464.5 80.7h.7M471.5 87.8h.7M465.3 77.4h.7M481.3 79.6h.7M475.6 82.0h.7M463.4 89.8h.7M471.4 77.4h.7M466.5 77.6h.7M475.4 87.7h.7M472.3 89.8h.7M460.0 81.9h.7M457.5 89.1h.7M460.9 87.0h.7M458.0 80.4h.7M479.0 82.3h.7M457.6 78.6h.7M481.9 72.0h.7M465.1 79.4h.7M469.4 81.1h.7M481.7 78.5h.7M479.2 77.6h.7M457.5 82.1h.7M464.9 92.9h.7M487.1 80.6h.7M475.9 75.6h.7M480.7 79.4h.7M464.9 81.0h.7M478.3 76.5h.7M460.5 83.5h.7M449.5 83.1h.7M473.3 75.6h.7M464.3 83.0h.7M468.5 74.2h.7M469.4 80.4h.7M473.8 84.0h.7M476.3 78.5h.7M468.1 81.7h.7M471.9 86.1h.7M471.0 82.1h.7M478.1 88.1h.7M464.0 82.1h.7M463.7 86.3h.7M468.8 77.2h.7M484.2 74.4h.7M472.0 85.4h.7M462.9 79.4h.7M472.5 77.8h.7M470.4 79.8h.7M467.2 87.1h.7M476.2 79.0h.7M471.1 76.7h.7M468.8 78.8h.7M480.5 84.7h.7M471.7 80.4h.7M477.1 77.7h.7M477.3 75.8h.7M453.9 81.2h.7M457.4 90.0h.7M466.9 73.1h.7M474.3 87.7h.7M468.1 78.2h.7M475.6 74.0h.7M450.9 81.3h.7M472.2 81.9h.7M464.6 84.2h.7M481.1 67.5h.7M473.5 79.5h.7M477.0 76.3h.7M470.1 77.4h.7M456.8 94.3h.7M453.7 87.7h.7M477.4 83.7h.7M463.5 75.4h.7M460.9 80.7h.7M481.3 74.5h.7M463.1 84.1h.7M455.9 83.0h.7M466.1 84.9h.7M470.5 82.3h.7M473.3 78.6h.7M473.1 77.7h.7M470.9 79.6h.7M471.3 81.4h.7M471.1 79.3h.7M472.4 77.7h.7M475.7 79.7h.7M461.6 81.6h.7M466.0 76.0h.7M472.1 77.4h.7M468.6 84.4h.7M473.0 77.2h.7M470.1 81.3h.7M465.7 83.8h.7M468.8 79.9h.7M469.3 78.9h.7M472.8 84.2h.7M469.3 84.1h.7M472.2 81.9h.7M473.3 78.4h.7M472.4 84.2h.7M466.7 77.1h.7M472.2 77.3h.7M483.9 76.8h.7M481.4 72.1h.7M481.3 70.5h.7M479.9 77.6h.7M482.8 72.7h.7M474.5 70.6h.7M477.8 75.3h.7M484.8 71.6h.7M485.4 75.8h.7M480.7 70.1h.7M483.2 71.9h.7M478.9 73.9h.7M482.9 73.5h.7M481.5 73.3h.7M477.5 76.1h.7M481.7 64.3h.7M482.2 74.1h.7M483.2 77.1h.7M482.3 77.0h.7M482.6 65.2h.7M475.6 78.2h.7M483.3 74.0h.7M480.5 75.0h.7M480.0 74.7h.7M477.4 72.0h.7M472.0 77.3h.7M478.9 75.9h.7M474.6 79.0h.7M485.4 68.6h.7M479.7 70.8h.7M479.5 81.2h.7M483.4 73.3h.7M478.5 76.7h.7M478.8 72.0h.7M477.3 73.6h.7M487.0 69.1h.7M480.0 76.0h.7M481.6 75.4h.7M481.7 61.5h.7M479.5 59.3h.7M473.5 64.5h.7M477.1 60.5h.7M483.6 56.9h.7M476.8 58.3h.7M481.4 57.9h.7M475.3 60.1h.7M481.3 55.0h.7M480.6 60.3h.7M476.0 51.9h.7M478.4 65.6h.7M476.7 66.8h.7M477.3 67.6h.7M477.5 62.9h.7M481.1 60.1h.7M481.9 67.7h.7M480.8 57.8h.7M477.8 53.4h.7M482.5 51.5h.7M480.0 60.7h.7M479.6 58.4h.7M483.8 44.9h.7M485.0 43.8h.7M477.1 45.3h.7M485.7 44.9h.7M478.4 45.2h.7M483.4 40.6h.7M480.0 44.1h.7M476.4 41.8h.7M478.2 45.2h.7M482.7 42.5h.7M485.3 44.2h.7M483.8 45.2h.7M478.7 43.4h.7M482.8 39.4h.7M481.7 43.8h.7M475.3 40.0h.7M485.9 44.1h.7M477.3 44.8h.7M479.1 43.0h.7M489.4 43.0h.7M479.9 42.5h.7M489.2 46.4h.7M475.4 43.7h.7M480.2 40.2h.7M491.4 45.5h.7M477.4 44.2h.7M478.1 45.2h.7M477.1 46.6h.7M484.0 45.2h.7M471.6 43.2h.7M486.1 40.4h.7M475.9 45.9h.7M488.3 44.1h.7M479.6 44.5h.7M475.0 42.7h.7M490.2 39.7h.7M483.3 41.3h.7M479.4 44.2h.7M478.1 42.9h.7M478.7 43.1h.7M485.6 44.6h.7M481.3 41.5h.7M480.4 43.4h.7M481.4 44.8h.7M479.5 40.3h.7M484.7 42.9h.7M480.4 43.1h.7M485.5 42.1h.7M482.9 44.2h.7M486.2 44.2h.7M484.6 44.2h.7M481.4 43.1h.7M476.3 43.3h.7M470.1 41.4h.7M468.3 42.9h.7M476.4 64.1h.7M460.8 63.1h.7M476.6 75.5h.7M470.4 71.8h.7M467.4 66.1h.7M473.4 61.9h.7M477.2 66.9h.7M474.9 72.6h.7M470.9 78.8h.7M475.6 68.6h.7M464.4 75.0h.7M482.2 85.0h.7M480.1 61.4h.7M474.9 83.3h.7M481.6 67.7h.7M467.0 71.2h.7M465.0 47.0h.7M484.0 64.0h.7M474.4 71.0h.7M480.1 64.4h.7M478.1 77.3h.7M466.6 86.6h.7M479.8 55.2h.7M471.0 55.0h.7M474.4 65.0h.7M478.6 62.7h.7M476.4 65.2h.7M478.4 84.1h.7M480.8 62.7h.7M478.6 57.9h.7M473.8 72.6h.7M473.1 73.3h.7M462.9 63.3h.7M473.2 73.1h.7M472.0 67.3h.7M472.1 51.7h.7M468.2 55.0h.7M482.1 61.8h.7M455.9 66.0h.7M468.4 64.2h.7M478.9 70.8h.7M473.7 68.0h.7M465.0 63.2h.7M475.4 65.0h.7M476.1 71.5h.7M470.1 59.6h.7M481.0 53.5h.7M471.1 54.4h.7M480.3 64.8h.7M482.9 67.1h.7M475.6 55.0h.7M492.4 63.5h.7M473.3 69.1h.7M481.9 64.8h.7M474.9 71.7h.7" stroke="#222" stroke-width="0.75" stroke-opacity="0.3" fill="none"/>
<path d="M471.0 83.0h.7M478.5 76.9h.7M466.0 78.9h.7M465.6 79.1h.7M465.0 78.6h.7M465.6 81.4h.7M466.8 79.9h.7M467.3 84.4h.7M464.6 80.5h.7M470.0 84.2h.7M464.4 85.1h.7M479.2 74.2h.7M465.7 84.8h.7M480.3 77.1h.7M471.6 79.5h.7M468.9 72.3h.7M461.5 83.0h.7M456.0 85.2h.7M450.3 83.4h.7M466.3 81.5h.7M464.1 84.7h.7M471.4 79.3h.7M463.4 79.5h.7M469.1 76.8h.7M464.7 84.5h.7M456.6 82.5h.7M463.6 85.0h.7M460.6 84.1h.7M461.7 83.9h.7M470.6 76.6h.7M463.5 78.2h.7M450.9 87.6h.7M471.9 78.9h.7M478.5 84.7h.7M463.0 79.0h.7M470.7 83.9h.7M458.2 78.7h.7M468.7 82.6h.7M460.2 74.1h.7M480.0 77.8h.7M465.9 84.3h.7M471.6 89.9h.7M463.4 83.1h.7M473.0 82.0h.7M472.0 79.0h.7M489.0 75.5h.7M476.8 77.0h.7M472.7 80.8h.7M462.6 81.8h.7M473.0 77.2h.7M453.7 84.8h.7M465.1 80.2h.7M476.4 81.6h.7M477.4 85.7h.7M479.0 77.8h.7M473.8 77.3h.7M477.5 80.7h.7M478.7 76.6h.7M476.7 81.5h.7M476.8 85.0h.7M473.9 76.6h.7M481.6 74.9h.7M448.2 85.9h.7M477.8 77.6h.7M464.1 78.9h.7M458.2 84.2h.7M475.0 79.8h.7M464.6 76.3h.7M458.3 82.9h.7M466.0 83.9h.7M484.5 83.7h.7M478.1 77.8h.7M473.8 82.6h.7M467.3 77.3h.7M477.7 81.1h.7M457.7 76.9h.7M465.7 87.0h.7M468.7 79.0h.7M474.6 85.6h.7M473.8 84.3h.7M467.8 77.9h.7M480.9 76.3h.7M456.3 85.3h.7M467.4 81.9h.7M485.8 75.2h.7M464.0 84.7h.7M460.9 79.4h.7M477.5 73.6h.7M467.7 81.8h.7M462.8 80.5h.7M475.5 85.2h.7M457.0 84.1h.7M464.6 83.1h.7M466.5 77.6h.7M468.8 79.3h.7M465.1 80.1h.7M473.9 75.1h.7M478.6 79.0h.7M458.7 83.8h.7M470.8 86.7h.7M460.0 78.6h.7M459.7 88.8h.7M465.4 82.5h.7M476.8 77.0h.7M479.6 81.5h.7M475.0 79.0h.7M464.9 87.8h.7M470.4 80.2h.7M477.9 83.2h.7M475.0 81.2h.7M473.0 78.5h.7M461.8 84.2h.7M463.9 85.6h.7M474.5 77.0h.7M474.6 80.2h.7M464.8 81.7h.7M476.0 81.8h.7M463.7 88.3h.7M479.7 82.5h.7M469.1 79.8h.7M457.3 86.3h.7M476.9 80.5h.7M466.9 77.8h.7M467.5 83.3h.7M472.4 80.9h.7M462.9 78.9h.7M473.4 84.1h.7M466.4 83.0h.7M460.0 86.7h.7M467.5 84.3h.7M452.9 84.8h.7M471.0 77.4h.7M464.6 77.5h.7M470.6 72.6h.7M478.4 84.7h.7M461.8 86.4h.7M473.5 80.3h.7M463.3 92.5h.7M474.1 72.1h.7M459.9 84.8h.7M464.0 82.1h.7M474.9 81.4h.7M457.5 85.0h.7M466.5 81.8h.7M468.5 80.9h.7M482.1 74.5h.7M463.1 82.3h.7M454.4 79.8h.7M490.0 76.0h.7M472.1 78.7h.7M465.1 77.5h.7M469.5 80.9h.7M472.5 82.8h.7M473.6 79.8h.7M475.9 75.1h.7M467.4 86.3h.7M470.0 81.1h.7M475.1 77.9h.7M461.9 81.3h.7M473.4 78.8h.7M466.0 82.5h.7M475.2 80.3h.7M471.3 81.2h.7M472.3 80.2h.7M475.1 83.0h.7M467.4 75.8h.7M472.2 78.5h.7M474.6 79.5h.7M466.5 87.5h.7M471.5 81.4h.7M474.2 80.0h.7M469.3 83.0h.7M477.9 79.2h.7M487.9 69.4h.7M483.7 71.2h.7M479.8 76.2h.7M478.7 68.5h.7M476.4 72.8h.7M481.4 71.5h.7M485.9 73.1h.7M477.9 73.9h.7M483.5 73.3h.7M478.1 75.1h.7M476.2 80.9h.7M479.7 75.2h.7M482.0 72.1h.7M480.5 71.7h.7M479.8 72.8h.7M477.3 73.9h.7M479.2 76.3h.7M482.0 66.9h.7M483.5 71.4h.7M481.8 72.0h.7M483.2 68.0h.7M488.9 72.5h.7M479.8 72.7h.7M480.9 77.1h.7M477.8 73.7h.7M486.2 73.6h.7M473.3 69.2h.7M479.7 79.7h.7M478.7 68.6h.7M475.0 75.7h.7M483.4 72.1h.7M482.6 75.3h.7M480.0 71.1h.7M479.8 68.6h.7M480.7 75.6h.7M477.8 71.8h.7M479.3 74.3h.7M477.0 59.4h.7M480.6 65.8h.7M481.5 67.8h.7M479.7 49.4h.7M481.7 57.6h.7M482.7 50.2h.7M483.6 50.2h.7M481.7 56.9h.7M479.0 54.5h.7M479.8 61.1h.7M478.6 64.0h.7M482.4 50.9h.7M481.5 61.0h.7M480.7 57.9h.7M480.1 54.9h.7M484.0 55.8h.7M480.7 65.8h.7M476.4 65.0h.7M475.8 65.7h.7M481.0 57.0h.7M477.6 65.0h.7M480.4 51.4h.7M479.9 61.5h.7M477.2 41.6h.7M481.6 44.3h.7M475.3 41.9h.7M479.0 41.3h.7M481.7 44.4h.7M481.2 42.5h.7M486.4 39.8h.7M481.8 41.5h.7M478.6 43.8h.7M471.1 43.0h.7M484.2 41.9h.7M490.6 40.6h.7M479.0 42.7h.7M484.2 41.3h.7M482.4 46.2h.7M483.0 44.5h.7M467.3 42.0h.7M482.4 45.7h.7M474.7 44.6h.7M480.9 45.0h.7M484.3 45.5h.7M479.3 42.3h.7M474.5 41.6h.7M485.1 43.9h.7M478.0 42.4h.7M470.2 47.6h.7M487.6 43.7h.7M483.6 43.7h.7M482.4 41.9h.7M475.8 40.9h.7M481.5 42.6h.7M474.7 41.0h.7M485.7 42.8h.7M478.0 40.4h.7M475.0 45.7h.7M484.5 47.2h.7M475.8 41.5h.7M478.7 45.2h.7M476.9 41.7h.7M479.8 47.5h.7M486.0 43.3h.7M484.7 44.2h.7M479.8 39.6h.7M482.3 44.5h.7M483.5 45.0h.7M484.3 43.3h.7M475.9 43.8h.7M474.7 43.5h.7M484.7 43.7h.7M478.2 45.1h.7M481.7 40.0h.7M483.1 42.9h.7M469.3 40.5h.7M466.2 43.4h.7M467.6 41.8h.7M478.6 85.7h.7M477.1 52.8h.7M480.2 77.9h.7M476.0 91.6h.7M464.2 61.1h.7M472.2 64.8h.7M470.5 60.4h.7M476.5 73.9h.7M475.0 70.6h.7M488.7 70.2h.7M457.7 83.8h.7M482.7 61.6h.7M468.5 63.1h.7M469.2 83.5h.7M464.8 73.7h.7M477.3 68.7h.7M455.8 73.1h.7M467.3 84.2h.7M460.1 58.1h.7M486.0 75.9h.7M478.5 56.1h.7M468.8 70.3h.7M473.4 83.2h.7M472.3 62.3h.7M475.1 69.4h.7M474.2 48.5h.7M472.1 72.3h.7M480.9 65.0h.7M464.4 50.9h.7M455.3 63.2h.7M473.6 86.0h.7M476.1 59.6h.7M476.6 53.6h.7M479.2 72.4h.7M475.3 69.5h.7M457.2 62.6h.7M481.0 71.7h.7M468.2 82.3h.7M473.9 61.0h.7M484.5 68.6h.7M499.6 67.4h.7M468.5 67.9h.7M480.9 76.2h.7M490.0 60.3h.7M481.8 67.0h.7M485.6 65.3h.7M468.5 82.1h.7M464.1 65.1h.7M474.6 68.7h.7M476.7 81.4h.7M493.6 65.4h.7M475.2 77.5h.7M475.1 78.8h.7M473.2 76.1h.7M461.5 54.3h.7" stroke="#222" stroke-width="0.75" stroke-opacity="0.3" fill="none"/>
</g></g>
<rect x="443.6" y="28.1" width="64.1" height="68.45" fill="none" stroke="#000" stroke-width="1.45"/>
<line x1="472.40000000000003" y1="28.1" x2="472.40000000000003" y2="96.55000000000001" stroke="#000" stroke-width="1.35"/>
<line x1="443.6" y1="66.35" x2="507.70000000000005" y2="66.35" stroke="#000" stroke-width="1.3"/>
<text x="475.95000000000005" y="22.4" text-anchor="middle" style="font-size:9.3px;font-weight:bold;">STS</text>
<text x="445.40000000000003" y="37.1" text-anchor="start" style="font-size:9.5px;" stroke="#000" stroke-width="0.25">4%</text>
<text x="506.00000000000006" y="37.1" text-anchor="end" style="font-size:9.5px;" stroke="#000" stroke-width="0.25">22%</text>
<text x="506.00000000000006" y="93.7" text-anchor="end" style="font-size:9.5px;" stroke="#000" stroke-width="0.25">32%</text>
<text x="442.1" y="109.1" text-anchor="middle" stroke="#000" stroke-width="0.2" style="font-size:6.9px">10<tspan dy="-1.9" style="font-size:4.7px">0</tspan></text>
<text x="457.7" y="109.1" text-anchor="middle" stroke="#000" stroke-width="0.2" style="font-size:6.9px">10<tspan dy="-1.9" style="font-size:4.7px">1</tspan></text>
<text x="473.2" y="109.1" text-anchor="middle" stroke="#000" stroke-width="0.2" style="font-size:6.9px">10<tspan dy="-1.9" style="font-size:4.7px">2</tspan></text>
<text x="488.8" y="109.1" text-anchor="middle" stroke="#000" stroke-width="0.2" style="font-size:6.9px">10<tspan dy="-1.9" style="font-size:4.7px">3</tspan></text>
<text x="504.3" y="109.1" text-anchor="middle" stroke="#000" stroke-width="0.2" style="font-size:6.9px">10<tspan dy="-1.9" style="font-size:4.7px">4</tspan></text>
<text x="441.5" y="95.9" text-anchor="middle" transform="rotate(-90 441.5 95.9)" stroke="#000" stroke-width="0.2" style="font-size:6.9px">10<tspan dy="-1.8" style="font-size:4.7px">0</tspan></text>
<text x="441.5" y="79.2" text-anchor="middle" transform="rotate(-90 441.5 79.2)" stroke="#000" stroke-width="0.2" style="font-size:6.9px">10<tspan dy="-1.8" style="font-size:4.7px">1</tspan></text>
<text x="441.5" y="62.5" text-anchor="middle" transform="rotate(-90 441.5 62.5)" stroke="#000" stroke-width="0.2" style="font-size:6.9px">10<tspan dy="-1.8" style="font-size:4.7px">2</tspan></text>
<text x="441.5" y="45.8" text-anchor="middle" transform="rotate(-90 441.5 45.8)" stroke="#000" stroke-width="0.2" style="font-size:6.9px">10<tspan dy="-1.8" style="font-size:4.7px">3</tspan></text>
<text x="441.5" y="29.1" text-anchor="middle" transform="rotate(-90 441.5 29.1)" stroke="#000" stroke-width="0.2" style="font-size:6.9px">10<tspan dy="-1.8" style="font-size:4.7px">4</tspan></text>
<text x="-0.4" y="167.9" text-anchor="start" style="font-size:19.6px;font-weight:bold;">b</text>
<line x1="63.5" y1="166" x2="63.5" y2="311.5" stroke="#000" stroke-width="1.1"/>
<line x1="63.0" y1="311.0" x2="265.5" y2="311.0" stroke="#444" stroke-width="1.1"/>
<line x1="60.0" y1="299.5" x2="63.5" y2="299.5" stroke="#000" stroke-width="1.1"/>
<text x="57.5" y="304.6" text-anchor="end" style="font-size:10.9px;font-weight:bold;">0</text>
<line x1="60.0" y1="255.0" x2="63.5" y2="255.0" stroke="#000" stroke-width="1.1"/>
<text x="57.5" y="259.5" text-anchor="end" style="font-size:10.9px;font-weight:bold;">20</text>
<line x1="60.0" y1="210.5" x2="63.5" y2="210.5" stroke="#000" stroke-width="1.1"/>
<text x="57.5" y="215.2" text-anchor="end" style="font-size:10.9px;font-weight:bold;">40</text>
<line x1="60.0" y1="166.0" x2="63.5" y2="166.0" stroke="#000" stroke-width="1.1"/>
<text x="57.5" y="172.0" text-anchor="end" style="font-size:10.9px;font-weight:bold;">60</text>
<line x1="63.5" y1="311" x2="63.5" y2="314" stroke="#333" stroke-width="0.9"/>
<text x="63.5" y="327" text-anchor="middle" style="font-size:10.9px;font-weight:bold;">0</text>
<line x1="113.9" y1="311" x2="113.9" y2="314" stroke="#333" stroke-width="0.9"/>
<text x="113.9" y="327" text-anchor="middle" style="font-size:10.9px;font-weight:bold;">2</text>
<line x1="164.3" y1="311" x2="164.3" y2="314" stroke="#333" stroke-width="0.9"/>
<text x="164.3" y="327" text-anchor="middle" style="font-size:10.9px;font-weight:bold;">4</text>
<line x1="214.7" y1="311" x2="214.7" y2="314" stroke="#333" stroke-width="0.9"/>
<text x="214.7" y="327" text-anchor="middle" style="font-size:10.9px;font-weight:bold;">6</text>
<line x1="265.1" y1="311" x2="265.1" y2="314" stroke="#333" stroke-width="0.9"/>
<text x="265.1" y="327" text-anchor="middle" style="font-size:10.9px;font-weight:bold;">8</text>
<text x="168.5" y="345.5" text-anchor="middle" style="font-size:10.9px;font-weight:bold;">OGD (h)</text>
<text x="34.3" y="234.5" text-anchor="middle" style="font-size:10.9px;font-weight:bold;" transform="rotate(-90 34.3 234.5)">Cell death (%)</text>
<line x1="72.8" y1="171.15" x2="95.8" y2="171.15" stroke="#000" stroke-width="1.4"/>
<circle cx="83.9" cy="171.15" r="5.1" fill="#000"/>
<line x1="72.8" y1="183.1" x2="95.8" y2="183.1" stroke="#000" stroke-width="1.4"/>
<circle cx="83.9" cy="183.1" r="4.4" fill="#fff" stroke="#000" stroke-width="1.2"/>
<text x="101.0" y="174.7" text-anchor="start" style="font-size:10.9px;font-weight:bold;">Necrosis (PI+)</text>
<text x="101.0" y="186.6" text-anchor="start" style="font-size:10.9px;font-weight:bold;">Apoptosis (AV+/PI-)</text>
<path d="M63.50 283.00C71.90 279.80 100.04 268.13 113.90 263.80C127.76 259.47 138.26 257.90 146.66 257.00C155.06 256.10 156.95 257.65 164.30 258.40C171.65 259.15 182.36 262.33 190.76 261.50C199.16 260.67 208.82 256.07 214.70 253.40C220.58 250.73 222.05 249.07 226.04 245.50C230.03 241.93 232.13 240.53 238.64 232.00C245.15 223.47 260.69 200.58 265.10 194.30" fill="none" stroke="#000" stroke-width="0.95"/>
<path d="M63.50 299.20C71.90 298.83 97.10 297.48 113.90 297.00C130.70 296.52 147.50 296.58 164.30 296.30C181.10 296.02 197.90 295.63 214.70 295.30C231.50 294.97 256.70 294.47 265.10 294.30" fill="none" stroke="#000" stroke-width="0.85"/>
<circle cx="63.5" cy="283" r="2.3" fill="#000"/>
<line x1="113.9" y1="259.8" x2="113.9" y2="267.8" stroke="#000" stroke-width="0.9"/>
<line x1="111.2" y1="259.8" x2="116.60000000000001" y2="259.8" stroke="#000" stroke-width="0.9"/>
<line x1="111.2" y1="267.8" x2="116.60000000000001" y2="267.8" stroke="#000" stroke-width="0.9"/>
<circle cx="113.9" cy="263.8" r="2.3" fill="#000"/>
<line x1="164.3" y1="251.5" x2="164.3" y2="265.5" stroke="#000" stroke-width="0.9"/>
<line x1="161.60000000000002" y1="251.5" x2="167.0" y2="251.5" stroke="#000" stroke-width="0.9"/>
<line x1="161.60000000000002" y1="265.5" x2="167.0" y2="265.5" stroke="#000" stroke-width="0.9"/>
<circle cx="164.3" cy="258.5" r="2.3" fill="#000"/>
<line x1="214.7" y1="248.2" x2="214.7" y2="258.2" stroke="#000" stroke-width="0.9"/>
<line x1="212.0" y1="248.2" x2="217.39999999999998" y2="248.2" stroke="#000" stroke-width="0.9"/>
<line x1="212.0" y1="258.2" x2="217.39999999999998" y2="258.2" stroke="#000" stroke-width="0.9"/>
<circle cx="214.7" cy="253.2" r="2.3" fill="#000"/>
<line x1="265.1" y1="189.3" x2="265.1" y2="199.3" stroke="#000" stroke-width="0.9"/>
<line x1="262.40000000000003" y1="189.3" x2="267.8" y2="189.3" stroke="#000" stroke-width="0.9"/>
<line x1="262.40000000000003" y1="199.3" x2="267.8" y2="199.3" stroke="#000" stroke-width="0.9"/>
<circle cx="265.1" cy="194.3" r="2.3" fill="#000"/>
<circle cx="63.5" cy="299.2" r="1.8" fill="#fff" stroke="#000" stroke-width="0.85"/>
<circle cx="113.9" cy="297" r="1.8" fill="#fff" stroke="#000" stroke-width="0.85"/>
<circle cx="164.3" cy="296.3" r="1.8" fill="#fff" stroke="#000" stroke-width="0.85"/>
<circle cx="214.7" cy="295.3" r="1.8" fill="#fff" stroke="#000" stroke-width="0.85"/>
<circle cx="265.1" cy="294.3" r="1.8" fill="#fff" stroke="#000" stroke-width="0.85"/>
<text x="215" y="247.5" text-anchor="middle" style="font-size:11px;font-weight:bold;">*</text>
<text x="265.3" y="188.5" text-anchor="middle" style="font-size:11px;font-weight:bold;">**</text>
<text x="0.2" y="382.4" text-anchor="start" style="font-size:19.6px;font-weight:bold;">c</text>
<line x1="62.3" y1="379" x2="62.3" y2="524.5" stroke="#000" stroke-width="1.0"/>
<line x1="61.8" y1="524.5" x2="264.5" y2="524.5" stroke="#111" stroke-width="1.0"/>
<line x1="58.8" y1="524.0" x2="62.3" y2="524.0" stroke="#000" stroke-width="1.1"/>
<text x="55.5" y="529.2" text-anchor="end" style="font-size:10.9px;font-weight:bold;">0</text>
<line x1="58.8" y1="475.6666666666667" x2="62.3" y2="475.6666666666667" stroke="#000" stroke-width="1.1"/>
<text x="55.5" y="479.6666666666667" text-anchor="end" style="font-size:10.9px;font-weight:bold;">5</text>
<line x1="58.8" y1="427.33333333333337" x2="62.3" y2="427.33333333333337" stroke="#000" stroke-width="1.1"/>
<text x="55.5" y="431.33333333333337" text-anchor="end" style="font-size:10.9px;font-weight:bold;">10</text>
<line x1="58.8" y1="379.0" x2="62.3" y2="379.0" stroke="#000" stroke-width="1.1"/>
<text x="55.5" y="383.0" text-anchor="end" style="font-size:10.9px;font-weight:bold;">15</text>
<line x1="62.3" y1="524.5" x2="62.3" y2="527.8" stroke="#000" stroke-width="1.0"/>
<text x="62.3" y="541.8" text-anchor="middle" style="font-size:10.9px;font-weight:bold;">0</text>
<line x1="95.85" y1="524.5" x2="95.85" y2="527.8" stroke="#000" stroke-width="1.0"/>
<text x="95.85" y="541.8" text-anchor="middle" style="font-size:10.9px;font-weight:bold;">1</text>
<line x1="129.39999999999998" y1="524.5" x2="129.39999999999998" y2="527.8" stroke="#000" stroke-width="1.0"/>
<text x="129.39999999999998" y="541.8" text-anchor="middle" style="font-size:10.9px;font-weight:bold;">2</text>
<line x1="196.5" y1="524.5" x2="196.5" y2="527.8" stroke="#000" stroke-width="1.0"/>
<text x="196.5" y="541.8" text-anchor="middle" style="font-size:10.9px;font-weight:bold;">4</text>
<line x1="263.59999999999997" y1="524.5" x2="263.59999999999997" y2="527.8" stroke="#000" stroke-width="1.0"/>
<text x="263.59999999999997" y="541.8" text-anchor="middle" style="font-size:10.9px;font-weight:bold;">6</text>
<text x="163.5" y="555.3" text-anchor="middle" style="font-size:10.9px;font-weight:bold;">Time (h)</text>
<text x="20.7" y="451.3" text-anchor="middle" style="font-size:10.9px;font-weight:bold;" transform="rotate(-90 20.7 451.3)">Relative</text>
<text x="33.9" y="450.3" text-anchor="middle" style="font-size:10.9px;font-weight:bold;" transform="rotate(-90 33.9 450.3)">Caspase-3 activity</text>
<line x1="72.8" y1="388.55" x2="95.8" y2="388.55" stroke="#000" stroke-width="1.4"/>
<circle cx="83.9" cy="388.55" r="5.1" fill="#000"/>
<line x1="72.8" y1="403.4" x2="95.8" y2="403.4" stroke="#000" stroke-width="1.4"/>
<circle cx="83.9" cy="403.4" r="4.4" fill="#fff" stroke="#000" stroke-width="1.2"/>
<text x="101.0" y="392.2" text-anchor="start" style="font-size:10.9px;font-weight:bold;">OGD</text>
<text x="101.0" y="407.0" text-anchor="start" style="font-size:10.9px;font-weight:bold;">STS</text>
<path d="M62.30 514.20C67.89 514.50 88.02 515.55 95.85 516.00C103.68 516.45 103.68 517.12 109.27 516.90C114.86 516.68 114.86 514.77 129.40 514.70C143.94 514.63 174.13 516.42 196.50 516.50C218.87 516.58 252.42 515.42 263.60 515.20" fill="none" stroke="#000" stroke-width="0.9"/>
<path d="M62.30 514.20C65.10 514.00 73.48 513.08 79.07 513.00C84.67 512.92 90.71 513.02 95.85 513.70C100.99 514.38 105.75 517.05 109.94 517.10C114.13 517.15 117.77 515.58 121.01 514.00C124.26 512.42 126.04 510.43 129.40 507.60C132.75 504.77 129.96 508.60 141.14 497.00C152.33 485.40 181.68 451.77 196.50 438.00C211.32 424.23 218.87 420.73 230.05 414.40C241.23 408.07 258.01 402.40 263.60 400.00" fill="none" stroke="#000" stroke-width="0.9"/>
<circle cx="62.3" cy="514.2" r="2.1" fill="#000"/>
<circle cx="95.85" cy="516.0" r="2.1" fill="#000"/>
<circle cx="129.39999999999998" cy="514.7" r="2.1" fill="#000"/>
<circle cx="196.5" cy="516.5" r="2.1" fill="#000"/>
<circle cx="263.59999999999997" cy="515.2" r="2.1" fill="#000"/>
<circle cx="62.3" cy="514.2" r="1.8" fill="#fff" stroke="#000" stroke-width="0.85"/>
<circle cx="95.85" cy="513.7" r="1.8" fill="#fff" stroke="#000" stroke-width="0.85"/>
<line x1="129.39999999999998" y1="506.0" x2="129.39999999999998" y2="509.20000000000005" stroke="#000" stroke-width="0.8"/>
<line x1="127.49999999999997" y1="506.0" x2="131.29999999999998" y2="506.0" stroke="#000" stroke-width="0.8"/>
<line x1="127.49999999999997" y1="509.20000000000005" x2="131.29999999999998" y2="509.20000000000005" stroke="#000" stroke-width="0.8"/>
<circle cx="129.39999999999998" cy="507.6" r="1.8" fill="#fff" stroke="#000" stroke-width="0.85"/>
<line x1="196.5" y1="435.7" x2="196.5" y2="440.3" stroke="#000" stroke-width="0.8"/>
<line x1="194.6" y1="435.7" x2="198.4" y2="435.7" stroke="#000" stroke-width="0.8"/>
<line x1="194.6" y1="440.3" x2="198.4" y2="440.3" stroke="#000" stroke-width="0.8"/>
<circle cx="196.5" cy="438" r="1.8" fill="#fff" stroke="#000" stroke-width="0.85"/>
<line x1="263.59999999999997" y1="398.3" x2="263.59999999999997" y2="401.7" stroke="#000" stroke-width="0.8"/>
<line x1="261.7" y1="398.3" x2="265.49999999999994" y2="398.3" stroke="#000" stroke-width="0.8"/>
<line x1="261.7" y1="401.7" x2="265.49999999999994" y2="401.7" stroke="#000" stroke-width="0.8"/>
<circle cx="263.59999999999997" cy="400" r="1.8" fill="#fff" stroke="#000" stroke-width="0.85"/>
<text x="196.5" y="434" text-anchor="middle" style="font-size:11px;font-weight:bold;">**</text>
<text x="264" y="397.1" text-anchor="middle" style="font-size:11px;font-weight:bold;">**</text>
<text x="316.6" y="382.4" text-anchor="start" style="font-size:19.6px;font-weight:bold;">d</text>
<text x="410.5" y="402.6" text-anchor="middle" style="font-size:10.9px;font-weight:bold;">OGD</text>
<text x="519.3" y="402.6" text-anchor="middle" style="font-size:10.9px;font-weight:bold;">STS</text>
<line x1="363.5" y1="410.1" x2="456" y2="410.1" stroke="#000" stroke-width="1.4"/>
<line x1="473.5" y1="410.1" x2="566.5" y2="410.1" stroke="#000" stroke-width="1.4"/>
<text x="310.3" y="428" text-anchor="start" style="font-size:10.9px;font-weight:bold;">Time (h)</text>
<text x="369" y="428" text-anchor="middle" style="font-size:10.9px;font-weight:bold;">0</text>
<text x="390.6" y="428" text-anchor="middle" style="font-size:10.9px;font-weight:bold;">1</text>
<text x="412" y="428" text-anchor="middle" style="font-size:10.9px;font-weight:bold;">2</text>
<text x="432" y="428" text-anchor="middle" style="font-size:10.9px;font-weight:bold;">4</text>
<text x="453.5" y="428" text-anchor="middle" style="font-size:10.9px;font-weight:bold;">6</text>
<text x="478" y="428" text-anchor="middle" style="font-size:10.9px;font-weight:bold;">0</text>
<text x="500.1" y="428" text-anchor="middle" style="font-size:10.9px;font-weight:bold;">1</text>
<text x="520.7" y="428" text-anchor="middle" style="font-size:10.9px;font-weight:bold;">2</text>
<text x="541" y="428" text-anchor="middle" style="font-size:10.9px;font-weight:bold;">4</text>
<text x="562.7" y="428" text-anchor="middle" style="font-size:10.9px;font-weight:bold;">6</text>
<rect x="354.7" y="435.6" width="222.7" height="18.6" fill="url(#blot)" stroke="#000" stroke-width="1.5"/>
<rect x="354.7" y="456.85" width="222.7" height="18.65" fill="url(#blot2)" stroke="#000" stroke-width="1.5"/>
<text x="583" y="449.3" text-anchor="start" style="font-size:10.9px;font-weight:bold;">Cleaved caspase-3</text>
<text x="583.3" y="470.1" text-anchor="start" style="font-size:10.9px;font-weight:bold;">β-actin</text>
<text x="349.7" y="453.8" text-anchor="end" style="font-size:7.9px;font-weight:bold;">17</text>
<text x="349.7" y="472.9" text-anchor="end" style="font-size:7.9px;font-weight:bold;">43</text>
<line x1="350.4" y1="450.4" x2="354.5" y2="450.4" stroke="#000" stroke-width="1.3"/>
<line x1="350.4" y1="470" x2="354.5" y2="470" stroke="#000" stroke-width="1.3"/>
<g filter="url(#b1)">
<rect x="363.7" y="465.05" width="16.2" height="1.70" rx="1.00" fill="#1a1a1a" opacity="0.8"/>
<ellipse cx="371.8" cy="466.2" rx="11.1" ry="2.30" fill="#555" opacity="0.1"/>
<rect x="384.8" y="465.15" width="15.2" height="1.70" rx="1.00" fill="#1a1a1a" opacity="0.8"/>
<ellipse cx="392.4" cy="466.3" rx="10.6" ry="2.30" fill="#555" opacity="0.1"/>
<rect x="405.2" y="465.20" width="15.8" height="1.60" rx="0.95" fill="#1a1a1a" opacity="0.75"/>
<ellipse cx="413.1" cy="466.3" rx="10.9" ry="2.25" fill="#555" opacity="0.1"/>
<rect x="425.9" y="465.30" width="15.6" height="1.40" rx="0.85" fill="#1a1a1a" opacity="0.68"/>
<ellipse cx="433.7" cy="466.3" rx="10.8" ry="2.15" fill="#555" opacity="0.1"/>
<rect x="447.9" y="465.50" width="15.6" height="1.20" rx="0.75" fill="#1a1a1a" opacity="0.6"/>
<ellipse cx="455.7" cy="466.40000000000003" rx="10.8" ry="2.05" fill="#555" opacity="0.1"/>
<rect x="470.9" y="465.70" width="15.2" height="1.00" rx="0.65" fill="#1a1a1a" opacity="0.6"/>
<ellipse cx="478.5" cy="466.5" rx="10.6" ry="1.95" fill="#555" opacity="0.1"/>
<rect x="491.8" y="465.80" width="15.4" height="1.00" rx="0.65" fill="#1a1a1a" opacity="0.6"/>
<ellipse cx="499.5" cy="466.6" rx="10.7" ry="1.95" fill="#555" opacity="0.1"/>
<rect x="512.8" y="465.70" width="14.8" height="1.00" rx="0.65" fill="#1a1a1a" opacity="0.62"/>
<ellipse cx="520.2" cy="466.5" rx="10.4" ry="1.95" fill="#555" opacity="0.1"/>
<rect x="532.9" y="465.55" width="15.7" height="1.10" rx="0.70" fill="#1a1a1a" opacity="0.65"/>
<ellipse cx="540.8" cy="466.40000000000003" rx="10.9" ry="2.00" fill="#555" opacity="0.1"/>
<rect x="554.5" y="465.35" width="15.2" height="1.10" rx="0.70" fill="#1a1a1a" opacity="0.62"/>
<ellipse cx="562.1" cy="466.2" rx="10.6" ry="2.00" fill="#555" opacity="0.1"/>
</g>
<g filter="url(#b2)">
<ellipse cx="541" cy="444" rx="9.5" ry="1.1" fill="#222" opacity="0.62"/>
<ellipse cx="544" cy="443.9" rx="5" ry="1.0" fill="#222" opacity="0.3"/>
<ellipse cx="563.8" cy="443.4" rx="11.3" ry="1.25" fill="#000" opacity="0.95"/>
<ellipse cx="565.5" cy="443.3" rx="8" ry="1.7" fill="#000" opacity="0.95"/>
<ellipse cx="519" cy="445.2" rx="6" ry="1" fill="#555" opacity="0.13"/>
</g>
<text x="0.0" y="594.7" text-anchor="start" style="font-size:19.8px;font-weight:bold;">e</text>
<line x1="61.6" y1="615.5" x2="61.6" y2="760.8" stroke="#111" stroke-width="1.1"/>
<line x1="58.1" y1="760.0" x2="61.6" y2="760.0" stroke="#000" stroke-width="1.1"/>
<text x="55.300000000000004" y="763.9" text-anchor="end" style="font-size:10.9px;font-weight:bold;">0</text>
<line x1="58.1" y1="723.875" x2="61.6" y2="723.875" stroke="#000" stroke-width="1.1"/>
<text x="55.300000000000004" y="727.775" text-anchor="end" style="font-size:10.9px;font-weight:bold;">20</text>
<line x1="58.1" y1="687.75" x2="61.6" y2="687.75" stroke="#000" stroke-width="1.1"/>
<text x="55.300000000000004" y="691.65" text-anchor="end" style="font-size:10.9px;font-weight:bold;">40</text>
<line x1="58.1" y1="651.625" x2="61.6" y2="651.625" stroke="#000" stroke-width="1.1"/>
<text x="55.300000000000004" y="655.525" text-anchor="end" style="font-size:10.9px;font-weight:bold;">60</text>
<line x1="58.1" y1="615.5" x2="61.6" y2="615.5" stroke="#000" stroke-width="1.1"/>
<text x="55.300000000000004" y="619.4" text-anchor="end" style="font-size:10.9px;font-weight:bold;">80</text>
<text x="33.6" y="681.5" text-anchor="middle" style="font-size:10.9px;font-weight:bold;" transform="rotate(-90 33.6 681.5)">Cell death (%)</text>
<rect x="68.3" y="585.0999999999999" width="13.0" height="7.1" fill="#000"/>
<text x="86.3" y="593.1" text-anchor="start" style="font-size:11.1px;font-weight:bold;">Veh</text>
<rect x="139.9" y="585.6999999999999" width="11.9" height="5.9" fill="#c0c0c0" stroke="#222" stroke-width="1.1"/>
<text x="157.5" y="593.1" text-anchor="start" style="font-size:11.1px;font-weight:bold;">zVAD</text>
<line x1="103.5" y1="754.3" x2="103.5" y2="753.0999999999999" stroke="#000" stroke-width="0.9"/>
<line x1="100.9" y1="753.0999999999999" x2="106.1" y2="753.0999999999999" stroke="#000" stroke-width="0.9"/>
<rect x="95" y="754.3" width="17" height="5.7000000000000455" fill="#000"/>
<line x1="130.75" y1="754.0" x2="130.75" y2="753.2" stroke="#000" stroke-width="0.9"/>
<line x1="128.15" y1="753.2" x2="133.35" y2="753.2" stroke="#000" stroke-width="0.9"/>
<rect x="122.45" y="754.45" width="16.6" height="5.55" fill="#c0c0c0" stroke="#333" stroke-width="0.9"/>
<line x1="195.3" y1="641.4" x2="195.3" y2="636.6" stroke="#000" stroke-width="0.9"/>
<line x1="192.70000000000002" y1="636.6" x2="197.9" y2="636.6" stroke="#000" stroke-width="0.9"/>
<rect x="186.8" y="641.4" width="17.0" height="118.60000000000002" fill="#000"/>
<line x1="222.5" y1="639" x2="222.5" y2="635.5" stroke="#000" stroke-width="0.9"/>
<line x1="219.9" y1="635.5" x2="225.1" y2="635.5" stroke="#000" stroke-width="0.9"/>
<rect x="214.45" y="639.45" width="16.1" height="120.55" fill="#c0c0c0" stroke="#333" stroke-width="0.9"/>
<line x1="61.1" y1="760.3" x2="265" y2="760.3" stroke="#222" stroke-width="1.1"/>
<line x1="117.5" y1="760" x2="117.5" y2="763" stroke="#000" stroke-width="0.9"/>
<line x1="209" y1="760" x2="209" y2="763" stroke="#000" stroke-width="0.9"/>
<text x="116" y="777.4" text-anchor="middle" style="font-size:10.9px;font-weight:bold;">OGD (-)</text>
<text x="208.5" y="777.4" text-anchor="middle" style="font-size:10.9px;font-weight:bold;">OGD (+)</text>
<path d="M103.5 746.5V613.8H195.2V631" fill="none" stroke="#000" stroke-width="1"/>
<text x="149" y="613.6" text-anchor="middle" style="font-size:9px;font-weight:bold;">*</text>
<text x="316.1" y="594.5" text-anchor="start" style="font-size:19.6px;font-weight:bold;">f</text>
<line x1="355.8" y1="615.5" x2="355.8" y2="760.8" stroke="#333" stroke-width="1.1"/>
<line x1="352.3" y1="760.0" x2="355.8" y2="760.0" stroke="#000" stroke-width="1.1"/>
<text x="349.5" y="763.9" text-anchor="end" style="font-size:10.9px;font-weight:bold;">0</text>
<line x1="352.3" y1="723.875" x2="355.8" y2="723.875" stroke="#000" stroke-width="1.1"/>
<text x="349.5" y="727.775" text-anchor="end" style="font-size:10.9px;font-weight:bold;">20</text>
<line x1="352.3" y1="687.75" x2="355.8" y2="687.75" stroke="#000" stroke-width="1.1"/>
<text x="349.5" y="691.65" text-anchor="end" style="font-size:10.9px;font-weight:bold;">40</text>
<line x1="352.3" y1="651.625" x2="355.8" y2="651.625" stroke="#000" stroke-width="1.1"/>
<text x="349.5" y="655.525" text-anchor="end" style="font-size:10.9px;font-weight:bold;">60</text>
<line x1="352.3" y1="615.5" x2="355.8" y2="615.5" stroke="#000" stroke-width="1.1"/>
<text x="349.5" y="619.4" text-anchor="end" style="font-size:10.9px;font-weight:bold;">80</text>
<text x="324.8" y="682.3" text-anchor="middle" style="font-size:10.9px;font-weight:bold;" transform="rotate(-90 324.8 682.3)">Cell death (%)</text>
<rect x="360.8" y="585.3" width="13.0" height="7.1" fill="#000"/>
<text x="379" y="593.2" text-anchor="start" style="font-size:10.6px;font-weight:bold;">OGD (-)</text>
<rect x="432.9" y="585.9" width="11.9" height="5.9" fill="#c0c0c0" stroke="#222" stroke-width="1.1"/>
<text x="450" y="593.2" text-anchor="start" style="font-size:10.6px;font-weight:bold;">OGD (+)</text>
<line x1="380.15" y1="753.6" x2="380.15" y2="751.4" stroke="#000" stroke-width="0.9"/>
<line x1="377.54999999999995" y1="751.4" x2="382.75" y2="751.4" stroke="#000" stroke-width="0.9"/>
<rect x="374.3" y="753.6" width="11.699999999999989" height="6.399999999999977" fill="#000"/>
<line x1="396.3" y1="641.5" x2="396.3" y2="638.7" stroke="#000" stroke-width="0.9"/>
<line x1="393.7" y1="638.7" x2="398.90000000000003" y2="638.7" stroke="#000" stroke-width="0.9"/>
<rect x="390.95" y="641.95" width="10.700000000000022" height="118.05" fill="#c0c0c0" stroke="#333" stroke-width="0.9"/>
<line x1="388.2" y1="760" x2="388.2" y2="763" stroke="#000" stroke-width="0.9"/>
<line x1="426.04999999999995" y1="752.2" x2="426.04999999999995" y2="751.7" stroke="#000" stroke-width="0.9"/>
<line x1="423.44999999999993" y1="751.7" x2="428.65" y2="751.7" stroke="#000" stroke-width="0.9"/>
<rect x="420.2" y="752.2" width="11.699999999999989" height="7.7999999999999545" fill="#000"/>
<line x1="442.2" y1="638.5" x2="442.2" y2="634.3" stroke="#000" stroke-width="0.9"/>
<line x1="439.59999999999997" y1="634.3" x2="444.8" y2="634.3" stroke="#000" stroke-width="0.9"/>
<rect x="436.84999999999997" y="638.95" width="10.700000000000022" height="121.05" fill="#c0c0c0" stroke="#333" stroke-width="0.9"/>
<line x1="434.09999999999997" y1="760" x2="434.09999999999997" y2="763" stroke="#000" stroke-width="0.9"/>
<line x1="471.85" y1="754" x2="471.85" y2="753.4" stroke="#000" stroke-width="0.9"/>
<line x1="469.25" y1="753.4" x2="474.45000000000005" y2="753.4" stroke="#000" stroke-width="0.9"/>
<rect x="466" y="754" width="11.699999999999989" height="6" fill="#000"/>
<line x1="488.0" y1="653.2" x2="488.0" y2="647.7" stroke="#000" stroke-width="0.9"/>
<line x1="485.4" y1="647.7" x2="490.6" y2="647.7" stroke="#000" stroke-width="0.9"/>
<rect x="482.65" y="653.6500000000001" width="10.700000000000022" height="106.34999999999995" fill="#c0c0c0" stroke="#333" stroke-width="0.9"/>
<line x1="479.9" y1="760" x2="479.9" y2="763" stroke="#000" stroke-width="0.9"/>
<line x1="517.85" y1="749.5" x2="517.85" y2="746.5" stroke="#000" stroke-width="0.9"/>
<line x1="515.25" y1="746.5" x2="520.45" y2="746.5" stroke="#000" stroke-width="0.9"/>
<rect x="512" y="749.5" width="11.700000000000045" height="10.5" fill="#000"/>
<line x1="534.0" y1="698.2" x2="534.0" y2="693.7" stroke="#000" stroke-width="0.9"/>
<line x1="531.4" y1="693.7" x2="536.6" y2="693.7" stroke="#000" stroke-width="0.9"/>
<rect x="528.6500000000001" y="698.6500000000001" width="10.699999999999909" height="61.34999999999995" fill="#c0c0c0" stroke="#333" stroke-width="0.9"/>
<line x1="525.9" y1="760" x2="525.9" y2="763" stroke="#000" stroke-width="0.9"/>
<line x1="355.3" y1="760.3" x2="557.5" y2="760.3" stroke="#222" stroke-width="1.1"/>
<text x="388" y="777.5" text-anchor="middle" style="font-size:10.9px;font-weight:bold;">Veh</text>
<text x="434" y="777.5" text-anchor="middle" style="font-size:10.9px;font-weight:bold;">Nec-1</text>
<text x="480" y="777.5" text-anchor="middle" style="font-size:10.9px;font-weight:bold;">DPQ</text>
<text x="526.3" y="777.5" text-anchor="middle" style="font-size:10.9px;font-weight:bold;">SP600125</text>
<path d="M380.4 742.5V606.1H395.7V632.6" fill="none" stroke="#000" stroke-width="1"/>
<path d="M395.7 619.5H533.5V685.5" fill="none" stroke="#000" stroke-width="1"/>
<text x="388.2" y="605.2" text-anchor="middle" style="font-size:9px;font-weight:bold;">***</text>
<text x="465" y="618.4" text-anchor="middle" style="font-size:9px;font-weight:bold;">***</text>
<text x="-0.8" y="811.7" text-anchor="start" style="font-size:19.6px;font-weight:bold;">g</text>
<line x1="61.6" y1="827.5" x2="61.6" y2="973.3" stroke="#111" stroke-width="1.1"/>
<line x1="58.1" y1="972.5" x2="61.6" y2="972.5" stroke="#000" stroke-width="1.1"/>
<text x="55.300000000000004" y="976.4" text-anchor="end" style="font-size:10.9px;font-weight:bold;">0</text>
<line x1="58.1" y1="936.25" x2="61.6" y2="936.25" stroke="#000" stroke-width="1.1"/>
<text x="55.300000000000004" y="940.15" text-anchor="end" style="font-size:10.9px;font-weight:bold;">20</text>
<line x1="58.1" y1="900.0" x2="61.6" y2="900.0" stroke="#000" stroke-width="1.1"/>
<text x="55.300000000000004" y="903.9" text-anchor="end" style="font-size:10.9px;font-weight:bold;">40</text>
<line x1="58.1" y1="863.75" x2="61.6" y2="863.75" stroke="#000" stroke-width="1.1"/>
<text x="55.300000000000004" y="867.65" text-anchor="end" style="font-size:10.9px;font-weight:bold;">60</text>
<line x1="58.1" y1="827.5" x2="61.6" y2="827.5" stroke="#000" stroke-width="1.1"/>
<text x="55.300000000000004" y="831.4" text-anchor="end" style="font-size:10.9px;font-weight:bold;">80</text>
<text x="32.5" y="894.5" text-anchor="middle" style="font-size:10.9px;font-weight:bold;" transform="rotate(-90 32.5 894.5)">Cell death (%)</text>
<rect x="68.3" y="800.4" width="13.0" height="7.1" fill="#000"/>
<text x="86.3" y="808.0" text-anchor="start" style="font-size:10.85px;font-weight:bold;">OGD (-)</text>
<rect x="139.9" y="801.0" width="11.9" height="5.9" fill="#c0c0c0" stroke="#222" stroke-width="1.1"/>
<text x="157.5" y="808.0" text-anchor="start" style="font-size:10.85px;font-weight:bold;">OGD (+)</text>
<line x1="103.5" y1="965.5" x2="103.5" y2="962.7" stroke="#000" stroke-width="0.9"/>
<line x1="100.9" y1="962.7" x2="106.1" y2="962.7" stroke="#000" stroke-width="0.9"/>
<rect x="95" y="965.5" width="17" height="7.0" fill="#000"/>
<line x1="130.75" y1="857.8" x2="130.75" y2="855.8" stroke="#000" stroke-width="0.9"/>
<line x1="128.15" y1="855.8" x2="133.35" y2="855.8" stroke="#000" stroke-width="0.9"/>
<rect x="122.45" y="858.25" width="16.6" height="114.25000000000004" fill="#c0c0c0" stroke="#333" stroke-width="0.9"/>
<line x1="195.3" y1="966" x2="195.3" y2="964.5" stroke="#000" stroke-width="0.9"/>
<line x1="192.70000000000002" y1="964.5" x2="197.9" y2="964.5" stroke="#000" stroke-width="0.9"/>
<rect x="186.8" y="966" width="17.0" height="6.5" fill="#000"/>
<line x1="222.5" y1="943.8" x2="222.5" y2="938.8" stroke="#000" stroke-width="0.9"/>
<line x1="219.9" y1="938.8" x2="225.1" y2="938.8" stroke="#000" stroke-width="0.9"/>
<rect x="214.45" y="944.25" width="16.1" height="28.250000000000046" fill="#c0c0c0" stroke="#333" stroke-width="0.9"/>
<line x1="61.1" y1="972.8" x2="265" y2="972.8" stroke="#222" stroke-width="1.1"/>
<line x1="117.5" y1="972.5" x2="117.5" y2="975.5" stroke="#000" stroke-width="0.9"/>
<line x1="209" y1="972.5" x2="209" y2="975.5" stroke="#000" stroke-width="0.9"/>
<text x="100" y="988.8" style="font-size:10.9px;font-weight:bold;font-style:italic">Jnk1<tspan dy="-4" style="font-size:7.5px">+/+</tspan></text>
<text x="193" y="988.8" style="font-size:10.9px;font-weight:bold;font-style:italic">Jnk1<tspan dy="-4" style="font-size:7.5px">-/-</tspan></text>
<path d="M103.5 955V844.5H131.8V852.5" fill="none" stroke="#222" stroke-width="1"/>
<path d="M131.8 844.5V830.8H223.5V932" fill="none" stroke="#333" stroke-width="1"/>
<text x="118" y="844.2" text-anchor="middle" style="font-size:9px;font-weight:bold;">***</text>
<text x="177" y="830.6" text-anchor="middle" style="font-size:9px;font-weight:bold;">***</text>
<rect x="292.3" y="929.8" width="45.7" height="18.2" fill="url(#blot)" stroke="#000" stroke-width="1.6"/>
<rect x="292.3" y="953.2" width="45.7" height="18.3" fill="url(#blot2)" stroke="#000" stroke-width="1.6"/>
<text x="343.5" y="942.8" text-anchor="start" style="font-size:10.9px;font-weight:bold;">JNK1</text>
<text x="343.5" y="966.8" text-anchor="start" style="font-size:10.9px;font-weight:bold;">β-actin</text>
<text x="287.4" y="945.8" text-anchor="end" style="font-size:7.9px;font-weight:bold;">43</text>
<text x="287.4" y="969.6" text-anchor="end" style="font-size:7.9px;font-weight:bold;">43</text>
<line x1="288.3" y1="942.9" x2="292" y2="942.9" stroke="#000" stroke-width="1.3"/>
<line x1="288.3" y1="967.2" x2="292" y2="967.2" stroke="#000" stroke-width="1.3"/>
<clipPath id="cpg"><rect x="293.1" y="930.6" width="44.1" height="16.6"/></clipPath>
<g clip-path="url(#cpg)"><g filter="url(#b2)">
<rect x="294" y="931" width="20" height="16" fill="#777" opacity="0.22"/>
<rect x="316" y="931" width="21" height="16" fill="#fff" opacity="0.12"/>
<ellipse cx="303.7" cy="939.5" rx="9" ry="3" fill="#555" opacity="0.25"/>
</g><g filter="url(#b1)">
<rect x="297" y="935.6" width="13.5" height="1.4" rx="0.7" fill="#333" opacity="0.55"/>
<rect x="296" y="941.6" width="16" height="2.2" rx="1.1" fill="#111" opacity="0.9"/>
</g></g>
<g filter="url(#b1)">
<rect x="296.6" y="961.5" width="17" height="1.9" rx="0.95" fill="#111" opacity="0.88"/>
<rect x="317.7" y="960.8" width="16.6" height="2.0" rx="1" fill="#111" opacity="0.9" transform="rotate(-1.5 326 961.8)"/>
<ellipse cx="330" cy="961.6" rx="4" ry="1.2" fill="#111" opacity="0.5"/>
</g>
<text x="303.2" y="925" transform="rotate(-47.5 303.2 925)" stroke="#000" stroke-width="0.25" style="font-size:10.5px;font-weight:bold;font-style:italic">Jnk1<tspan dy="-3.5" style="font-size:7.3px">+/+</tspan></text>
<text x="326.5" y="925" transform="rotate(-47.5 326.5 925)" stroke="#000" stroke-width="0.25" style="font-size:10.5px;font-weight:bold;font-style:italic">Jnk1<tspan dy="-3.5" style="font-size:7.3px">-/-</tspan></text>
</g></svg></body></html>
